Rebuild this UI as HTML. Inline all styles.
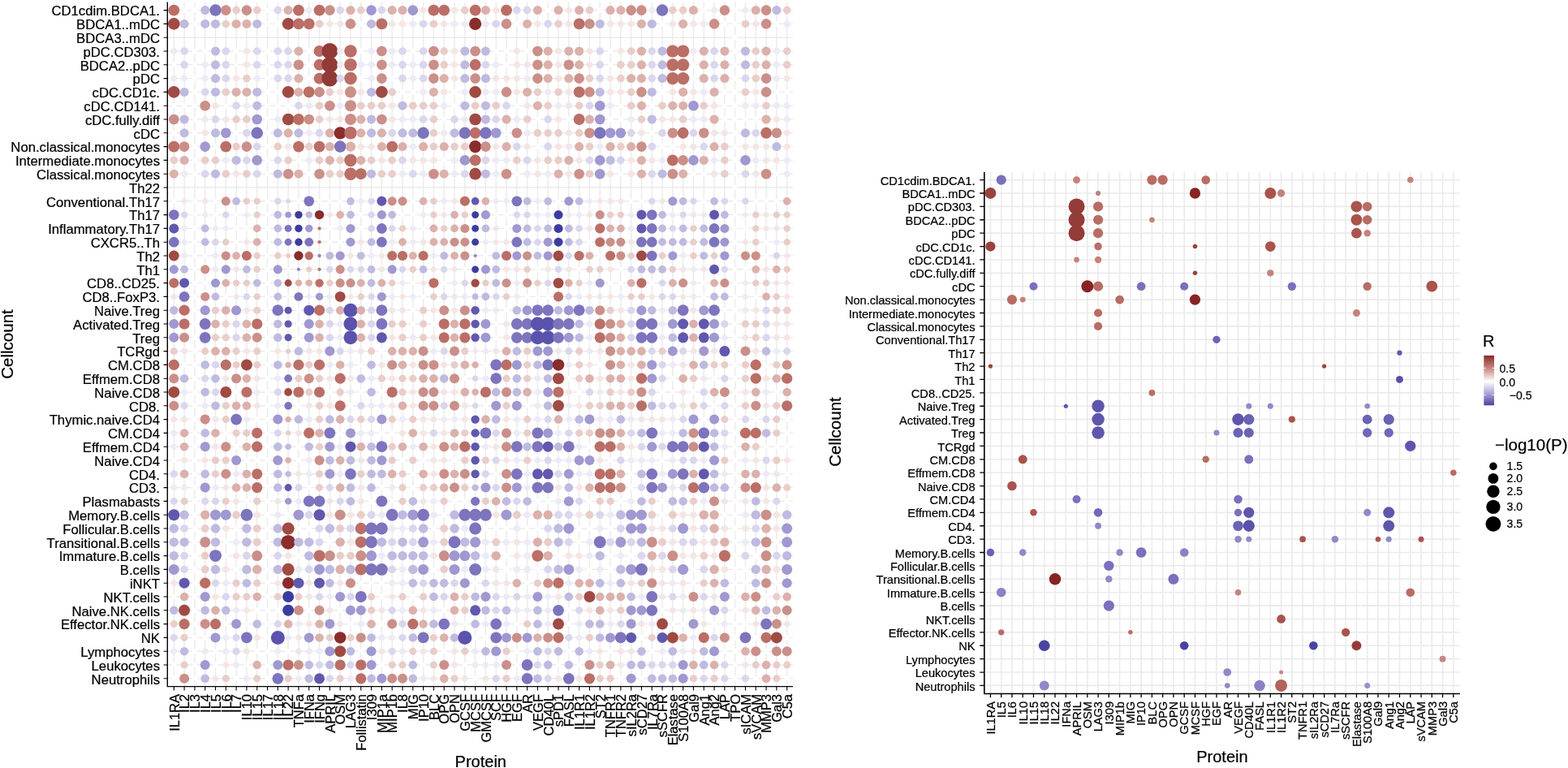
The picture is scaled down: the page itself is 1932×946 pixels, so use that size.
<!DOCTYPE html>
<html><head><meta charset="utf-8"><title>Cellcount vs Protein</title>
<style>html,body{margin:0;padding:0;background:#fff;}body{width:1932px;height:946px;overflow:hidden;}svg{display:block;}text{stroke:#000;stroke-width:0.22px;paint-order:stroke;}</style>
</head><body>
<svg width="1932" height="946" viewBox="0 0 1932 946" font-family="Liberation Sans, Arial, Helvetica, sans-serif">
<path d="M214.3 2.6V845.6M227.1 2.6V845.6M239.91 2.6V845.6M252.71 2.6V845.6M265.51 2.6V845.6M278.31 2.6V845.6M291.12 2.6V845.6M303.92 2.6V845.6M316.72 2.6V845.6M329.53 2.6V845.6M342.33 2.6V845.6M355.13 2.6V845.6M367.94 2.6V845.6M380.74 2.6V845.6M393.54 2.6V845.6M406.35 2.6V845.6M419.15 2.6V845.6M431.95 2.6V845.6M444.75 2.6V845.6M457.56 2.6V845.6M470.36 2.6V845.6M483.16 2.6V845.6M495.97 2.6V845.6M508.77 2.6V845.6M521.57 2.6V845.6M534.38 2.6V845.6M547.18 2.6V845.6M559.98 2.6V845.6M572.78 2.6V845.6M585.59 2.6V845.6M598.39 2.6V845.6M611.19 2.6V845.6M624 2.6V845.6M636.8 2.6V845.6M649.6 2.6V845.6M662.4 2.6V845.6M675.21 2.6V845.6M688.01 2.6V845.6M700.81 2.6V845.6M713.62 2.6V845.6M726.42 2.6V845.6M739.22 2.6V845.6M752.03 2.6V845.6M764.83 2.6V845.6M777.63 2.6V845.6M790.43 2.6V845.6M803.24 2.6V845.6M816.04 2.6V845.6M828.84 2.6V845.6M841.65 2.6V845.6M854.45 2.6V845.6M867.25 2.6V845.6M880.06 2.6V845.6M892.86 2.6V845.6M905.66 2.6V845.6M918.47 2.6V845.6M931.27 2.6V845.6M944.07 2.6V845.6M956.87 2.6V845.6M969.68 2.6V845.6M206.3 12.6H977M206.3 29.4H977M206.3 46.2H977M206.3 63H977M206.3 79.8H977M206.3 96.6H977M206.3 113.4H977M206.3 130.2H977M206.3 147H977M206.3 163.8H977M206.3 180.6H977M206.3 197.4H977M206.3 214.2H977M206.3 231H977M206.3 247.8H977M206.3 264.6H977M206.3 281.4H977M206.3 298.2H977M206.3 315H977M206.3 331.8H977M206.3 348.6H977M206.3 365.4H977M206.3 382.2H977M206.3 399H977M206.3 415.8H977M206.3 432.6H977M206.3 449.4H977M206.3 466.2H977M206.3 483H977M206.3 499.8H977M206.3 516.6H977M206.3 533.4H977M206.3 550.2H977M206.3 567H977M206.3 583.8H977M206.3 600.6H977M206.3 617.4H977M206.3 634.2H977M206.3 651H977M206.3 667.8H977M206.3 684.6H977M206.3 701.4H977M206.3 718.2H977M206.3 735H977M206.3 751.8H977M206.3 768.6H977M206.3 785.4H977M206.3 802.2H977M206.3 819H977M206.3 835.8H977" stroke="#ebebeb" stroke-width="1.4" fill="none"/>
<circle cx="214.3" cy="12.6" r="6.93" fill="#bb6e66"/>
<circle cx="227.1" cy="12.6" r="3.15" fill="#ffffff"/>
<circle cx="239.91" cy="12.6" r="3.15" fill="#ffffff"/>
<circle cx="252.71" cy="12.6" r="5.51" fill="#bfbae0"/>
<circle cx="265.51" cy="12.6" r="7.25" fill="#7d74be"/>
<circle cx="278.31" cy="12.6" r="6.3" fill="#cb8f89"/>
<circle cx="291.12" cy="12.6" r="4.73" fill="#e9cdc9"/>
<circle cx="303.92" cy="12.6" r="6.3" fill="#cb8f89"/>
<circle cx="316.72" cy="12.6" r="4.73" fill="#e9cdc9"/>
<circle cx="329.53" cy="12.6" r="3.15" fill="#ffffff"/>
<circle cx="342.33" cy="12.6" r="4.73" fill="#d9d6ee"/>
<circle cx="355.13" cy="12.6" r="5.51" fill="#dcb0ab"/>
<circle cx="367.94" cy="12.6" r="6.93" fill="#bb6e66"/>
<circle cx="380.74" cy="12.6" r="3.94" fill="#ecebf6"/>
<circle cx="393.54" cy="12.6" r="6.93" fill="#bb6e66"/>
<circle cx="406.35" cy="12.6" r="6.3" fill="#cb8f89"/>
<circle cx="419.15" cy="12.6" r="4.73" fill="#d9d6ee"/>
<circle cx="431.95" cy="12.6" r="5.51" fill="#dcb0ab"/>
<circle cx="444.75" cy="12.6" r="4.73" fill="#e9cdc9"/>
<circle cx="457.56" cy="12.6" r="6.3" fill="#a098d0"/>
<circle cx="470.36" cy="12.6" r="4.73" fill="#d9d6ee"/>
<circle cx="483.16" cy="12.6" r="5.51" fill="#dcb0ab"/>
<circle cx="495.97" cy="12.6" r="5.51" fill="#dcb0ab"/>
<circle cx="508.77" cy="12.6" r="6.3" fill="#a098d0"/>
<circle cx="521.57" cy="12.6" r="3.94" fill="#f4e6e4"/>
<circle cx="534.38" cy="12.6" r="6.93" fill="#bb6e66"/>
<circle cx="547.18" cy="12.6" r="6.93" fill="#bb6e66"/>
<circle cx="559.98" cy="12.6" r="3.94" fill="#f4e6e4"/>
<circle cx="572.78" cy="12.6" r="4.73" fill="#e9cdc9"/>
<circle cx="585.59" cy="12.6" r="6.93" fill="#bb6e66"/>
<circle cx="598.39" cy="12.6" r="5.51" fill="#dcb0ab"/>
<circle cx="611.19" cy="12.6" r="3.94" fill="#f4e6e4"/>
<circle cx="624" cy="12.6" r="6.93" fill="#bb6e66"/>
<circle cx="636.8" cy="12.6" r="4.73" fill="#d9d6ee"/>
<circle cx="649.6" cy="12.6" r="4.73" fill="#d9d6ee"/>
<circle cx="662.4" cy="12.6" r="5.51" fill="#dcb0ab"/>
<circle cx="675.21" cy="12.6" r="3.15" fill="#ffffff"/>
<circle cx="688.01" cy="12.6" r="5.51" fill="#dcb0ab"/>
<circle cx="700.81" cy="12.6" r="3.94" fill="#f4e6e4"/>
<circle cx="713.62" cy="12.6" r="5.51" fill="#dcb0ab"/>
<circle cx="726.42" cy="12.6" r="4.73" fill="#e9cdc9"/>
<circle cx="739.22" cy="12.6" r="3.15" fill="#ffffff"/>
<circle cx="752.03" cy="12.6" r="5.51" fill="#dcb0ab"/>
<circle cx="764.83" cy="12.6" r="5.51" fill="#dcb0ab"/>
<circle cx="777.63" cy="12.6" r="6.3" fill="#cb8f89"/>
<circle cx="790.43" cy="12.6" r="6.3" fill="#cb8f89"/>
<circle cx="803.24" cy="12.6" r="3.94" fill="#ecebf6"/>
<circle cx="816.04" cy="12.6" r="7.25" fill="#7d74be"/>
<circle cx="828.84" cy="12.6" r="4.73" fill="#e9cdc9"/>
<circle cx="841.65" cy="12.6" r="4.73" fill="#e9cdc9"/>
<circle cx="854.45" cy="12.6" r="5.51" fill="#dcb0ab"/>
<circle cx="867.25" cy="12.6" r="3.15" fill="#ffffff"/>
<circle cx="880.06" cy="12.6" r="3.94" fill="#ecebf6"/>
<circle cx="892.86" cy="12.6" r="6.3" fill="#cb8f89"/>
<circle cx="905.66" cy="12.6" r="3.15" fill="#ffffff"/>
<circle cx="918.47" cy="12.6" r="3.94" fill="#ecebf6"/>
<circle cx="931.27" cy="12.6" r="5.51" fill="#dcb0ab"/>
<circle cx="944.07" cy="12.6" r="6.3" fill="#cb8f89"/>
<circle cx="956.87" cy="12.6" r="5.51" fill="#bfbae0"/>
<circle cx="969.68" cy="12.6" r="4.73" fill="#e9cdc9"/>
<circle cx="214.3" cy="29.4" r="7.35" fill="#a04a44"/>
<circle cx="227.1" cy="29.4" r="5.51" fill="#bfbae0"/>
<circle cx="239.91" cy="29.4" r="3.15" fill="#ffffff"/>
<circle cx="252.71" cy="29.4" r="5.51" fill="#bfbae0"/>
<circle cx="265.51" cy="29.4" r="5.51" fill="#bfbae0"/>
<circle cx="278.31" cy="29.4" r="4.73" fill="#e9cdc9"/>
<circle cx="291.12" cy="29.4" r="5.51" fill="#dcb0ab"/>
<circle cx="303.92" cy="29.4" r="5.51" fill="#dcb0ab"/>
<circle cx="316.72" cy="29.4" r="5.51" fill="#bfbae0"/>
<circle cx="329.53" cy="29.4" r="3.15" fill="#ffffff"/>
<circle cx="342.33" cy="29.4" r="3.15" fill="#ffffff"/>
<circle cx="355.13" cy="29.4" r="7.35" fill="#a04a44"/>
<circle cx="367.94" cy="29.4" r="6.93" fill="#bb6e66"/>
<circle cx="380.74" cy="29.4" r="6.93" fill="#bb6e66"/>
<circle cx="393.54" cy="29.4" r="4.73" fill="#e9cdc9"/>
<circle cx="406.35" cy="29.4" r="3.94" fill="#f4e6e4"/>
<circle cx="419.15" cy="29.4" r="3.94" fill="#f4e6e4"/>
<circle cx="431.95" cy="29.4" r="6.3" fill="#cb8f89"/>
<circle cx="444.75" cy="29.4" r="3.15" fill="#ffffff"/>
<circle cx="457.56" cy="29.4" r="5.51" fill="#bfbae0"/>
<circle cx="470.36" cy="29.4" r="6.93" fill="#bb6e66"/>
<circle cx="483.16" cy="29.4" r="3.94" fill="#f4e6e4"/>
<circle cx="495.97" cy="29.4" r="3.94" fill="#f4e6e4"/>
<circle cx="508.77" cy="29.4" r="3.94" fill="#ecebf6"/>
<circle cx="521.57" cy="29.4" r="4.73" fill="#d9d6ee"/>
<circle cx="534.38" cy="29.4" r="4.73" fill="#e9cdc9"/>
<circle cx="547.18" cy="29.4" r="3.94" fill="#f4e6e4"/>
<circle cx="559.98" cy="29.4" r="3.94" fill="#ecebf6"/>
<circle cx="572.78" cy="29.4" r="3.94" fill="#ecebf6"/>
<circle cx="585.59" cy="29.4" r="7.61" fill="#892c2c"/>
<circle cx="598.39" cy="29.4" r="3.94" fill="#ecebf6"/>
<circle cx="611.19" cy="29.4" r="4.73" fill="#d9d6ee"/>
<circle cx="624" cy="29.4" r="6.3" fill="#cb8f89"/>
<circle cx="636.8" cy="29.4" r="3.15" fill="#ffffff"/>
<circle cx="649.6" cy="29.4" r="5.51" fill="#dcb0ab"/>
<circle cx="662.4" cy="29.4" r="3.94" fill="#f4e6e4"/>
<circle cx="675.21" cy="29.4" r="4.73" fill="#d9d6ee"/>
<circle cx="688.01" cy="29.4" r="4.73" fill="#e9cdc9"/>
<circle cx="700.81" cy="29.4" r="3.94" fill="#f4e6e4"/>
<circle cx="713.62" cy="29.4" r="6.93" fill="#bb6e66"/>
<circle cx="726.42" cy="29.4" r="6.3" fill="#cb8f89"/>
<circle cx="739.22" cy="29.4" r="5.51" fill="#bfbae0"/>
<circle cx="752.03" cy="29.4" r="3.94" fill="#f4e6e4"/>
<circle cx="764.83" cy="29.4" r="3.94" fill="#f4e6e4"/>
<circle cx="777.63" cy="29.4" r="3.94" fill="#f4e6e4"/>
<circle cx="790.43" cy="29.4" r="5.51" fill="#dcb0ab"/>
<circle cx="803.24" cy="29.4" r="5.51" fill="#bfbae0"/>
<circle cx="816.04" cy="29.4" r="3.15" fill="#ffffff"/>
<circle cx="828.84" cy="29.4" r="3.94" fill="#f4e6e4"/>
<circle cx="841.65" cy="29.4" r="5.51" fill="#dcb0ab"/>
<circle cx="854.45" cy="29.4" r="3.94" fill="#f4e6e4"/>
<circle cx="867.25" cy="29.4" r="3.94" fill="#ecebf6"/>
<circle cx="880.06" cy="29.4" r="6.3" fill="#cb8f89"/>
<circle cx="892.86" cy="29.4" r="3.15" fill="#ffffff"/>
<circle cx="905.66" cy="29.4" r="3.15" fill="#ffffff"/>
<circle cx="918.47" cy="29.4" r="4.73" fill="#e9cdc9"/>
<circle cx="931.27" cy="29.4" r="3.94" fill="#f4e6e4"/>
<circle cx="944.07" cy="29.4" r="6.3" fill="#cb8f89"/>
<circle cx="956.87" cy="29.4" r="3.15" fill="#ffffff"/>
<circle cx="969.68" cy="29.4" r="3.94" fill="#ecebf6"/>
<circle cx="905.66" cy="46.2" r="3.15" fill="#ffffff"/>
<circle cx="214.3" cy="63" r="3.94" fill="#ecebf6"/>
<circle cx="227.1" cy="63" r="4.73" fill="#d9d6ee"/>
<circle cx="239.91" cy="63" r="3.15" fill="#ffffff"/>
<circle cx="252.71" cy="63" r="3.15" fill="#ffffff"/>
<circle cx="265.51" cy="63" r="5.51" fill="#bfbae0"/>
<circle cx="278.31" cy="63" r="4.73" fill="#d9d6ee"/>
<circle cx="291.12" cy="63" r="3.15" fill="#ffffff"/>
<circle cx="303.92" cy="63" r="3.94" fill="#f4e6e4"/>
<circle cx="316.72" cy="63" r="4.73" fill="#d9d6ee"/>
<circle cx="329.53" cy="63" r="3.15" fill="#ffffff"/>
<circle cx="342.33" cy="63" r="4.73" fill="#d9d6ee"/>
<circle cx="355.13" cy="63" r="4.73" fill="#d9d6ee"/>
<circle cx="367.94" cy="63" r="5.51" fill="#dcb0ab"/>
<circle cx="380.74" cy="63" r="3.15" fill="#ffffff"/>
<circle cx="393.54" cy="63" r="6.93" fill="#bb6e66"/>
<circle cx="406.35" cy="63" r="9.97" fill="#923a36"/>
<circle cx="419.15" cy="63" r="3.94" fill="#ecebf6"/>
<circle cx="431.95" cy="63" r="7.76" fill="#bb6e66"/>
<circle cx="444.75" cy="63" r="3.15" fill="#ffffff"/>
<circle cx="457.56" cy="63" r="3.94" fill="#ecebf6"/>
<circle cx="470.36" cy="63" r="6.3" fill="#cb8f89"/>
<circle cx="483.16" cy="63" r="3.94" fill="#ecebf6"/>
<circle cx="495.97" cy="63" r="4.73" fill="#d9d6ee"/>
<circle cx="508.77" cy="63" r="3.15" fill="#ffffff"/>
<circle cx="521.57" cy="63" r="4.73" fill="#d9d6ee"/>
<circle cx="534.38" cy="63" r="6.3" fill="#cb8f89"/>
<circle cx="547.18" cy="63" r="4.73" fill="#e9cdc9"/>
<circle cx="559.98" cy="63" r="3.94" fill="#f4e6e4"/>
<circle cx="572.78" cy="63" r="5.51" fill="#bfbae0"/>
<circle cx="585.59" cy="63" r="6.3" fill="#cb8f89"/>
<circle cx="598.39" cy="63" r="5.51" fill="#bfbae0"/>
<circle cx="611.19" cy="63" r="3.15" fill="#ffffff"/>
<circle cx="624" cy="63" r="3.15" fill="#ffffff"/>
<circle cx="636.8" cy="63" r="3.94" fill="#f4e6e4"/>
<circle cx="649.6" cy="63" r="3.15" fill="#ffffff"/>
<circle cx="662.4" cy="63" r="6.3" fill="#cb8f89"/>
<circle cx="675.21" cy="63" r="5.51" fill="#dcb0ab"/>
<circle cx="688.01" cy="63" r="3.94" fill="#f4e6e4"/>
<circle cx="700.81" cy="63" r="5.51" fill="#dcb0ab"/>
<circle cx="713.62" cy="63" r="5.51" fill="#dcb0ab"/>
<circle cx="726.42" cy="63" r="3.94" fill="#f4e6e4"/>
<circle cx="739.22" cy="63" r="4.73" fill="#d9d6ee"/>
<circle cx="752.03" cy="63" r="3.15" fill="#ffffff"/>
<circle cx="764.83" cy="63" r="3.94" fill="#f4e6e4"/>
<circle cx="777.63" cy="63" r="4.73" fill="#e9cdc9"/>
<circle cx="790.43" cy="63" r="5.51" fill="#dcb0ab"/>
<circle cx="803.24" cy="63" r="4.73" fill="#d9d6ee"/>
<circle cx="816.04" cy="63" r="5.51" fill="#bfbae0"/>
<circle cx="828.84" cy="63" r="7.62" fill="#bb6e66"/>
<circle cx="841.65" cy="63" r="7.62" fill="#bb6e66"/>
<circle cx="854.45" cy="63" r="3.94" fill="#ecebf6"/>
<circle cx="867.25" cy="63" r="5.51" fill="#dcb0ab"/>
<circle cx="880.06" cy="63" r="4.73" fill="#d9d6ee"/>
<circle cx="892.86" cy="63" r="5.51" fill="#dcb0ab"/>
<circle cx="905.66" cy="63" r="3.15" fill="#ffffff"/>
<circle cx="918.47" cy="63" r="5.51" fill="#bfbae0"/>
<circle cx="931.27" cy="63" r="4.73" fill="#e9cdc9"/>
<circle cx="944.07" cy="63" r="5.51" fill="#dcb0ab"/>
<circle cx="956.87" cy="63" r="3.94" fill="#ecebf6"/>
<circle cx="969.68" cy="63" r="4.73" fill="#e9cdc9"/>
<circle cx="214.3" cy="79.8" r="3.15" fill="#ffffff"/>
<circle cx="227.1" cy="79.8" r="4.73" fill="#d9d6ee"/>
<circle cx="239.91" cy="79.8" r="3.15" fill="#ffffff"/>
<circle cx="252.71" cy="79.8" r="3.94" fill="#ecebf6"/>
<circle cx="265.51" cy="79.8" r="5.51" fill="#bfbae0"/>
<circle cx="278.31" cy="79.8" r="4.73" fill="#d9d6ee"/>
<circle cx="291.12" cy="79.8" r="3.15" fill="#ffffff"/>
<circle cx="303.92" cy="79.8" r="3.94" fill="#f4e6e4"/>
<circle cx="316.72" cy="79.8" r="4.73" fill="#d9d6ee"/>
<circle cx="329.53" cy="79.8" r="3.15" fill="#ffffff"/>
<circle cx="342.33" cy="79.8" r="4.73" fill="#d9d6ee"/>
<circle cx="355.13" cy="79.8" r="4.73" fill="#d9d6ee"/>
<circle cx="367.94" cy="79.8" r="6.3" fill="#cb8f89"/>
<circle cx="380.74" cy="79.8" r="3.15" fill="#ffffff"/>
<circle cx="393.54" cy="79.8" r="6.93" fill="#bb6e66"/>
<circle cx="406.35" cy="79.8" r="9.97" fill="#923a36"/>
<circle cx="419.15" cy="79.8" r="3.94" fill="#ecebf6"/>
<circle cx="431.95" cy="79.8" r="7.76" fill="#bb6e66"/>
<circle cx="444.75" cy="79.8" r="3.94" fill="#ecebf6"/>
<circle cx="457.56" cy="79.8" r="3.94" fill="#ecebf6"/>
<circle cx="470.36" cy="79.8" r="6.3" fill="#cb8f89"/>
<circle cx="483.16" cy="79.8" r="3.94" fill="#ecebf6"/>
<circle cx="495.97" cy="79.8" r="4.73" fill="#d9d6ee"/>
<circle cx="508.77" cy="79.8" r="3.94" fill="#ecebf6"/>
<circle cx="521.57" cy="79.8" r="4.73" fill="#d9d6ee"/>
<circle cx="534.38" cy="79.8" r="6.3" fill="#cb8f89"/>
<circle cx="547.18" cy="79.8" r="4.73" fill="#e9cdc9"/>
<circle cx="559.98" cy="79.8" r="3.94" fill="#f4e6e4"/>
<circle cx="572.78" cy="79.8" r="5.51" fill="#bfbae0"/>
<circle cx="585.59" cy="79.8" r="6.93" fill="#bb6e66"/>
<circle cx="598.39" cy="79.8" r="4.73" fill="#d9d6ee"/>
<circle cx="611.19" cy="79.8" r="3.94" fill="#ecebf6"/>
<circle cx="624" cy="79.8" r="3.15" fill="#ffffff"/>
<circle cx="636.8" cy="79.8" r="3.94" fill="#f4e6e4"/>
<circle cx="649.6" cy="79.8" r="3.94" fill="#f4e6e4"/>
<circle cx="662.4" cy="79.8" r="6.3" fill="#cb8f89"/>
<circle cx="675.21" cy="79.8" r="5.51" fill="#dcb0ab"/>
<circle cx="688.01" cy="79.8" r="3.94" fill="#f4e6e4"/>
<circle cx="700.81" cy="79.8" r="6.3" fill="#cb8f89"/>
<circle cx="713.62" cy="79.8" r="5.51" fill="#dcb0ab"/>
<circle cx="726.42" cy="79.8" r="3.94" fill="#f4e6e4"/>
<circle cx="739.22" cy="79.8" r="4.73" fill="#d9d6ee"/>
<circle cx="752.03" cy="79.8" r="3.15" fill="#ffffff"/>
<circle cx="764.83" cy="79.8" r="4.73" fill="#e9cdc9"/>
<circle cx="777.63" cy="79.8" r="4.73" fill="#e9cdc9"/>
<circle cx="790.43" cy="79.8" r="5.51" fill="#dcb0ab"/>
<circle cx="803.24" cy="79.8" r="4.73" fill="#d9d6ee"/>
<circle cx="816.04" cy="79.8" r="5.51" fill="#bfbae0"/>
<circle cx="828.84" cy="79.8" r="7.62" fill="#bb6e66"/>
<circle cx="841.65" cy="79.8" r="7.62" fill="#bb6e66"/>
<circle cx="854.45" cy="79.8" r="3.15" fill="#ffffff"/>
<circle cx="867.25" cy="79.8" r="5.51" fill="#dcb0ab"/>
<circle cx="880.06" cy="79.8" r="4.73" fill="#d9d6ee"/>
<circle cx="892.86" cy="79.8" r="5.51" fill="#dcb0ab"/>
<circle cx="905.66" cy="79.8" r="3.15" fill="#ffffff"/>
<circle cx="918.47" cy="79.8" r="5.51" fill="#bfbae0"/>
<circle cx="931.27" cy="79.8" r="4.73" fill="#e9cdc9"/>
<circle cx="944.07" cy="79.8" r="5.51" fill="#dcb0ab"/>
<circle cx="956.87" cy="79.8" r="3.94" fill="#ecebf6"/>
<circle cx="969.68" cy="79.8" r="4.73" fill="#e9cdc9"/>
<circle cx="214.3" cy="96.6" r="3.94" fill="#ecebf6"/>
<circle cx="227.1" cy="96.6" r="3.94" fill="#ecebf6"/>
<circle cx="239.91" cy="96.6" r="3.15" fill="#ffffff"/>
<circle cx="252.71" cy="96.6" r="3.94" fill="#ecebf6"/>
<circle cx="265.51" cy="96.6" r="5.51" fill="#bfbae0"/>
<circle cx="278.31" cy="96.6" r="4.73" fill="#d9d6ee"/>
<circle cx="291.12" cy="96.6" r="3.94" fill="#f4e6e4"/>
<circle cx="303.92" cy="96.6" r="4.73" fill="#e9cdc9"/>
<circle cx="316.72" cy="96.6" r="3.94" fill="#ecebf6"/>
<circle cx="329.53" cy="96.6" r="3.15" fill="#ffffff"/>
<circle cx="342.33" cy="96.6" r="4.73" fill="#d9d6ee"/>
<circle cx="355.13" cy="96.6" r="4.73" fill="#d9d6ee"/>
<circle cx="367.94" cy="96.6" r="5.51" fill="#dcb0ab"/>
<circle cx="380.74" cy="96.6" r="3.15" fill="#ffffff"/>
<circle cx="393.54" cy="96.6" r="6.93" fill="#bb6e66"/>
<circle cx="406.35" cy="96.6" r="9.97" fill="#923a36"/>
<circle cx="419.15" cy="96.6" r="4.73" fill="#d9d6ee"/>
<circle cx="431.95" cy="96.6" r="7.76" fill="#bb6e66"/>
<circle cx="444.75" cy="96.6" r="3.15" fill="#ffffff"/>
<circle cx="457.56" cy="96.6" r="3.94" fill="#ecebf6"/>
<circle cx="470.36" cy="96.6" r="6.3" fill="#cb8f89"/>
<circle cx="483.16" cy="96.6" r="3.15" fill="#ffffff"/>
<circle cx="495.97" cy="96.6" r="4.73" fill="#d9d6ee"/>
<circle cx="508.77" cy="96.6" r="3.94" fill="#ecebf6"/>
<circle cx="521.57" cy="96.6" r="4.73" fill="#d9d6ee"/>
<circle cx="534.38" cy="96.6" r="6.3" fill="#cb8f89"/>
<circle cx="547.18" cy="96.6" r="5.51" fill="#dcb0ab"/>
<circle cx="559.98" cy="96.6" r="3.94" fill="#f4e6e4"/>
<circle cx="572.78" cy="96.6" r="5.51" fill="#bfbae0"/>
<circle cx="585.59" cy="96.6" r="6.3" fill="#cb8f89"/>
<circle cx="598.39" cy="96.6" r="5.51" fill="#bfbae0"/>
<circle cx="611.19" cy="96.6" r="3.94" fill="#f4e6e4"/>
<circle cx="624" cy="96.6" r="3.94" fill="#f4e6e4"/>
<circle cx="636.8" cy="96.6" r="3.94" fill="#f4e6e4"/>
<circle cx="649.6" cy="96.6" r="3.94" fill="#ecebf6"/>
<circle cx="662.4" cy="96.6" r="6.3" fill="#cb8f89"/>
<circle cx="675.21" cy="96.6" r="5.51" fill="#dcb0ab"/>
<circle cx="688.01" cy="96.6" r="3.94" fill="#f4e6e4"/>
<circle cx="700.81" cy="96.6" r="5.51" fill="#dcb0ab"/>
<circle cx="713.62" cy="96.6" r="6.3" fill="#cb8f89"/>
<circle cx="726.42" cy="96.6" r="4.73" fill="#e9cdc9"/>
<circle cx="739.22" cy="96.6" r="4.73" fill="#d9d6ee"/>
<circle cx="752.03" cy="96.6" r="3.94" fill="#f4e6e4"/>
<circle cx="764.83" cy="96.6" r="4.73" fill="#e9cdc9"/>
<circle cx="777.63" cy="96.6" r="5.51" fill="#dcb0ab"/>
<circle cx="790.43" cy="96.6" r="5.51" fill="#dcb0ab"/>
<circle cx="803.24" cy="96.6" r="4.73" fill="#d9d6ee"/>
<circle cx="816.04" cy="96.6" r="5.51" fill="#bfbae0"/>
<circle cx="828.84" cy="96.6" r="7.62" fill="#bb6e66"/>
<circle cx="841.65" cy="96.6" r="7.62" fill="#bb6e66"/>
<circle cx="854.45" cy="96.6" r="3.15" fill="#ffffff"/>
<circle cx="867.25" cy="96.6" r="5.51" fill="#dcb0ab"/>
<circle cx="880.06" cy="96.6" r="4.73" fill="#d9d6ee"/>
<circle cx="892.86" cy="96.6" r="5.51" fill="#dcb0ab"/>
<circle cx="905.66" cy="96.6" r="3.15" fill="#ffffff"/>
<circle cx="918.47" cy="96.6" r="4.73" fill="#d9d6ee"/>
<circle cx="931.27" cy="96.6" r="4.73" fill="#e9cdc9"/>
<circle cx="944.07" cy="96.6" r="6.3" fill="#cb8f89"/>
<circle cx="956.87" cy="96.6" r="3.94" fill="#ecebf6"/>
<circle cx="969.68" cy="96.6" r="3.94" fill="#f4e6e4"/>
<circle cx="214.3" cy="113.4" r="7.35" fill="#a04a44"/>
<circle cx="227.1" cy="113.4" r="5.51" fill="#bfbae0"/>
<circle cx="239.91" cy="113.4" r="3.15" fill="#ffffff"/>
<circle cx="252.71" cy="113.4" r="4.73" fill="#d9d6ee"/>
<circle cx="265.51" cy="113.4" r="5.51" fill="#bfbae0"/>
<circle cx="278.31" cy="113.4" r="4.73" fill="#e9cdc9"/>
<circle cx="291.12" cy="113.4" r="5.51" fill="#dcb0ab"/>
<circle cx="303.92" cy="113.4" r="5.51" fill="#dcb0ab"/>
<circle cx="316.72" cy="113.4" r="5.51" fill="#bfbae0"/>
<circle cx="329.53" cy="113.4" r="3.15" fill="#ffffff"/>
<circle cx="342.33" cy="113.4" r="3.15" fill="#ffffff"/>
<circle cx="355.13" cy="113.4" r="7.35" fill="#a04a44"/>
<circle cx="367.94" cy="113.4" r="5.51" fill="#dcb0ab"/>
<circle cx="380.74" cy="113.4" r="6.93" fill="#bb6e66"/>
<circle cx="393.54" cy="113.4" r="6.3" fill="#cb8f89"/>
<circle cx="406.35" cy="113.4" r="4.73" fill="#e9cdc9"/>
<circle cx="419.15" cy="113.4" r="3.94" fill="#f4e6e4"/>
<circle cx="431.95" cy="113.4" r="7.06" fill="#cb8f89"/>
<circle cx="444.75" cy="113.4" r="3.94" fill="#f4e6e4"/>
<circle cx="457.56" cy="113.4" r="5.51" fill="#bfbae0"/>
<circle cx="470.36" cy="113.4" r="7.35" fill="#a04a44"/>
<circle cx="483.16" cy="113.4" r="4.73" fill="#e9cdc9"/>
<circle cx="495.97" cy="113.4" r="3.15" fill="#ffffff"/>
<circle cx="508.77" cy="113.4" r="3.15" fill="#ffffff"/>
<circle cx="521.57" cy="113.4" r="3.94" fill="#ecebf6"/>
<circle cx="534.38" cy="113.4" r="5.51" fill="#dcb0ab"/>
<circle cx="547.18" cy="113.4" r="3.94" fill="#f4e6e4"/>
<circle cx="559.98" cy="113.4" r="3.15" fill="#ffffff"/>
<circle cx="572.78" cy="113.4" r="3.94" fill="#ecebf6"/>
<circle cx="585.59" cy="113.4" r="7.35" fill="#a04a44"/>
<circle cx="598.39" cy="113.4" r="3.94" fill="#ecebf6"/>
<circle cx="611.19" cy="113.4" r="3.94" fill="#ecebf6"/>
<circle cx="624" cy="113.4" r="6.3" fill="#cb8f89"/>
<circle cx="636.8" cy="113.4" r="3.94" fill="#f4e6e4"/>
<circle cx="649.6" cy="113.4" r="5.51" fill="#dcb0ab"/>
<circle cx="662.4" cy="113.4" r="4.73" fill="#e9cdc9"/>
<circle cx="675.21" cy="113.4" r="3.94" fill="#ecebf6"/>
<circle cx="688.01" cy="113.4" r="4.73" fill="#e9cdc9"/>
<circle cx="700.81" cy="113.4" r="3.94" fill="#f4e6e4"/>
<circle cx="713.62" cy="113.4" r="6.93" fill="#bb6e66"/>
<circle cx="726.42" cy="113.4" r="6.3" fill="#cb8f89"/>
<circle cx="739.22" cy="113.4" r="5.51" fill="#bfbae0"/>
<circle cx="752.03" cy="113.4" r="3.94" fill="#f4e6e4"/>
<circle cx="764.83" cy="113.4" r="3.94" fill="#f4e6e4"/>
<circle cx="777.63" cy="113.4" r="4.73" fill="#e9cdc9"/>
<circle cx="790.43" cy="113.4" r="6.3" fill="#cb8f89"/>
<circle cx="803.24" cy="113.4" r="5.51" fill="#bfbae0"/>
<circle cx="816.04" cy="113.4" r="3.15" fill="#ffffff"/>
<circle cx="828.84" cy="113.4" r="3.94" fill="#f4e6e4"/>
<circle cx="841.65" cy="113.4" r="5.51" fill="#dcb0ab"/>
<circle cx="854.45" cy="113.4" r="3.94" fill="#f4e6e4"/>
<circle cx="867.25" cy="113.4" r="3.94" fill="#ecebf6"/>
<circle cx="880.06" cy="113.4" r="5.51" fill="#dcb0ab"/>
<circle cx="892.86" cy="113.4" r="3.15" fill="#ffffff"/>
<circle cx="905.66" cy="113.4" r="3.15" fill="#ffffff"/>
<circle cx="918.47" cy="113.4" r="4.73" fill="#e9cdc9"/>
<circle cx="931.27" cy="113.4" r="3.94" fill="#f4e6e4"/>
<circle cx="944.07" cy="113.4" r="6.3" fill="#cb8f89"/>
<circle cx="956.87" cy="113.4" r="3.15" fill="#ffffff"/>
<circle cx="969.68" cy="113.4" r="3.15" fill="#ffffff"/>
<circle cx="214.3" cy="130.2" r="3.15" fill="#ffffff"/>
<circle cx="227.1" cy="130.2" r="3.15" fill="#ffffff"/>
<circle cx="239.91" cy="130.2" r="3.15" fill="#ffffff"/>
<circle cx="252.71" cy="130.2" r="6.3" fill="#cb8f89"/>
<circle cx="265.51" cy="130.2" r="3.94" fill="#f4e6e4"/>
<circle cx="278.31" cy="130.2" r="3.15" fill="#ffffff"/>
<circle cx="291.12" cy="130.2" r="4.73" fill="#d9d6ee"/>
<circle cx="303.92" cy="130.2" r="3.94" fill="#ecebf6"/>
<circle cx="316.72" cy="130.2" r="5.51" fill="#bfbae0"/>
<circle cx="329.53" cy="130.2" r="3.15" fill="#ffffff"/>
<circle cx="342.33" cy="130.2" r="3.15" fill="#ffffff"/>
<circle cx="355.13" cy="130.2" r="3.15" fill="#ffffff"/>
<circle cx="367.94" cy="130.2" r="4.73" fill="#d9d6ee"/>
<circle cx="380.74" cy="130.2" r="3.94" fill="#ecebf6"/>
<circle cx="393.54" cy="130.2" r="4.73" fill="#e9cdc9"/>
<circle cx="406.35" cy="130.2" r="6.3" fill="#cb8f89"/>
<circle cx="419.15" cy="130.2" r="3.94" fill="#ecebf6"/>
<circle cx="431.95" cy="130.2" r="7.06" fill="#cb8f89"/>
<circle cx="444.75" cy="130.2" r="4.73" fill="#e9cdc9"/>
<circle cx="457.56" cy="130.2" r="4.73" fill="#e9cdc9"/>
<circle cx="470.36" cy="130.2" r="4.73" fill="#e9cdc9"/>
<circle cx="483.16" cy="130.2" r="3.94" fill="#f4e6e4"/>
<circle cx="495.97" cy="130.2" r="5.51" fill="#bfbae0"/>
<circle cx="508.77" cy="130.2" r="4.73" fill="#e9cdc9"/>
<circle cx="521.57" cy="130.2" r="4.73" fill="#e9cdc9"/>
<circle cx="534.38" cy="130.2" r="4.73" fill="#e9cdc9"/>
<circle cx="547.18" cy="130.2" r="3.94" fill="#ecebf6"/>
<circle cx="559.98" cy="130.2" r="3.15" fill="#ffffff"/>
<circle cx="572.78" cy="130.2" r="5.51" fill="#bfbae0"/>
<circle cx="585.59" cy="130.2" r="4.73" fill="#e9cdc9"/>
<circle cx="598.39" cy="130.2" r="5.51" fill="#bfbae0"/>
<circle cx="611.19" cy="130.2" r="4.73" fill="#e9cdc9"/>
<circle cx="624" cy="130.2" r="4.73" fill="#d9d6ee"/>
<circle cx="636.8" cy="130.2" r="3.15" fill="#ffffff"/>
<circle cx="649.6" cy="130.2" r="3.94" fill="#f4e6e4"/>
<circle cx="662.4" cy="130.2" r="5.51" fill="#dcb0ab"/>
<circle cx="675.21" cy="130.2" r="4.73" fill="#e9cdc9"/>
<circle cx="688.01" cy="130.2" r="3.94" fill="#ecebf6"/>
<circle cx="700.81" cy="130.2" r="3.94" fill="#f4e6e4"/>
<circle cx="713.62" cy="130.2" r="4.73" fill="#e9cdc9"/>
<circle cx="726.42" cy="130.2" r="4.73" fill="#d9d6ee"/>
<circle cx="739.22" cy="130.2" r="6.3" fill="#a098d0"/>
<circle cx="752.03" cy="130.2" r="3.94" fill="#ecebf6"/>
<circle cx="764.83" cy="130.2" r="3.15" fill="#ffffff"/>
<circle cx="777.63" cy="130.2" r="4.73" fill="#e9cdc9"/>
<circle cx="790.43" cy="130.2" r="5.51" fill="#dcb0ab"/>
<circle cx="803.24" cy="130.2" r="3.15" fill="#ffffff"/>
<circle cx="816.04" cy="130.2" r="4.73" fill="#e9cdc9"/>
<circle cx="828.84" cy="130.2" r="5.51" fill="#dcb0ab"/>
<circle cx="841.65" cy="130.2" r="5.51" fill="#dcb0ab"/>
<circle cx="854.45" cy="130.2" r="6.3" fill="#a098d0"/>
<circle cx="867.25" cy="130.2" r="4.73" fill="#e9cdc9"/>
<circle cx="880.06" cy="130.2" r="3.94" fill="#f4e6e4"/>
<circle cx="892.86" cy="130.2" r="3.15" fill="#ffffff"/>
<circle cx="905.66" cy="130.2" r="3.15" fill="#ffffff"/>
<circle cx="918.47" cy="130.2" r="3.94" fill="#ecebf6"/>
<circle cx="931.27" cy="130.2" r="3.94" fill="#ecebf6"/>
<circle cx="944.07" cy="130.2" r="4.73" fill="#e9cdc9"/>
<circle cx="956.87" cy="130.2" r="3.94" fill="#ecebf6"/>
<circle cx="969.68" cy="130.2" r="3.94" fill="#ecebf6"/>
<circle cx="214.3" cy="147" r="6.3" fill="#cb8f89"/>
<circle cx="227.1" cy="147" r="5.51" fill="#bfbae0"/>
<circle cx="239.91" cy="147" r="3.15" fill="#ffffff"/>
<circle cx="252.71" cy="147" r="3.94" fill="#ecebf6"/>
<circle cx="265.51" cy="147" r="4.73" fill="#d9d6ee"/>
<circle cx="278.31" cy="147" r="3.94" fill="#f4e6e4"/>
<circle cx="291.12" cy="147" r="4.73" fill="#e9cdc9"/>
<circle cx="303.92" cy="147" r="4.73" fill="#e9cdc9"/>
<circle cx="316.72" cy="147" r="6.3" fill="#a098d0"/>
<circle cx="329.53" cy="147" r="3.15" fill="#ffffff"/>
<circle cx="342.33" cy="147" r="3.94" fill="#ecebf6"/>
<circle cx="355.13" cy="147" r="7.35" fill="#a04a44"/>
<circle cx="367.94" cy="147" r="6.93" fill="#bb6e66"/>
<circle cx="380.74" cy="147" r="6.3" fill="#cb8f89"/>
<circle cx="393.54" cy="147" r="4.73" fill="#e9cdc9"/>
<circle cx="406.35" cy="147" r="3.94" fill="#f4e6e4"/>
<circle cx="419.15" cy="147" r="3.94" fill="#f4e6e4"/>
<circle cx="431.95" cy="147" r="7.06" fill="#cb8f89"/>
<circle cx="444.75" cy="147" r="5.51" fill="#dcb0ab"/>
<circle cx="457.56" cy="147" r="5.51" fill="#bfbae0"/>
<circle cx="470.36" cy="147" r="6.3" fill="#cb8f89"/>
<circle cx="483.16" cy="147" r="3.94" fill="#f4e6e4"/>
<circle cx="495.97" cy="147" r="3.94" fill="#ecebf6"/>
<circle cx="508.77" cy="147" r="3.94" fill="#ecebf6"/>
<circle cx="521.57" cy="147" r="4.73" fill="#d9d6ee"/>
<circle cx="534.38" cy="147" r="4.73" fill="#e9cdc9"/>
<circle cx="547.18" cy="147" r="3.15" fill="#ffffff"/>
<circle cx="559.98" cy="147" r="4.73" fill="#d9d6ee"/>
<circle cx="572.78" cy="147" r="3.94" fill="#ecebf6"/>
<circle cx="585.59" cy="147" r="7.35" fill="#a04a44"/>
<circle cx="598.39" cy="147" r="5.51" fill="#bfbae0"/>
<circle cx="611.19" cy="147" r="4.73" fill="#d9d6ee"/>
<circle cx="624" cy="147" r="5.51" fill="#dcb0ab"/>
<circle cx="636.8" cy="147" r="3.94" fill="#ecebf6"/>
<circle cx="649.6" cy="147" r="4.73" fill="#e9cdc9"/>
<circle cx="662.4" cy="147" r="3.15" fill="#ffffff"/>
<circle cx="675.21" cy="147" r="4.73" fill="#d9d6ee"/>
<circle cx="688.01" cy="147" r="3.94" fill="#f4e6e4"/>
<circle cx="700.81" cy="147" r="3.15" fill="#ffffff"/>
<circle cx="713.62" cy="147" r="6.93" fill="#bb6e66"/>
<circle cx="726.42" cy="147" r="5.51" fill="#dcb0ab"/>
<circle cx="739.22" cy="147" r="6.3" fill="#a098d0"/>
<circle cx="752.03" cy="147" r="3.15" fill="#ffffff"/>
<circle cx="764.83" cy="147" r="3.15" fill="#ffffff"/>
<circle cx="777.63" cy="147" r="3.94" fill="#ecebf6"/>
<circle cx="790.43" cy="147" r="4.73" fill="#e9cdc9"/>
<circle cx="803.24" cy="147" r="5.51" fill="#bfbae0"/>
<circle cx="816.04" cy="147" r="3.94" fill="#f4e6e4"/>
<circle cx="828.84" cy="147" r="3.94" fill="#f4e6e4"/>
<circle cx="841.65" cy="147" r="4.73" fill="#e9cdc9"/>
<circle cx="854.45" cy="147" r="3.94" fill="#ecebf6"/>
<circle cx="867.25" cy="147" r="3.94" fill="#ecebf6"/>
<circle cx="880.06" cy="147" r="5.51" fill="#dcb0ab"/>
<circle cx="892.86" cy="147" r="3.15" fill="#ffffff"/>
<circle cx="905.66" cy="147" r="3.15" fill="#ffffff"/>
<circle cx="918.47" cy="147" r="3.15" fill="#ffffff"/>
<circle cx="931.27" cy="147" r="3.15" fill="#ffffff"/>
<circle cx="944.07" cy="147" r="5.51" fill="#dcb0ab"/>
<circle cx="956.87" cy="147" r="3.94" fill="#f4e6e4"/>
<circle cx="969.68" cy="147" r="3.94" fill="#ecebf6"/>
<circle cx="214.3" cy="163.8" r="3.15" fill="#ffffff"/>
<circle cx="227.1" cy="163.8" r="5.51" fill="#bfbae0"/>
<circle cx="239.91" cy="163.8" r="3.15" fill="#ffffff"/>
<circle cx="252.71" cy="163.8" r="3.94" fill="#f4e6e4"/>
<circle cx="265.51" cy="163.8" r="5.51" fill="#bfbae0"/>
<circle cx="278.31" cy="163.8" r="6.3" fill="#a098d0"/>
<circle cx="291.12" cy="163.8" r="3.15" fill="#ffffff"/>
<circle cx="303.92" cy="163.8" r="4.73" fill="#d9d6ee"/>
<circle cx="316.72" cy="163.8" r="7.25" fill="#7d74be"/>
<circle cx="329.53" cy="163.8" r="3.15" fill="#ffffff"/>
<circle cx="342.33" cy="163.8" r="5.51" fill="#bfbae0"/>
<circle cx="355.13" cy="163.8" r="5.51" fill="#dcb0ab"/>
<circle cx="367.94" cy="163.8" r="5.51" fill="#bfbae0"/>
<circle cx="380.74" cy="163.8" r="3.94" fill="#ecebf6"/>
<circle cx="393.54" cy="163.8" r="4.73" fill="#d9d6ee"/>
<circle cx="406.35" cy="163.8" r="5.51" fill="#dcb0ab"/>
<circle cx="419.15" cy="163.8" r="7.61" fill="#892c2c"/>
<circle cx="431.95" cy="163.8" r="7.76" fill="#bb6e66"/>
<circle cx="444.75" cy="163.8" r="5.51" fill="#dcb0ab"/>
<circle cx="457.56" cy="163.8" r="5.51" fill="#bfbae0"/>
<circle cx="470.36" cy="163.8" r="5.51" fill="#dcb0ab"/>
<circle cx="483.16" cy="163.8" r="4.73" fill="#d9d6ee"/>
<circle cx="495.97" cy="163.8" r="5.51" fill="#bfbae0"/>
<circle cx="508.77" cy="163.8" r="5.51" fill="#bfbae0"/>
<circle cx="521.57" cy="163.8" r="7.25" fill="#7d74be"/>
<circle cx="534.38" cy="163.8" r="4.73" fill="#e9cdc9"/>
<circle cx="547.18" cy="163.8" r="3.94" fill="#ecebf6"/>
<circle cx="559.98" cy="163.8" r="5.51" fill="#bfbae0"/>
<circle cx="572.78" cy="163.8" r="7.25" fill="#7d74be"/>
<circle cx="585.59" cy="163.8" r="6.93" fill="#bb6e66"/>
<circle cx="598.39" cy="163.8" r="7.25" fill="#7d74be"/>
<circle cx="611.19" cy="163.8" r="6.3" fill="#a098d0"/>
<circle cx="624" cy="163.8" r="3.15" fill="#ffffff"/>
<circle cx="636.8" cy="163.8" r="6.3" fill="#cb8f89"/>
<circle cx="649.6" cy="163.8" r="3.94" fill="#ecebf6"/>
<circle cx="662.4" cy="163.8" r="4.73" fill="#e9cdc9"/>
<circle cx="675.21" cy="163.8" r="4.73" fill="#e9cdc9"/>
<circle cx="688.01" cy="163.8" r="4.73" fill="#e9cdc9"/>
<circle cx="700.81" cy="163.8" r="3.94" fill="#f4e6e4"/>
<circle cx="713.62" cy="163.8" r="4.73" fill="#e9cdc9"/>
<circle cx="726.42" cy="163.8" r="6.3" fill="#cb8f89"/>
<circle cx="739.22" cy="163.8" r="7.25" fill="#7d74be"/>
<circle cx="752.03" cy="163.8" r="6.3" fill="#a098d0"/>
<circle cx="764.83" cy="163.8" r="6.3" fill="#a098d0"/>
<circle cx="777.63" cy="163.8" r="4.73" fill="#d9d6ee"/>
<circle cx="790.43" cy="163.8" r="3.94" fill="#f4e6e4"/>
<circle cx="803.24" cy="163.8" r="3.15" fill="#ffffff"/>
<circle cx="816.04" cy="163.8" r="4.73" fill="#d9d6ee"/>
<circle cx="828.84" cy="163.8" r="6.3" fill="#cb8f89"/>
<circle cx="841.65" cy="163.8" r="6.93" fill="#bb6e66"/>
<circle cx="854.45" cy="163.8" r="4.73" fill="#d9d6ee"/>
<circle cx="867.25" cy="163.8" r="6.3" fill="#cb8f89"/>
<circle cx="880.06" cy="163.8" r="3.94" fill="#f4e6e4"/>
<circle cx="892.86" cy="163.8" r="3.94" fill="#f4e6e4"/>
<circle cx="905.66" cy="163.8" r="3.15" fill="#ffffff"/>
<circle cx="918.47" cy="163.8" r="5.51" fill="#bfbae0"/>
<circle cx="931.27" cy="163.8" r="4.73" fill="#d9d6ee"/>
<circle cx="944.07" cy="163.8" r="6.93" fill="#bb6e66"/>
<circle cx="956.87" cy="163.8" r="6.3" fill="#cb8f89"/>
<circle cx="969.68" cy="163.8" r="3.94" fill="#f4e6e4"/>
<circle cx="214.3" cy="180.6" r="6.93" fill="#bb6e66"/>
<circle cx="227.1" cy="180.6" r="6.3" fill="#cb8f89"/>
<circle cx="239.91" cy="180.6" r="3.15" fill="#ffffff"/>
<circle cx="252.71" cy="180.6" r="6.3" fill="#a098d0"/>
<circle cx="265.51" cy="180.6" r="3.15" fill="#ffffff"/>
<circle cx="278.31" cy="180.6" r="6.93" fill="#bb6e66"/>
<circle cx="291.12" cy="180.6" r="4.73" fill="#e9cdc9"/>
<circle cx="303.92" cy="180.6" r="6.3" fill="#cb8f89"/>
<circle cx="316.72" cy="180.6" r="4.73" fill="#d9d6ee"/>
<circle cx="329.53" cy="180.6" r="3.15" fill="#ffffff"/>
<circle cx="342.33" cy="180.6" r="4.73" fill="#e9cdc9"/>
<circle cx="355.13" cy="180.6" r="3.94" fill="#f4e6e4"/>
<circle cx="367.94" cy="180.6" r="6.93" fill="#bb6e66"/>
<circle cx="380.74" cy="180.6" r="4.73" fill="#e9cdc9"/>
<circle cx="393.54" cy="180.6" r="6.93" fill="#bb6e66"/>
<circle cx="406.35" cy="180.6" r="5.51" fill="#dcb0ab"/>
<circle cx="419.15" cy="180.6" r="7.25" fill="#7d74be"/>
<circle cx="431.95" cy="180.6" r="6.17" fill="#dcb0ab"/>
<circle cx="444.75" cy="180.6" r="3.94" fill="#f4e6e4"/>
<circle cx="457.56" cy="180.6" r="3.94" fill="#f4e6e4"/>
<circle cx="470.36" cy="180.6" r="5.51" fill="#dcb0ab"/>
<circle cx="483.16" cy="180.6" r="6.93" fill="#bb6e66"/>
<circle cx="495.97" cy="180.6" r="5.51" fill="#dcb0ab"/>
<circle cx="508.77" cy="180.6" r="3.94" fill="#ecebf6"/>
<circle cx="521.57" cy="180.6" r="5.51" fill="#dcb0ab"/>
<circle cx="534.38" cy="180.6" r="4.73" fill="#e9cdc9"/>
<circle cx="547.18" cy="180.6" r="5.51" fill="#dcb0ab"/>
<circle cx="559.98" cy="180.6" r="4.73" fill="#e9cdc9"/>
<circle cx="572.78" cy="180.6" r="4.73" fill="#e9cdc9"/>
<circle cx="585.59" cy="180.6" r="7.61" fill="#892c2c"/>
<circle cx="598.39" cy="180.6" r="6.3" fill="#cb8f89"/>
<circle cx="611.19" cy="180.6" r="3.94" fill="#f4e6e4"/>
<circle cx="624" cy="180.6" r="5.51" fill="#dcb0ab"/>
<circle cx="636.8" cy="180.6" r="4.73" fill="#d9d6ee"/>
<circle cx="649.6" cy="180.6" r="3.94" fill="#f4e6e4"/>
<circle cx="662.4" cy="180.6" r="3.15" fill="#ffffff"/>
<circle cx="675.21" cy="180.6" r="4.73" fill="#d9d6ee"/>
<circle cx="688.01" cy="180.6" r="3.94" fill="#f4e6e4"/>
<circle cx="700.81" cy="180.6" r="3.94" fill="#f4e6e4"/>
<circle cx="713.62" cy="180.6" r="5.51" fill="#dcb0ab"/>
<circle cx="726.42" cy="180.6" r="4.73" fill="#e9cdc9"/>
<circle cx="739.22" cy="180.6" r="3.94" fill="#ecebf6"/>
<circle cx="752.03" cy="180.6" r="5.51" fill="#dcb0ab"/>
<circle cx="764.83" cy="180.6" r="4.73" fill="#e9cdc9"/>
<circle cx="777.63" cy="180.6" r="5.51" fill="#dcb0ab"/>
<circle cx="790.43" cy="180.6" r="6.3" fill="#cb8f89"/>
<circle cx="803.24" cy="180.6" r="4.73" fill="#d9d6ee"/>
<circle cx="816.04" cy="180.6" r="3.15" fill="#ffffff"/>
<circle cx="828.84" cy="180.6" r="3.15" fill="#ffffff"/>
<circle cx="841.65" cy="180.6" r="3.94" fill="#f4e6e4"/>
<circle cx="854.45" cy="180.6" r="3.94" fill="#f4e6e4"/>
<circle cx="867.25" cy="180.6" r="4.73" fill="#d9d6ee"/>
<circle cx="880.06" cy="180.6" r="5.51" fill="#dcb0ab"/>
<circle cx="892.86" cy="180.6" r="4.73" fill="#e9cdc9"/>
<circle cx="905.66" cy="180.6" r="3.15" fill="#ffffff"/>
<circle cx="918.47" cy="180.6" r="3.94" fill="#f4e6e4"/>
<circle cx="931.27" cy="180.6" r="3.94" fill="#f4e6e4"/>
<circle cx="944.07" cy="180.6" r="3.94" fill="#f4e6e4"/>
<circle cx="956.87" cy="180.6" r="5.51" fill="#bfbae0"/>
<circle cx="969.68" cy="180.6" r="3.94" fill="#f4e6e4"/>
<circle cx="214.3" cy="197.4" r="4.73" fill="#e9cdc9"/>
<circle cx="227.1" cy="197.4" r="5.51" fill="#dcb0ab"/>
<circle cx="239.91" cy="197.4" r="3.15" fill="#ffffff"/>
<circle cx="252.71" cy="197.4" r="4.73" fill="#e9cdc9"/>
<circle cx="265.51" cy="197.4" r="4.73" fill="#e9cdc9"/>
<circle cx="278.31" cy="197.4" r="3.94" fill="#ecebf6"/>
<circle cx="291.12" cy="197.4" r="5.51" fill="#bfbae0"/>
<circle cx="303.92" cy="197.4" r="4.73" fill="#d9d6ee"/>
<circle cx="316.72" cy="197.4" r="6.3" fill="#a098d0"/>
<circle cx="329.53" cy="197.4" r="3.15" fill="#ffffff"/>
<circle cx="342.33" cy="197.4" r="4.73" fill="#d9d6ee"/>
<circle cx="355.13" cy="197.4" r="4.73" fill="#e9cdc9"/>
<circle cx="367.94" cy="197.4" r="3.15" fill="#ffffff"/>
<circle cx="380.74" cy="197.4" r="3.94" fill="#ecebf6"/>
<circle cx="393.54" cy="197.4" r="4.73" fill="#e9cdc9"/>
<circle cx="406.35" cy="197.4" r="5.51" fill="#dcb0ab"/>
<circle cx="419.15" cy="197.4" r="4.73" fill="#e9cdc9"/>
<circle cx="431.95" cy="197.4" r="7.76" fill="#bb6e66"/>
<circle cx="444.75" cy="197.4" r="5.51" fill="#dcb0ab"/>
<circle cx="457.56" cy="197.4" r="4.73" fill="#e9cdc9"/>
<circle cx="470.36" cy="197.4" r="3.94" fill="#f4e6e4"/>
<circle cx="483.16" cy="197.4" r="4.73" fill="#e9cdc9"/>
<circle cx="495.97" cy="197.4" r="4.73" fill="#d9d6ee"/>
<circle cx="508.77" cy="197.4" r="3.94" fill="#f4e6e4"/>
<circle cx="521.57" cy="197.4" r="3.94" fill="#f4e6e4"/>
<circle cx="534.38" cy="197.4" r="3.94" fill="#f4e6e4"/>
<circle cx="547.18" cy="197.4" r="3.15" fill="#ffffff"/>
<circle cx="559.98" cy="197.4" r="3.94" fill="#ecebf6"/>
<circle cx="572.78" cy="197.4" r="6.3" fill="#a098d0"/>
<circle cx="585.59" cy="197.4" r="6.93" fill="#bb6e66"/>
<circle cx="598.39" cy="197.4" r="4.73" fill="#d9d6ee"/>
<circle cx="611.19" cy="197.4" r="3.94" fill="#ecebf6"/>
<circle cx="624" cy="197.4" r="3.94" fill="#ecebf6"/>
<circle cx="636.8" cy="197.4" r="4.73" fill="#e9cdc9"/>
<circle cx="649.6" cy="197.4" r="4.73" fill="#d9d6ee"/>
<circle cx="662.4" cy="197.4" r="3.94" fill="#f4e6e4"/>
<circle cx="675.21" cy="197.4" r="4.73" fill="#e9cdc9"/>
<circle cx="688.01" cy="197.4" r="4.73" fill="#e9cdc9"/>
<circle cx="700.81" cy="197.4" r="5.51" fill="#dcb0ab"/>
<circle cx="713.62" cy="197.4" r="3.94" fill="#f4e6e4"/>
<circle cx="726.42" cy="197.4" r="4.73" fill="#d9d6ee"/>
<circle cx="739.22" cy="197.4" r="6.3" fill="#a098d0"/>
<circle cx="752.03" cy="197.4" r="5.51" fill="#bfbae0"/>
<circle cx="764.83" cy="197.4" r="4.73" fill="#d9d6ee"/>
<circle cx="777.63" cy="197.4" r="3.94" fill="#f4e6e4"/>
<circle cx="790.43" cy="197.4" r="5.51" fill="#dcb0ab"/>
<circle cx="803.24" cy="197.4" r="3.94" fill="#f4e6e4"/>
<circle cx="816.04" cy="197.4" r="3.94" fill="#ecebf6"/>
<circle cx="828.84" cy="197.4" r="6.93" fill="#bb6e66"/>
<circle cx="841.65" cy="197.4" r="6.3" fill="#cb8f89"/>
<circle cx="854.45" cy="197.4" r="6.3" fill="#a098d0"/>
<circle cx="867.25" cy="197.4" r="5.51" fill="#dcb0ab"/>
<circle cx="880.06" cy="197.4" r="3.94" fill="#ecebf6"/>
<circle cx="892.86" cy="197.4" r="4.73" fill="#e9cdc9"/>
<circle cx="905.66" cy="197.4" r="3.15" fill="#ffffff"/>
<circle cx="918.47" cy="197.4" r="6.3" fill="#a098d0"/>
<circle cx="931.27" cy="197.4" r="3.94" fill="#ecebf6"/>
<circle cx="944.07" cy="197.4" r="3.94" fill="#f4e6e4"/>
<circle cx="956.87" cy="197.4" r="3.94" fill="#f4e6e4"/>
<circle cx="969.68" cy="197.4" r="3.94" fill="#ecebf6"/>
<circle cx="214.3" cy="214.2" r="5.51" fill="#dcb0ab"/>
<circle cx="227.1" cy="214.2" r="3.94" fill="#ecebf6"/>
<circle cx="239.91" cy="214.2" r="3.15" fill="#ffffff"/>
<circle cx="252.71" cy="214.2" r="4.73" fill="#d9d6ee"/>
<circle cx="265.51" cy="214.2" r="5.51" fill="#bfbae0"/>
<circle cx="278.31" cy="214.2" r="4.73" fill="#e9cdc9"/>
<circle cx="291.12" cy="214.2" r="3.94" fill="#f4e6e4"/>
<circle cx="303.92" cy="214.2" r="4.73" fill="#e9cdc9"/>
<circle cx="316.72" cy="214.2" r="4.73" fill="#d9d6ee"/>
<circle cx="329.53" cy="214.2" r="3.15" fill="#ffffff"/>
<circle cx="342.33" cy="214.2" r="5.51" fill="#bfbae0"/>
<circle cx="355.13" cy="214.2" r="6.3" fill="#cb8f89"/>
<circle cx="367.94" cy="214.2" r="5.51" fill="#dcb0ab"/>
<circle cx="380.74" cy="214.2" r="3.15" fill="#ffffff"/>
<circle cx="393.54" cy="214.2" r="6.3" fill="#cb8f89"/>
<circle cx="406.35" cy="214.2" r="4.73" fill="#e9cdc9"/>
<circle cx="419.15" cy="214.2" r="4.73" fill="#e9cdc9"/>
<circle cx="431.95" cy="214.2" r="7.76" fill="#bb6e66"/>
<circle cx="444.75" cy="214.2" r="6.93" fill="#bb6e66"/>
<circle cx="457.56" cy="214.2" r="5.51" fill="#bfbae0"/>
<circle cx="470.36" cy="214.2" r="4.73" fill="#e9cdc9"/>
<circle cx="483.16" cy="214.2" r="4.73" fill="#e9cdc9"/>
<circle cx="495.97" cy="214.2" r="3.94" fill="#ecebf6"/>
<circle cx="508.77" cy="214.2" r="4.73" fill="#d9d6ee"/>
<circle cx="521.57" cy="214.2" r="3.94" fill="#ecebf6"/>
<circle cx="534.38" cy="214.2" r="6.3" fill="#cb8f89"/>
<circle cx="547.18" cy="214.2" r="5.51" fill="#dcb0ab"/>
<circle cx="559.98" cy="214.2" r="3.94" fill="#ecebf6"/>
<circle cx="572.78" cy="214.2" r="4.73" fill="#d9d6ee"/>
<circle cx="585.59" cy="214.2" r="7.35" fill="#a04a44"/>
<circle cx="598.39" cy="214.2" r="5.51" fill="#bfbae0"/>
<circle cx="611.19" cy="214.2" r="3.94" fill="#ecebf6"/>
<circle cx="624" cy="214.2" r="6.3" fill="#cb8f89"/>
<circle cx="636.8" cy="214.2" r="3.15" fill="#ffffff"/>
<circle cx="649.6" cy="214.2" r="3.94" fill="#ecebf6"/>
<circle cx="662.4" cy="214.2" r="3.94" fill="#f4e6e4"/>
<circle cx="675.21" cy="214.2" r="3.94" fill="#ecebf6"/>
<circle cx="688.01" cy="214.2" r="5.51" fill="#dcb0ab"/>
<circle cx="700.81" cy="214.2" r="3.94" fill="#f4e6e4"/>
<circle cx="713.62" cy="214.2" r="6.3" fill="#cb8f89"/>
<circle cx="726.42" cy="214.2" r="4.73" fill="#e9cdc9"/>
<circle cx="739.22" cy="214.2" r="6.3" fill="#a098d0"/>
<circle cx="752.03" cy="214.2" r="3.94" fill="#f4e6e4"/>
<circle cx="764.83" cy="214.2" r="3.15" fill="#ffffff"/>
<circle cx="777.63" cy="214.2" r="3.94" fill="#f4e6e4"/>
<circle cx="790.43" cy="214.2" r="5.51" fill="#dcb0ab"/>
<circle cx="803.24" cy="214.2" r="4.73" fill="#d9d6ee"/>
<circle cx="816.04" cy="214.2" r="5.51" fill="#bfbae0"/>
<circle cx="828.84" cy="214.2" r="6.3" fill="#cb8f89"/>
<circle cx="841.65" cy="214.2" r="5.51" fill="#dcb0ab"/>
<circle cx="854.45" cy="214.2" r="3.15" fill="#ffffff"/>
<circle cx="867.25" cy="214.2" r="3.15" fill="#ffffff"/>
<circle cx="880.06" cy="214.2" r="3.94" fill="#f4e6e4"/>
<circle cx="892.86" cy="214.2" r="4.73" fill="#e9cdc9"/>
<circle cx="905.66" cy="214.2" r="3.15" fill="#ffffff"/>
<circle cx="918.47" cy="214.2" r="4.73" fill="#d9d6ee"/>
<circle cx="931.27" cy="214.2" r="3.94" fill="#f4e6e4"/>
<circle cx="944.07" cy="214.2" r="6.3" fill="#cb8f89"/>
<circle cx="956.87" cy="214.2" r="3.15" fill="#ffffff"/>
<circle cx="969.68" cy="214.2" r="3.94" fill="#ecebf6"/>
<circle cx="905.66" cy="231" r="3" fill="#ffffff"/>
<circle cx="214.3" cy="247.8" r="2.76" fill="#ffffff"/>
<circle cx="227.1" cy="247.8" r="3.45" fill="#f4e6e4"/>
<circle cx="239.91" cy="247.8" r="2.76" fill="#ffffff"/>
<circle cx="252.71" cy="247.8" r="3.45" fill="#f4e6e4"/>
<circle cx="265.51" cy="247.8" r="2.76" fill="#ffffff"/>
<circle cx="278.31" cy="247.8" r="5.52" fill="#cb8f89"/>
<circle cx="291.12" cy="247.8" r="4.83" fill="#bfbae0"/>
<circle cx="303.92" cy="247.8" r="4.14" fill="#e9cdc9"/>
<circle cx="316.72" cy="247.8" r="4.14" fill="#e9cdc9"/>
<circle cx="329.53" cy="247.8" r="2.76" fill="#ffffff"/>
<circle cx="342.33" cy="247.8" r="4.14" fill="#d9d6ee"/>
<circle cx="355.13" cy="247.8" r="2.9" fill="#d9d6ee"/>
<circle cx="367.94" cy="247.8" r="2.76" fill="#ffffff"/>
<circle cx="380.74" cy="247.8" r="6.35" fill="#7d74be"/>
<circle cx="393.54" cy="247.8" r="2.76" fill="#ffffff"/>
<circle cx="406.35" cy="247.8" r="2.76" fill="#ffffff"/>
<circle cx="419.15" cy="247.8" r="2.76" fill="#ffffff"/>
<circle cx="431.95" cy="247.8" r="4.83" fill="#bfbae0"/>
<circle cx="444.75" cy="247.8" r="3.45" fill="#ecebf6"/>
<circle cx="457.56" cy="247.8" r="4.14" fill="#d9d6ee"/>
<circle cx="470.36" cy="247.8" r="5.98" fill="#6058ae"/>
<circle cx="483.16" cy="247.8" r="5.52" fill="#cb8f89"/>
<circle cx="495.97" cy="247.8" r="5.52" fill="#cb8f89"/>
<circle cx="508.77" cy="247.8" r="2.76" fill="#ffffff"/>
<circle cx="521.57" cy="247.8" r="4.83" fill="#dcb0ab"/>
<circle cx="534.38" cy="247.8" r="4.14" fill="#e9cdc9"/>
<circle cx="547.18" cy="247.8" r="3.45" fill="#ecebf6"/>
<circle cx="559.98" cy="247.8" r="3.45" fill="#f4e6e4"/>
<circle cx="572.78" cy="247.8" r="6.07" fill="#bb6e66"/>
<circle cx="585.59" cy="247.8" r="4.78" fill="#6058ae"/>
<circle cx="598.39" cy="247.8" r="4.83" fill="#dcb0ab"/>
<circle cx="611.19" cy="247.8" r="3.45" fill="#ecebf6"/>
<circle cx="624" cy="247.8" r="3.45" fill="#ecebf6"/>
<circle cx="636.8" cy="247.8" r="6.35" fill="#7d74be"/>
<circle cx="649.6" cy="247.8" r="4.83" fill="#bfbae0"/>
<circle cx="662.4" cy="247.8" r="3.45" fill="#ecebf6"/>
<circle cx="675.21" cy="247.8" r="4.83" fill="#bfbae0"/>
<circle cx="688.01" cy="247.8" r="2.76" fill="#ffffff"/>
<circle cx="700.81" cy="247.8" r="5.52" fill="#a098d0"/>
<circle cx="713.62" cy="247.8" r="4.83" fill="#bfbae0"/>
<circle cx="726.42" cy="247.8" r="3.45" fill="#ecebf6"/>
<circle cx="739.22" cy="247.8" r="3.45" fill="#f4e6e4"/>
<circle cx="752.03" cy="247.8" r="3.45" fill="#f4e6e4"/>
<circle cx="764.83" cy="247.8" r="3.45" fill="#f4e6e4"/>
<circle cx="777.63" cy="247.8" r="2.76" fill="#ffffff"/>
<circle cx="790.43" cy="247.8" r="2.76" fill="#ffffff"/>
<circle cx="803.24" cy="247.8" r="4.14" fill="#d9d6ee"/>
<circle cx="816.04" cy="247.8" r="3.45" fill="#f4e6e4"/>
<circle cx="828.84" cy="247.8" r="5.52" fill="#a098d0"/>
<circle cx="841.65" cy="247.8" r="4.83" fill="#bfbae0"/>
<circle cx="854.45" cy="247.8" r="4.14" fill="#d9d6ee"/>
<circle cx="867.25" cy="247.8" r="2.76" fill="#ffffff"/>
<circle cx="880.06" cy="247.8" r="4.83" fill="#bfbae0"/>
<circle cx="892.86" cy="247.8" r="4.14" fill="#d9d6ee"/>
<circle cx="905.66" cy="247.8" r="2.76" fill="#ffffff"/>
<circle cx="918.47" cy="247.8" r="4.14" fill="#d9d6ee"/>
<circle cx="931.27" cy="247.8" r="2.76" fill="#ffffff"/>
<circle cx="944.07" cy="247.8" r="2.76" fill="#ffffff"/>
<circle cx="956.87" cy="247.8" r="2.76" fill="#ffffff"/>
<circle cx="969.68" cy="247.8" r="4.83" fill="#dcb0ab"/>
<circle cx="214.3" cy="264.6" r="6.35" fill="#7d74be"/>
<circle cx="227.1" cy="264.6" r="4.14" fill="#d9d6ee"/>
<circle cx="239.91" cy="264.6" r="2.76" fill="#ffffff"/>
<circle cx="252.71" cy="264.6" r="3.45" fill="#ecebf6"/>
<circle cx="265.51" cy="264.6" r="2.76" fill="#ffffff"/>
<circle cx="278.31" cy="264.6" r="4.14" fill="#d9d6ee"/>
<circle cx="291.12" cy="264.6" r="2.76" fill="#ffffff"/>
<circle cx="303.92" cy="264.6" r="3.45" fill="#ecebf6"/>
<circle cx="316.72" cy="264.6" r="4.14" fill="#e9cdc9"/>
<circle cx="329.53" cy="264.6" r="2.76" fill="#ffffff"/>
<circle cx="342.33" cy="264.6" r="4.83" fill="#bfbae0"/>
<circle cx="355.13" cy="264.6" r="3.86" fill="#a098d0"/>
<circle cx="367.94" cy="264.6" r="4.69" fill="#3c3ca0"/>
<circle cx="380.74" cy="264.6" r="4.11" fill="#bfbae0"/>
<circle cx="393.54" cy="264.6" r="5.67" fill="#892c2c"/>
<circle cx="406.35" cy="264.6" r="3.45" fill="#f4e6e4"/>
<circle cx="419.15" cy="264.6" r="4.83" fill="#dcb0ab"/>
<circle cx="431.95" cy="264.6" r="4.83" fill="#bfbae0"/>
<circle cx="444.75" cy="264.6" r="2.76" fill="#ffffff"/>
<circle cx="457.56" cy="264.6" r="4.14" fill="#d9d6ee"/>
<circle cx="470.36" cy="264.6" r="5.52" fill="#a098d0"/>
<circle cx="483.16" cy="264.6" r="4.83" fill="#bfbae0"/>
<circle cx="495.97" cy="264.6" r="2.76" fill="#ffffff"/>
<circle cx="508.77" cy="264.6" r="2.76" fill="#ffffff"/>
<circle cx="521.57" cy="264.6" r="3.45" fill="#ecebf6"/>
<circle cx="534.38" cy="264.6" r="4.14" fill="#e9cdc9"/>
<circle cx="547.18" cy="264.6" r="3.45" fill="#f4e6e4"/>
<circle cx="559.98" cy="264.6" r="4.83" fill="#dcb0ab"/>
<circle cx="572.78" cy="264.6" r="4.14" fill="#e9cdc9"/>
<circle cx="585.59" cy="264.6" r="4.42" fill="#3c3ca0"/>
<circle cx="598.39" cy="264.6" r="5.52" fill="#a098d0"/>
<circle cx="611.19" cy="264.6" r="2.76" fill="#ffffff"/>
<circle cx="624" cy="264.6" r="2.76" fill="#ffffff"/>
<circle cx="636.8" cy="264.6" r="4.14" fill="#d9d6ee"/>
<circle cx="649.6" cy="264.6" r="4.14" fill="#d9d6ee"/>
<circle cx="662.4" cy="264.6" r="3.45" fill="#ecebf6"/>
<circle cx="675.21" cy="264.6" r="3.45" fill="#ecebf6"/>
<circle cx="688.01" cy="264.6" r="5.52" fill="#3c3ca0"/>
<circle cx="700.81" cy="264.6" r="3.45" fill="#ecebf6"/>
<circle cx="713.62" cy="264.6" r="3.45" fill="#ecebf6"/>
<circle cx="726.42" cy="264.6" r="3.45" fill="#f4e6e4"/>
<circle cx="739.22" cy="264.6" r="5.52" fill="#cb8f89"/>
<circle cx="752.03" cy="264.6" r="4.14" fill="#e9cdc9"/>
<circle cx="764.83" cy="264.6" r="4.14" fill="#e9cdc9"/>
<circle cx="777.63" cy="264.6" r="3.45" fill="#ecebf6"/>
<circle cx="790.43" cy="264.6" r="5.98" fill="#6058ae"/>
<circle cx="803.24" cy="264.6" r="6.35" fill="#7d74be"/>
<circle cx="816.04" cy="264.6" r="4.83" fill="#bfbae0"/>
<circle cx="828.84" cy="264.6" r="3.45" fill="#ecebf6"/>
<circle cx="841.65" cy="264.6" r="4.14" fill="#d9d6ee"/>
<circle cx="854.45" cy="264.6" r="3.45" fill="#f4e6e4"/>
<circle cx="867.25" cy="264.6" r="3.45" fill="#ecebf6"/>
<circle cx="880.06" cy="264.6" r="5.98" fill="#6058ae"/>
<circle cx="892.86" cy="264.6" r="4.83" fill="#bfbae0"/>
<circle cx="905.66" cy="264.6" r="2.76" fill="#ffffff"/>
<circle cx="918.47" cy="264.6" r="3.45" fill="#ecebf6"/>
<circle cx="931.27" cy="264.6" r="4.14" fill="#e9cdc9"/>
<circle cx="944.07" cy="264.6" r="3.45" fill="#f4e6e4"/>
<circle cx="956.87" cy="264.6" r="4.14" fill="#e9cdc9"/>
<circle cx="969.68" cy="264.6" r="4.14" fill="#e9cdc9"/>
<circle cx="214.3" cy="281.4" r="5.98" fill="#6058ae"/>
<circle cx="227.1" cy="281.4" r="3.45" fill="#ecebf6"/>
<circle cx="239.91" cy="281.4" r="2.76" fill="#ffffff"/>
<circle cx="252.71" cy="281.4" r="4.83" fill="#bfbae0"/>
<circle cx="265.51" cy="281.4" r="3.45" fill="#ecebf6"/>
<circle cx="278.31" cy="281.4" r="3.45" fill="#ecebf6"/>
<circle cx="291.12" cy="281.4" r="2.76" fill="#ffffff"/>
<circle cx="303.92" cy="281.4" r="2.76" fill="#ffffff"/>
<circle cx="316.72" cy="281.4" r="4.83" fill="#dcb0ab"/>
<circle cx="329.53" cy="281.4" r="2.76" fill="#ffffff"/>
<circle cx="342.33" cy="281.4" r="4.83" fill="#bfbae0"/>
<circle cx="355.13" cy="281.4" r="4.44" fill="#7d74be"/>
<circle cx="367.94" cy="281.4" r="4.69" fill="#3c3ca0"/>
<circle cx="380.74" cy="281.4" r="4.69" fill="#a098d0"/>
<circle cx="393.54" cy="281.4" r="2.15" fill="#c0706a"/>
<circle cx="406.35" cy="281.4" r="2.76" fill="#ffffff"/>
<circle cx="419.15" cy="281.4" r="3.45" fill="#ecebf6"/>
<circle cx="431.95" cy="281.4" r="5.52" fill="#a098d0"/>
<circle cx="444.75" cy="281.4" r="2.76" fill="#ffffff"/>
<circle cx="457.56" cy="281.4" r="4.14" fill="#d9d6ee"/>
<circle cx="470.36" cy="281.4" r="6.35" fill="#7d74be"/>
<circle cx="483.16" cy="281.4" r="4.14" fill="#d9d6ee"/>
<circle cx="495.97" cy="281.4" r="4.14" fill="#e9cdc9"/>
<circle cx="508.77" cy="281.4" r="3.45" fill="#ecebf6"/>
<circle cx="521.57" cy="281.4" r="2.76" fill="#ffffff"/>
<circle cx="534.38" cy="281.4" r="4.83" fill="#dcb0ab"/>
<circle cx="547.18" cy="281.4" r="4.14" fill="#e9cdc9"/>
<circle cx="559.98" cy="281.4" r="4.83" fill="#dcb0ab"/>
<circle cx="572.78" cy="281.4" r="5.52" fill="#cb8f89"/>
<circle cx="585.59" cy="281.4" r="4.42" fill="#3c3ca0"/>
<circle cx="598.39" cy="281.4" r="4.83" fill="#bfbae0"/>
<circle cx="611.19" cy="281.4" r="3.45" fill="#f4e6e4"/>
<circle cx="624" cy="281.4" r="2.76" fill="#ffffff"/>
<circle cx="636.8" cy="281.4" r="5.52" fill="#a098d0"/>
<circle cx="649.6" cy="281.4" r="4.83" fill="#bfbae0"/>
<circle cx="662.4" cy="281.4" r="4.14" fill="#d9d6ee"/>
<circle cx="675.21" cy="281.4" r="4.83" fill="#bfbae0"/>
<circle cx="688.01" cy="281.4" r="5.52" fill="#3c3ca0"/>
<circle cx="700.81" cy="281.4" r="4.83" fill="#bfbae0"/>
<circle cx="713.62" cy="281.4" r="4.14" fill="#d9d6ee"/>
<circle cx="726.42" cy="281.4" r="3.45" fill="#f4e6e4"/>
<circle cx="739.22" cy="281.4" r="6.07" fill="#bb6e66"/>
<circle cx="752.03" cy="281.4" r="4.83" fill="#dcb0ab"/>
<circle cx="764.83" cy="281.4" r="4.83" fill="#dcb0ab"/>
<circle cx="777.63" cy="281.4" r="3.45" fill="#ecebf6"/>
<circle cx="790.43" cy="281.4" r="5.98" fill="#6058ae"/>
<circle cx="803.24" cy="281.4" r="6.35" fill="#7d74be"/>
<circle cx="816.04" cy="281.4" r="4.83" fill="#bfbae0"/>
<circle cx="828.84" cy="281.4" r="4.14" fill="#d9d6ee"/>
<circle cx="841.65" cy="281.4" r="4.83" fill="#bfbae0"/>
<circle cx="854.45" cy="281.4" r="4.14" fill="#e9cdc9"/>
<circle cx="867.25" cy="281.4" r="4.83" fill="#bfbae0"/>
<circle cx="880.06" cy="281.4" r="6.35" fill="#7d74be"/>
<circle cx="892.86" cy="281.4" r="5.52" fill="#a098d0"/>
<circle cx="905.66" cy="281.4" r="2.76" fill="#ffffff"/>
<circle cx="918.47" cy="281.4" r="2.76" fill="#ffffff"/>
<circle cx="931.27" cy="281.4" r="4.14" fill="#e9cdc9"/>
<circle cx="944.07" cy="281.4" r="3.45" fill="#f4e6e4"/>
<circle cx="956.87" cy="281.4" r="3.45" fill="#f4e6e4"/>
<circle cx="969.68" cy="281.4" r="4.14" fill="#e9cdc9"/>
<circle cx="214.3" cy="298.2" r="6.35" fill="#7d74be"/>
<circle cx="227.1" cy="298.2" r="3.45" fill="#ecebf6"/>
<circle cx="239.91" cy="298.2" r="2.76" fill="#ffffff"/>
<circle cx="252.71" cy="298.2" r="4.83" fill="#bfbae0"/>
<circle cx="265.51" cy="298.2" r="4.14" fill="#d9d6ee"/>
<circle cx="278.31" cy="298.2" r="4.14" fill="#e9cdc9"/>
<circle cx="291.12" cy="298.2" r="2.76" fill="#ffffff"/>
<circle cx="303.92" cy="298.2" r="3.45" fill="#f4e6e4"/>
<circle cx="316.72" cy="298.2" r="4.83" fill="#dcb0ab"/>
<circle cx="329.53" cy="298.2" r="2.76" fill="#ffffff"/>
<circle cx="342.33" cy="298.2" r="4.83" fill="#bfbae0"/>
<circle cx="355.13" cy="298.2" r="4.44" fill="#7d74be"/>
<circle cx="367.94" cy="298.2" r="4.69" fill="#3c3ca0"/>
<circle cx="380.74" cy="298.2" r="5.4" fill="#7d74be"/>
<circle cx="393.54" cy="298.2" r="2.15" fill="#c0706a"/>
<circle cx="406.35" cy="298.2" r="2.76" fill="#ffffff"/>
<circle cx="419.15" cy="298.2" r="2.76" fill="#ffffff"/>
<circle cx="431.95" cy="298.2" r="5.52" fill="#a098d0"/>
<circle cx="444.75" cy="298.2" r="3.45" fill="#f4e6e4"/>
<circle cx="457.56" cy="298.2" r="4.83" fill="#bfbae0"/>
<circle cx="470.36" cy="298.2" r="6.35" fill="#7d74be"/>
<circle cx="483.16" cy="298.2" r="3.45" fill="#ecebf6"/>
<circle cx="495.97" cy="298.2" r="4.83" fill="#dcb0ab"/>
<circle cx="508.77" cy="298.2" r="3.45" fill="#ecebf6"/>
<circle cx="521.57" cy="298.2" r="3.45" fill="#f4e6e4"/>
<circle cx="534.38" cy="298.2" r="4.83" fill="#dcb0ab"/>
<circle cx="547.18" cy="298.2" r="4.83" fill="#dcb0ab"/>
<circle cx="559.98" cy="298.2" r="5.52" fill="#cb8f89"/>
<circle cx="572.78" cy="298.2" r="5.52" fill="#cb8f89"/>
<circle cx="585.59" cy="298.2" r="4.42" fill="#3c3ca0"/>
<circle cx="598.39" cy="298.2" r="3.45" fill="#ecebf6"/>
<circle cx="611.19" cy="298.2" r="3.45" fill="#f4e6e4"/>
<circle cx="624" cy="298.2" r="3.45" fill="#f4e6e4"/>
<circle cx="636.8" cy="298.2" r="6.35" fill="#7d74be"/>
<circle cx="649.6" cy="298.2" r="4.83" fill="#bfbae0"/>
<circle cx="662.4" cy="298.2" r="4.14" fill="#d9d6ee"/>
<circle cx="675.21" cy="298.2" r="5.52" fill="#a098d0"/>
<circle cx="688.01" cy="298.2" r="5.52" fill="#3c3ca0"/>
<circle cx="700.81" cy="298.2" r="4.83" fill="#bfbae0"/>
<circle cx="713.62" cy="298.2" r="4.14" fill="#d9d6ee"/>
<circle cx="726.42" cy="298.2" r="2.76" fill="#ffffff"/>
<circle cx="739.22" cy="298.2" r="6.07" fill="#bb6e66"/>
<circle cx="752.03" cy="298.2" r="5.52" fill="#cb8f89"/>
<circle cx="764.83" cy="298.2" r="5.52" fill="#cb8f89"/>
<circle cx="777.63" cy="298.2" r="3.45" fill="#f4e6e4"/>
<circle cx="790.43" cy="298.2" r="6.35" fill="#7d74be"/>
<circle cx="803.24" cy="298.2" r="6.35" fill="#7d74be"/>
<circle cx="816.04" cy="298.2" r="4.83" fill="#bfbae0"/>
<circle cx="828.84" cy="298.2" r="4.83" fill="#bfbae0"/>
<circle cx="841.65" cy="298.2" r="4.83" fill="#bfbae0"/>
<circle cx="854.45" cy="298.2" r="4.14" fill="#e9cdc9"/>
<circle cx="867.25" cy="298.2" r="4.83" fill="#bfbae0"/>
<circle cx="880.06" cy="298.2" r="6.35" fill="#7d74be"/>
<circle cx="892.86" cy="298.2" r="5.52" fill="#a098d0"/>
<circle cx="905.66" cy="298.2" r="2.76" fill="#ffffff"/>
<circle cx="918.47" cy="298.2" r="3.45" fill="#f4e6e4"/>
<circle cx="931.27" cy="298.2" r="4.14" fill="#e9cdc9"/>
<circle cx="944.07" cy="298.2" r="2.76" fill="#ffffff"/>
<circle cx="956.87" cy="298.2" r="3.45" fill="#ecebf6"/>
<circle cx="969.68" cy="298.2" r="4.14" fill="#e9cdc9"/>
<circle cx="214.3" cy="315" r="6.44" fill="#a04a44"/>
<circle cx="227.1" cy="315" r="3.45" fill="#ecebf6"/>
<circle cx="239.91" cy="315" r="2.76" fill="#ffffff"/>
<circle cx="252.71" cy="315" r="2.76" fill="#ffffff"/>
<circle cx="265.51" cy="315" r="3.45" fill="#ecebf6"/>
<circle cx="278.31" cy="315" r="5.52" fill="#cb8f89"/>
<circle cx="291.12" cy="315" r="4.83" fill="#dcb0ab"/>
<circle cx="303.92" cy="315" r="6.07" fill="#bb6e66"/>
<circle cx="316.72" cy="315" r="4.14" fill="#e9cdc9"/>
<circle cx="329.53" cy="315" r="2.76" fill="#ffffff"/>
<circle cx="342.33" cy="315" r="4.14" fill="#e9cdc9"/>
<circle cx="355.13" cy="315" r="2.9" fill="#e9cdc9"/>
<circle cx="367.94" cy="315" r="5.67" fill="#892c2c"/>
<circle cx="380.74" cy="315" r="5.16" fill="#bb6e66"/>
<circle cx="393.54" cy="315" r="2.15" fill="#8f86c6"/>
<circle cx="406.35" cy="315" r="4.83" fill="#bfbae0"/>
<circle cx="419.15" cy="315" r="5.52" fill="#a098d0"/>
<circle cx="431.95" cy="315" r="3.45" fill="#f4e6e4"/>
<circle cx="444.75" cy="315" r="4.83" fill="#bfbae0"/>
<circle cx="457.56" cy="315" r="3.45" fill="#ecebf6"/>
<circle cx="470.36" cy="315" r="3.45" fill="#f4e6e4"/>
<circle cx="483.16" cy="315" r="6.07" fill="#bb6e66"/>
<circle cx="495.97" cy="315" r="6.07" fill="#bb6e66"/>
<circle cx="508.77" cy="315" r="4.83" fill="#dcb0ab"/>
<circle cx="521.57" cy="315" r="6.07" fill="#bb6e66"/>
<circle cx="534.38" cy="315" r="3.45" fill="#ecebf6"/>
<circle cx="547.18" cy="315" r="4.83" fill="#bfbae0"/>
<circle cx="559.98" cy="315" r="4.83" fill="#dcb0ab"/>
<circle cx="572.78" cy="315" r="5.52" fill="#cb8f89"/>
<circle cx="585.59" cy="315" r="2.02" fill="#8f86c6"/>
<circle cx="598.39" cy="315" r="2.76" fill="#ffffff"/>
<circle cx="611.19" cy="315" r="4.83" fill="#bfbae0"/>
<circle cx="624" cy="315" r="6.07" fill="#bb6e66"/>
<circle cx="636.8" cy="315" r="5.52" fill="#a098d0"/>
<circle cx="649.6" cy="315" r="5.52" fill="#cb8f89"/>
<circle cx="662.4" cy="315" r="4.83" fill="#bfbae0"/>
<circle cx="675.21" cy="315" r="5.52" fill="#a098d0"/>
<circle cx="688.01" cy="315" r="6.44" fill="#a04a44"/>
<circle cx="700.81" cy="315" r="4.14" fill="#d9d6ee"/>
<circle cx="713.62" cy="315" r="6.07" fill="#bb6e66"/>
<circle cx="726.42" cy="315" r="4.83" fill="#dcb0ab"/>
<circle cx="739.22" cy="315" r="2.76" fill="#ffffff"/>
<circle cx="752.03" cy="315" r="6.07" fill="#bb6e66"/>
<circle cx="764.83" cy="315" r="5.52" fill="#cb8f89"/>
<circle cx="777.63" cy="315" r="4.14" fill="#e9cdc9"/>
<circle cx="790.43" cy="315" r="6.44" fill="#a04a44"/>
<circle cx="803.24" cy="315" r="6.35" fill="#7d74be"/>
<circle cx="816.04" cy="315" r="4.14" fill="#e9cdc9"/>
<circle cx="828.84" cy="315" r="5.52" fill="#a098d0"/>
<circle cx="841.65" cy="315" r="3.45" fill="#ecebf6"/>
<circle cx="854.45" cy="315" r="4.14" fill="#e9cdc9"/>
<circle cx="867.25" cy="315" r="4.83" fill="#bfbae0"/>
<circle cx="880.06" cy="315" r="4.14" fill="#e9cdc9"/>
<circle cx="892.86" cy="315" r="5.52" fill="#a098d0"/>
<circle cx="905.66" cy="315" r="2.76" fill="#ffffff"/>
<circle cx="918.47" cy="315" r="5.52" fill="#cb8f89"/>
<circle cx="931.27" cy="315" r="5.52" fill="#cb8f89"/>
<circle cx="944.07" cy="315" r="2.76" fill="#ffffff"/>
<circle cx="956.87" cy="315" r="4.14" fill="#d9d6ee"/>
<circle cx="969.68" cy="315" r="3.45" fill="#f4e6e4"/>
<circle cx="214.3" cy="331.8" r="5.52" fill="#a098d0"/>
<circle cx="227.1" cy="331.8" r="4.83" fill="#bfbae0"/>
<circle cx="239.91" cy="331.8" r="2.76" fill="#ffffff"/>
<circle cx="252.71" cy="331.8" r="5.52" fill="#cb8f89"/>
<circle cx="265.51" cy="331.8" r="3.45" fill="#ecebf6"/>
<circle cx="278.31" cy="331.8" r="5.52" fill="#a098d0"/>
<circle cx="291.12" cy="331.8" r="3.45" fill="#f4e6e4"/>
<circle cx="303.92" cy="331.8" r="4.83" fill="#bfbae0"/>
<circle cx="316.72" cy="331.8" r="4.14" fill="#e9cdc9"/>
<circle cx="329.53" cy="331.8" r="2.76" fill="#ffffff"/>
<circle cx="342.33" cy="331.8" r="5.52" fill="#a098d0"/>
<circle cx="355.13" cy="331.8" r="1.93" fill="#ffffff"/>
<circle cx="367.94" cy="331.8" r="2.15" fill="#8f86c6"/>
<circle cx="380.74" cy="331.8" r="3.52" fill="#e9cdc9"/>
<circle cx="393.54" cy="331.8" r="2.15" fill="#c0706a"/>
<circle cx="406.35" cy="331.8" r="4.14" fill="#d9d6ee"/>
<circle cx="419.15" cy="331.8" r="5.52" fill="#cb8f89"/>
<circle cx="431.95" cy="331.8" r="4.14" fill="#d9d6ee"/>
<circle cx="444.75" cy="331.8" r="4.14" fill="#d9d6ee"/>
<circle cx="457.56" cy="331.8" r="4.83" fill="#bfbae0"/>
<circle cx="470.36" cy="331.8" r="3.45" fill="#f4e6e4"/>
<circle cx="483.16" cy="331.8" r="5.52" fill="#a098d0"/>
<circle cx="495.97" cy="331.8" r="4.14" fill="#d9d6ee"/>
<circle cx="508.77" cy="331.8" r="4.14" fill="#e9cdc9"/>
<circle cx="521.57" cy="331.8" r="4.83" fill="#bfbae0"/>
<circle cx="534.38" cy="331.8" r="3.45" fill="#f4e6e4"/>
<circle cx="547.18" cy="331.8" r="4.14" fill="#d9d6ee"/>
<circle cx="559.98" cy="331.8" r="3.45" fill="#f4e6e4"/>
<circle cx="572.78" cy="331.8" r="2.76" fill="#ffffff"/>
<circle cx="585.59" cy="331.8" r="4.42" fill="#3c3ca0"/>
<circle cx="598.39" cy="331.8" r="5.52" fill="#a098d0"/>
<circle cx="611.19" cy="331.8" r="4.83" fill="#bfbae0"/>
<circle cx="624" cy="331.8" r="3.45" fill="#f4e6e4"/>
<circle cx="636.8" cy="331.8" r="3.45" fill="#f4e6e4"/>
<circle cx="649.6" cy="331.8" r="4.14" fill="#e9cdc9"/>
<circle cx="662.4" cy="331.8" r="2.76" fill="#ffffff"/>
<circle cx="675.21" cy="331.8" r="3.45" fill="#f4e6e4"/>
<circle cx="688.01" cy="331.8" r="4.14" fill="#d9d6ee"/>
<circle cx="700.81" cy="331.8" r="3.45" fill="#f4e6e4"/>
<circle cx="713.62" cy="331.8" r="2.76" fill="#ffffff"/>
<circle cx="726.42" cy="331.8" r="4.14" fill="#e9cdc9"/>
<circle cx="739.22" cy="331.8" r="4.14" fill="#e9cdc9"/>
<circle cx="752.03" cy="331.8" r="3.45" fill="#f4e6e4"/>
<circle cx="764.83" cy="331.8" r="2.76" fill="#ffffff"/>
<circle cx="777.63" cy="331.8" r="4.14" fill="#d9d6ee"/>
<circle cx="790.43" cy="331.8" r="4.83" fill="#bfbae0"/>
<circle cx="803.24" cy="331.8" r="4.83" fill="#bfbae0"/>
<circle cx="816.04" cy="331.8" r="4.83" fill="#bfbae0"/>
<circle cx="828.84" cy="331.8" r="4.14" fill="#e9cdc9"/>
<circle cx="841.65" cy="331.8" r="3.45" fill="#f4e6e4"/>
<circle cx="854.45" cy="331.8" r="3.45" fill="#ecebf6"/>
<circle cx="867.25" cy="331.8" r="3.45" fill="#f4e6e4"/>
<circle cx="880.06" cy="331.8" r="5.98" fill="#6058ae"/>
<circle cx="892.86" cy="331.8" r="4.14" fill="#d9d6ee"/>
<circle cx="905.66" cy="331.8" r="2.76" fill="#ffffff"/>
<circle cx="918.47" cy="331.8" r="2.76" fill="#ffffff"/>
<circle cx="931.27" cy="331.8" r="4.83" fill="#dcb0ab"/>
<circle cx="944.07" cy="331.8" r="3.45" fill="#f4e6e4"/>
<circle cx="956.87" cy="331.8" r="4.83" fill="#dcb0ab"/>
<circle cx="969.68" cy="331.8" r="4.14" fill="#e9cdc9"/>
<circle cx="214.3" cy="348.6" r="6.07" fill="#bb6e66"/>
<circle cx="227.1" cy="348.6" r="5.98" fill="#6058ae"/>
<circle cx="239.91" cy="348.6" r="2.76" fill="#ffffff"/>
<circle cx="252.71" cy="348.6" r="2.76" fill="#ffffff"/>
<circle cx="265.51" cy="348.6" r="5.52" fill="#a098d0"/>
<circle cx="278.31" cy="348.6" r="4.83" fill="#dcb0ab"/>
<circle cx="291.12" cy="348.6" r="4.14" fill="#e9cdc9"/>
<circle cx="303.92" cy="348.6" r="4.14" fill="#e9cdc9"/>
<circle cx="316.72" cy="348.6" r="4.83" fill="#bfbae0"/>
<circle cx="329.53" cy="348.6" r="2.76" fill="#ffffff"/>
<circle cx="342.33" cy="348.6" r="4.83" fill="#bfbae0"/>
<circle cx="355.13" cy="348.6" r="4.51" fill="#a04a44"/>
<circle cx="367.94" cy="348.6" r="4.11" fill="#dcb0ab"/>
<circle cx="380.74" cy="348.6" r="4.11" fill="#dcb0ab"/>
<circle cx="393.54" cy="348.6" r="5.16" fill="#bb6e66"/>
<circle cx="406.35" cy="348.6" r="4.14" fill="#e9cdc9"/>
<circle cx="419.15" cy="348.6" r="5.52" fill="#cb8f89"/>
<circle cx="431.95" cy="348.6" r="5.52" fill="#cb8f89"/>
<circle cx="444.75" cy="348.6" r="4.83" fill="#dcb0ab"/>
<circle cx="457.56" cy="348.6" r="4.83" fill="#bfbae0"/>
<circle cx="470.36" cy="348.6" r="4.83" fill="#dcb0ab"/>
<circle cx="483.16" cy="348.6" r="4.14" fill="#e9cdc9"/>
<circle cx="495.97" cy="348.6" r="3.45" fill="#ecebf6"/>
<circle cx="508.77" cy="348.6" r="2.76" fill="#ffffff"/>
<circle cx="521.57" cy="348.6" r="3.45" fill="#f4e6e4"/>
<circle cx="534.38" cy="348.6" r="6.07" fill="#bb6e66"/>
<circle cx="547.18" cy="348.6" r="2.76" fill="#ffffff"/>
<circle cx="559.98" cy="348.6" r="3.45" fill="#ecebf6"/>
<circle cx="572.78" cy="348.6" r="4.14" fill="#d9d6ee"/>
<circle cx="585.59" cy="348.6" r="5.15" fill="#a04a44"/>
<circle cx="598.39" cy="348.6" r="4.14" fill="#e9cdc9"/>
<circle cx="611.19" cy="348.6" r="4.83" fill="#bfbae0"/>
<circle cx="624" cy="348.6" r="5.52" fill="#cb8f89"/>
<circle cx="636.8" cy="348.6" r="3.45" fill="#ecebf6"/>
<circle cx="649.6" cy="348.6" r="5.52" fill="#cb8f89"/>
<circle cx="662.4" cy="348.6" r="4.14" fill="#e9cdc9"/>
<circle cx="675.21" cy="348.6" r="4.14" fill="#d9d6ee"/>
<circle cx="688.01" cy="348.6" r="6.44" fill="#a04a44"/>
<circle cx="700.81" cy="348.6" r="4.83" fill="#dcb0ab"/>
<circle cx="713.62" cy="348.6" r="4.14" fill="#e9cdc9"/>
<circle cx="726.42" cy="348.6" r="3.45" fill="#ecebf6"/>
<circle cx="739.22" cy="348.6" r="5.52" fill="#a098d0"/>
<circle cx="752.03" cy="348.6" r="2.76" fill="#ffffff"/>
<circle cx="764.83" cy="348.6" r="2.76" fill="#ffffff"/>
<circle cx="777.63" cy="348.6" r="4.83" fill="#dcb0ab"/>
<circle cx="790.43" cy="348.6" r="6.07" fill="#bb6e66"/>
<circle cx="803.24" cy="348.6" r="2.76" fill="#ffffff"/>
<circle cx="816.04" cy="348.6" r="4.14" fill="#d9d6ee"/>
<circle cx="828.84" cy="348.6" r="4.83" fill="#dcb0ab"/>
<circle cx="841.65" cy="348.6" r="5.52" fill="#cb8f89"/>
<circle cx="854.45" cy="348.6" r="3.45" fill="#ecebf6"/>
<circle cx="867.25" cy="348.6" r="2.76" fill="#ffffff"/>
<circle cx="880.06" cy="348.6" r="4.83" fill="#dcb0ab"/>
<circle cx="892.86" cy="348.6" r="5.52" fill="#cb8f89"/>
<circle cx="905.66" cy="348.6" r="2.76" fill="#ffffff"/>
<circle cx="918.47" cy="348.6" r="3.45" fill="#ecebf6"/>
<circle cx="931.27" cy="348.6" r="4.14" fill="#e9cdc9"/>
<circle cx="944.07" cy="348.6" r="4.14" fill="#e9cdc9"/>
<circle cx="956.87" cy="348.6" r="3.45" fill="#f4e6e4"/>
<circle cx="969.68" cy="348.6" r="3.45" fill="#f4e6e4"/>
<circle cx="214.3" cy="365.4" r="3.45" fill="#f4e6e4"/>
<circle cx="227.1" cy="365.4" r="6.35" fill="#7d74be"/>
<circle cx="239.91" cy="365.4" r="2.76" fill="#ffffff"/>
<circle cx="252.71" cy="365.4" r="5.52" fill="#cb8f89"/>
<circle cx="265.51" cy="365.4" r="4.83" fill="#bfbae0"/>
<circle cx="278.31" cy="365.4" r="2.76" fill="#ffffff"/>
<circle cx="291.12" cy="365.4" r="3.45" fill="#f4e6e4"/>
<circle cx="303.92" cy="365.4" r="4.14" fill="#d9d6ee"/>
<circle cx="316.72" cy="365.4" r="4.14" fill="#e9cdc9"/>
<circle cx="329.53" cy="365.4" r="2.76" fill="#ffffff"/>
<circle cx="342.33" cy="365.4" r="4.83" fill="#bfbae0"/>
<circle cx="355.13" cy="365.4" r="1.93" fill="#ffffff"/>
<circle cx="367.94" cy="365.4" r="5.4" fill="#7d74be"/>
<circle cx="380.74" cy="365.4" r="2.93" fill="#ecebf6"/>
<circle cx="393.54" cy="365.4" r="4.69" fill="#a098d0"/>
<circle cx="406.35" cy="365.4" r="3.45" fill="#ecebf6"/>
<circle cx="419.15" cy="365.4" r="6.44" fill="#a04a44"/>
<circle cx="431.95" cy="365.4" r="3.45" fill="#f4e6e4"/>
<circle cx="444.75" cy="365.4" r="4.14" fill="#e9cdc9"/>
<circle cx="457.56" cy="365.4" r="4.14" fill="#d9d6ee"/>
<circle cx="470.36" cy="365.4" r="5.52" fill="#a098d0"/>
<circle cx="483.16" cy="365.4" r="3.45" fill="#ecebf6"/>
<circle cx="495.97" cy="365.4" r="3.45" fill="#f4e6e4"/>
<circle cx="508.77" cy="365.4" r="3.45" fill="#ecebf6"/>
<circle cx="521.57" cy="365.4" r="2.76" fill="#ffffff"/>
<circle cx="534.38" cy="365.4" r="4.14" fill="#e9cdc9"/>
<circle cx="547.18" cy="365.4" r="4.14" fill="#d9d6ee"/>
<circle cx="559.98" cy="365.4" r="3.45" fill="#f4e6e4"/>
<circle cx="572.78" cy="365.4" r="3.45" fill="#ecebf6"/>
<circle cx="585.59" cy="365.4" r="3.86" fill="#bfbae0"/>
<circle cx="598.39" cy="365.4" r="4.83" fill="#bfbae0"/>
<circle cx="611.19" cy="365.4" r="4.14" fill="#d9d6ee"/>
<circle cx="624" cy="365.4" r="4.14" fill="#e9cdc9"/>
<circle cx="636.8" cy="365.4" r="3.45" fill="#ecebf6"/>
<circle cx="649.6" cy="365.4" r="2.76" fill="#ffffff"/>
<circle cx="662.4" cy="365.4" r="2.76" fill="#ffffff"/>
<circle cx="675.21" cy="365.4" r="2.76" fill="#ffffff"/>
<circle cx="688.01" cy="365.4" r="6.07" fill="#bb6e66"/>
<circle cx="700.81" cy="365.4" r="4.14" fill="#d9d6ee"/>
<circle cx="713.62" cy="365.4" r="3.45" fill="#ecebf6"/>
<circle cx="726.42" cy="365.4" r="3.45" fill="#f4e6e4"/>
<circle cx="739.22" cy="365.4" r="3.45" fill="#f4e6e4"/>
<circle cx="752.03" cy="365.4" r="3.45" fill="#f4e6e4"/>
<circle cx="764.83" cy="365.4" r="3.45" fill="#ecebf6"/>
<circle cx="777.63" cy="365.4" r="4.14" fill="#e9cdc9"/>
<circle cx="790.43" cy="365.4" r="4.14" fill="#e9cdc9"/>
<circle cx="803.24" cy="365.4" r="3.45" fill="#f4e6e4"/>
<circle cx="816.04" cy="365.4" r="4.14" fill="#d9d6ee"/>
<circle cx="828.84" cy="365.4" r="4.14" fill="#d9d6ee"/>
<circle cx="841.65" cy="365.4" r="3.45" fill="#f4e6e4"/>
<circle cx="854.45" cy="365.4" r="3.45" fill="#ecebf6"/>
<circle cx="867.25" cy="365.4" r="2.76" fill="#ffffff"/>
<circle cx="880.06" cy="365.4" r="4.83" fill="#bfbae0"/>
<circle cx="892.86" cy="365.4" r="4.83" fill="#bfbae0"/>
<circle cx="905.66" cy="365.4" r="2.76" fill="#ffffff"/>
<circle cx="918.47" cy="365.4" r="3.45" fill="#ecebf6"/>
<circle cx="931.27" cy="365.4" r="2.76" fill="#ffffff"/>
<circle cx="944.07" cy="365.4" r="4.83" fill="#dcb0ab"/>
<circle cx="956.87" cy="365.4" r="4.14" fill="#e9cdc9"/>
<circle cx="969.68" cy="365.4" r="3.45" fill="#f4e6e4"/>
<circle cx="214.3" cy="382.2" r="5.25" fill="#bfbae0"/>
<circle cx="227.1" cy="382.2" r="6.6" fill="#bb6e66"/>
<circle cx="239.91" cy="382.2" r="3" fill="#ffffff"/>
<circle cx="252.71" cy="382.2" r="6" fill="#a098d0"/>
<circle cx="265.51" cy="382.2" r="4.5" fill="#e9cdc9"/>
<circle cx="278.31" cy="382.2" r="5.25" fill="#dcb0ab"/>
<circle cx="291.12" cy="382.2" r="6" fill="#a098d0"/>
<circle cx="303.92" cy="382.2" r="3.75" fill="#f4e6e4"/>
<circle cx="316.72" cy="382.2" r="4.5" fill="#e9cdc9"/>
<circle cx="329.53" cy="382.2" r="3" fill="#ffffff"/>
<circle cx="342.33" cy="382.2" r="6.9" fill="#7d74be"/>
<circle cx="355.13" cy="382.2" r="4.55" fill="#6058ae"/>
<circle cx="367.94" cy="382.2" r="3" fill="#ffffff"/>
<circle cx="380.74" cy="382.2" r="6.5" fill="#6058ae"/>
<circle cx="393.54" cy="382.2" r="6.6" fill="#bb6e66"/>
<circle cx="406.35" cy="382.2" r="4.5" fill="#d9d6ee"/>
<circle cx="419.15" cy="382.2" r="5.25" fill="#dcb0ab"/>
<circle cx="431.95" cy="382.2" r="8.5" fill="#5a52ac"/>
<circle cx="444.75" cy="382.2" r="5.25" fill="#dcb0ab"/>
<circle cx="457.56" cy="382.2" r="4.5" fill="#d9d6ee"/>
<circle cx="470.36" cy="382.2" r="6.9" fill="#7d74be"/>
<circle cx="483.16" cy="382.2" r="3.75" fill="#f4e6e4"/>
<circle cx="495.97" cy="382.2" r="3.75" fill="#f4e6e4"/>
<circle cx="508.77" cy="382.2" r="3" fill="#ffffff"/>
<circle cx="521.57" cy="382.2" r="4.5" fill="#e9cdc9"/>
<circle cx="534.38" cy="382.2" r="3.75" fill="#f4e6e4"/>
<circle cx="547.18" cy="382.2" r="6" fill="#cb8f89"/>
<circle cx="559.98" cy="382.2" r="3.75" fill="#f4e6e4"/>
<circle cx="572.78" cy="382.2" r="6" fill="#cb8f89"/>
<circle cx="585.59" cy="382.2" r="5.2" fill="#6058ae"/>
<circle cx="598.39" cy="382.2" r="3.75" fill="#ecebf6"/>
<circle cx="611.19" cy="382.2" r="3.75" fill="#ecebf6"/>
<circle cx="624" cy="382.2" r="3" fill="#ffffff"/>
<circle cx="636.8" cy="382.2" r="5.25" fill="#bfbae0"/>
<circle cx="649.6" cy="382.2" r="6" fill="#a098d0"/>
<circle cx="662.4" cy="382.2" r="6.9" fill="#7d74be"/>
<circle cx="675.21" cy="382.2" r="6.9" fill="#7d74be"/>
<circle cx="688.01" cy="382.2" r="5.25" fill="#bfbae0"/>
<circle cx="700.81" cy="382.2" r="6" fill="#a098d0"/>
<circle cx="713.62" cy="382.2" r="6.9" fill="#7d74be"/>
<circle cx="726.42" cy="382.2" r="5.25" fill="#bfbae0"/>
<circle cx="739.22" cy="382.2" r="6" fill="#cb8f89"/>
<circle cx="752.03" cy="382.2" r="4.5" fill="#e9cdc9"/>
<circle cx="764.83" cy="382.2" r="3.75" fill="#f4e6e4"/>
<circle cx="777.63" cy="382.2" r="4.5" fill="#d9d6ee"/>
<circle cx="790.43" cy="382.2" r="6" fill="#a098d0"/>
<circle cx="803.24" cy="382.2" r="5.25" fill="#bfbae0"/>
<circle cx="816.04" cy="382.2" r="3.75" fill="#ecebf6"/>
<circle cx="828.84" cy="382.2" r="5.25" fill="#bfbae0"/>
<circle cx="841.65" cy="382.2" r="6.9" fill="#7d74be"/>
<circle cx="854.45" cy="382.2" r="3.75" fill="#f4e6e4"/>
<circle cx="867.25" cy="382.2" r="6" fill="#a098d0"/>
<circle cx="880.06" cy="382.2" r="6.9" fill="#7d74be"/>
<circle cx="892.86" cy="382.2" r="3" fill="#ffffff"/>
<circle cx="905.66" cy="382.2" r="3" fill="#ffffff"/>
<circle cx="918.47" cy="382.2" r="3.75" fill="#ecebf6"/>
<circle cx="931.27" cy="382.2" r="3.75" fill="#f4e6e4"/>
<circle cx="944.07" cy="382.2" r="4.5" fill="#d9d6ee"/>
<circle cx="956.87" cy="382.2" r="4.5" fill="#e9cdc9"/>
<circle cx="969.68" cy="382.2" r="4.5" fill="#e9cdc9"/>
<circle cx="214.3" cy="399" r="6" fill="#a098d0"/>
<circle cx="227.1" cy="399" r="6.6" fill="#bb6e66"/>
<circle cx="239.91" cy="399" r="3" fill="#ffffff"/>
<circle cx="252.71" cy="399" r="6.9" fill="#7d74be"/>
<circle cx="265.51" cy="399" r="5.25" fill="#dcb0ab"/>
<circle cx="278.31" cy="399" r="4.5" fill="#e9cdc9"/>
<circle cx="291.12" cy="399" r="4.5" fill="#d9d6ee"/>
<circle cx="303.92" cy="399" r="5.25" fill="#dcb0ab"/>
<circle cx="316.72" cy="399" r="6.6" fill="#bb6e66"/>
<circle cx="329.53" cy="399" r="3" fill="#ffffff"/>
<circle cx="342.33" cy="399" r="5.25" fill="#bfbae0"/>
<circle cx="355.13" cy="399" r="4.55" fill="#6058ae"/>
<circle cx="367.94" cy="399" r="3" fill="#ffffff"/>
<circle cx="380.74" cy="399" r="6" fill="#a098d0"/>
<circle cx="393.54" cy="399" r="5.25" fill="#dcb0ab"/>
<circle cx="406.35" cy="399" r="4.5" fill="#d9d6ee"/>
<circle cx="419.15" cy="399" r="3.75" fill="#ecebf6"/>
<circle cx="431.95" cy="399" r="8.5" fill="#5a52ac"/>
<circle cx="444.75" cy="399" r="5.25" fill="#dcb0ab"/>
<circle cx="457.56" cy="399" r="4.5" fill="#d9d6ee"/>
<circle cx="470.36" cy="399" r="6.9" fill="#7d74be"/>
<circle cx="483.16" cy="399" r="4.5" fill="#e9cdc9"/>
<circle cx="495.97" cy="399" r="4.5" fill="#e9cdc9"/>
<circle cx="508.77" cy="399" r="3" fill="#ffffff"/>
<circle cx="521.57" cy="399" r="4.5" fill="#e9cdc9"/>
<circle cx="534.38" cy="399" r="3" fill="#ffffff"/>
<circle cx="547.18" cy="399" r="6.6" fill="#bb6e66"/>
<circle cx="559.98" cy="399" r="5.25" fill="#dcb0ab"/>
<circle cx="572.78" cy="399" r="6.6" fill="#bb6e66"/>
<circle cx="585.59" cy="399" r="5.2" fill="#6058ae"/>
<circle cx="598.39" cy="399" r="6" fill="#a098d0"/>
<circle cx="611.19" cy="399" r="3" fill="#ffffff"/>
<circle cx="624" cy="399" r="3.75" fill="#f4e6e4"/>
<circle cx="636.8" cy="399" r="6.9" fill="#7d74be"/>
<circle cx="649.6" cy="399" r="6.9" fill="#7d74be"/>
<circle cx="662.4" cy="399" r="8.5" fill="#5a52ac"/>
<circle cx="675.21" cy="399" r="8.5" fill="#5a52ac"/>
<circle cx="688.01" cy="399" r="6.9" fill="#7d74be"/>
<circle cx="700.81" cy="399" r="6.9" fill="#7d74be"/>
<circle cx="713.62" cy="399" r="5.25" fill="#bfbae0"/>
<circle cx="726.42" cy="399" r="3.75" fill="#ecebf6"/>
<circle cx="739.22" cy="399" r="6.6" fill="#bb6e66"/>
<circle cx="752.03" cy="399" r="6" fill="#cb8f89"/>
<circle cx="764.83" cy="399" r="5.25" fill="#dcb0ab"/>
<circle cx="777.63" cy="399" r="4.5" fill="#d9d6ee"/>
<circle cx="790.43" cy="399" r="6.9" fill="#7d74be"/>
<circle cx="803.24" cy="399" r="6.9" fill="#7d74be"/>
<circle cx="816.04" cy="399" r="3.75" fill="#ecebf6"/>
<circle cx="828.84" cy="399" r="6" fill="#a098d0"/>
<circle cx="841.65" cy="399" r="6.5" fill="#6058ae"/>
<circle cx="854.45" cy="399" r="5.25" fill="#dcb0ab"/>
<circle cx="867.25" cy="399" r="6.5" fill="#6058ae"/>
<circle cx="880.06" cy="399" r="6" fill="#a098d0"/>
<circle cx="892.86" cy="399" r="4.5" fill="#d9d6ee"/>
<circle cx="905.66" cy="399" r="3" fill="#ffffff"/>
<circle cx="918.47" cy="399" r="4.5" fill="#e9cdc9"/>
<circle cx="931.27" cy="399" r="4.5" fill="#e9cdc9"/>
<circle cx="944.07" cy="399" r="4.5" fill="#d9d6ee"/>
<circle cx="956.87" cy="399" r="3.75" fill="#f4e6e4"/>
<circle cx="969.68" cy="399" r="3.75" fill="#f4e6e4"/>
<circle cx="214.3" cy="415.8" r="6" fill="#a098d0"/>
<circle cx="227.1" cy="415.8" r="6" fill="#cb8f89"/>
<circle cx="239.91" cy="415.8" r="3" fill="#ffffff"/>
<circle cx="252.71" cy="415.8" r="6.9" fill="#7d74be"/>
<circle cx="265.51" cy="415.8" r="4.5" fill="#e9cdc9"/>
<circle cx="278.31" cy="415.8" r="4.5" fill="#e9cdc9"/>
<circle cx="291.12" cy="415.8" r="4.5" fill="#d9d6ee"/>
<circle cx="303.92" cy="415.8" r="5.25" fill="#dcb0ab"/>
<circle cx="316.72" cy="415.8" r="6" fill="#cb8f89"/>
<circle cx="329.53" cy="415.8" r="3" fill="#ffffff"/>
<circle cx="342.33" cy="415.8" r="5.25" fill="#bfbae0"/>
<circle cx="355.13" cy="415.8" r="4.55" fill="#6058ae"/>
<circle cx="367.94" cy="415.8" r="3" fill="#ffffff"/>
<circle cx="380.74" cy="415.8" r="6" fill="#a098d0"/>
<circle cx="393.54" cy="415.8" r="5.25" fill="#dcb0ab"/>
<circle cx="406.35" cy="415.8" r="4.5" fill="#d9d6ee"/>
<circle cx="419.15" cy="415.8" r="3.75" fill="#ecebf6"/>
<circle cx="431.95" cy="415.8" r="8.5" fill="#5a52ac"/>
<circle cx="444.75" cy="415.8" r="5.25" fill="#dcb0ab"/>
<circle cx="457.56" cy="415.8" r="4.5" fill="#d9d6ee"/>
<circle cx="470.36" cy="415.8" r="6.5" fill="#6058ae"/>
<circle cx="483.16" cy="415.8" r="3.75" fill="#f4e6e4"/>
<circle cx="495.97" cy="415.8" r="4.5" fill="#e9cdc9"/>
<circle cx="508.77" cy="415.8" r="3.75" fill="#ecebf6"/>
<circle cx="521.57" cy="415.8" r="4.5" fill="#e9cdc9"/>
<circle cx="534.38" cy="415.8" r="3.75" fill="#f4e6e4"/>
<circle cx="547.18" cy="415.8" r="6.6" fill="#bb6e66"/>
<circle cx="559.98" cy="415.8" r="5.25" fill="#dcb0ab"/>
<circle cx="572.78" cy="415.8" r="6.6" fill="#bb6e66"/>
<circle cx="585.59" cy="415.8" r="5.2" fill="#6058ae"/>
<circle cx="598.39" cy="415.8" r="6" fill="#a098d0"/>
<circle cx="611.19" cy="415.8" r="3" fill="#ffffff"/>
<circle cx="624" cy="415.8" r="3.75" fill="#f4e6e4"/>
<circle cx="636.8" cy="415.8" r="6.9" fill="#7d74be"/>
<circle cx="649.6" cy="415.8" r="6.9" fill="#7d74be"/>
<circle cx="662.4" cy="415.8" r="8.5" fill="#5a52ac"/>
<circle cx="675.21" cy="415.8" r="8.5" fill="#5a52ac"/>
<circle cx="688.01" cy="415.8" r="6.9" fill="#7d74be"/>
<circle cx="700.81" cy="415.8" r="6" fill="#a098d0"/>
<circle cx="713.62" cy="415.8" r="5.25" fill="#bfbae0"/>
<circle cx="726.42" cy="415.8" r="3.75" fill="#ecebf6"/>
<circle cx="739.22" cy="415.8" r="6.6" fill="#bb6e66"/>
<circle cx="752.03" cy="415.8" r="6" fill="#cb8f89"/>
<circle cx="764.83" cy="415.8" r="5.25" fill="#dcb0ab"/>
<circle cx="777.63" cy="415.8" r="4.5" fill="#d9d6ee"/>
<circle cx="790.43" cy="415.8" r="6.9" fill="#7d74be"/>
<circle cx="803.24" cy="415.8" r="6.9" fill="#7d74be"/>
<circle cx="816.04" cy="415.8" r="3.75" fill="#ecebf6"/>
<circle cx="828.84" cy="415.8" r="5.25" fill="#bfbae0"/>
<circle cx="841.65" cy="415.8" r="6.5" fill="#6058ae"/>
<circle cx="854.45" cy="415.8" r="5.25" fill="#dcb0ab"/>
<circle cx="867.25" cy="415.8" r="6.5" fill="#6058ae"/>
<circle cx="880.06" cy="415.8" r="6" fill="#a098d0"/>
<circle cx="892.86" cy="415.8" r="3.75" fill="#ecebf6"/>
<circle cx="905.66" cy="415.8" r="3" fill="#ffffff"/>
<circle cx="918.47" cy="415.8" r="3.75" fill="#f4e6e4"/>
<circle cx="931.27" cy="415.8" r="4.5" fill="#e9cdc9"/>
<circle cx="944.07" cy="415.8" r="4.5" fill="#d9d6ee"/>
<circle cx="956.87" cy="415.8" r="3.75" fill="#f4e6e4"/>
<circle cx="969.68" cy="415.8" r="3.75" fill="#f4e6e4"/>
<circle cx="214.3" cy="432.6" r="4.5" fill="#e9cdc9"/>
<circle cx="227.1" cy="432.6" r="3.75" fill="#f4e6e4"/>
<circle cx="239.91" cy="432.6" r="3" fill="#ffffff"/>
<circle cx="252.71" cy="432.6" r="4.5" fill="#e9cdc9"/>
<circle cx="265.51" cy="432.6" r="5.25" fill="#dcb0ab"/>
<circle cx="278.31" cy="432.6" r="5.25" fill="#dcb0ab"/>
<circle cx="291.12" cy="432.6" r="4.5" fill="#e9cdc9"/>
<circle cx="303.92" cy="432.6" r="3.75" fill="#f4e6e4"/>
<circle cx="316.72" cy="432.6" r="4.5" fill="#e9cdc9"/>
<circle cx="329.53" cy="432.6" r="3" fill="#ffffff"/>
<circle cx="342.33" cy="432.6" r="3.75" fill="#f4e6e4"/>
<circle cx="355.13" cy="432.6" r="3.15" fill="#e9cdc9"/>
<circle cx="367.94" cy="432.6" r="5.25" fill="#bfbae0"/>
<circle cx="380.74" cy="432.6" r="3.75" fill="#f4e6e4"/>
<circle cx="393.54" cy="432.6" r="3.75" fill="#f4e6e4"/>
<circle cx="406.35" cy="432.6" r="6" fill="#a098d0"/>
<circle cx="419.15" cy="432.6" r="4.5" fill="#d9d6ee"/>
<circle cx="431.95" cy="432.6" r="3.75" fill="#ecebf6"/>
<circle cx="444.75" cy="432.6" r="3.75" fill="#f4e6e4"/>
<circle cx="457.56" cy="432.6" r="4.5" fill="#e9cdc9"/>
<circle cx="470.36" cy="432.6" r="3" fill="#ffffff"/>
<circle cx="483.16" cy="432.6" r="5.25" fill="#dcb0ab"/>
<circle cx="495.97" cy="432.6" r="5.25" fill="#dcb0ab"/>
<circle cx="508.77" cy="432.6" r="5.25" fill="#dcb0ab"/>
<circle cx="521.57" cy="432.6" r="6" fill="#cb8f89"/>
<circle cx="534.38" cy="432.6" r="3.75" fill="#ecebf6"/>
<circle cx="547.18" cy="432.6" r="4.5" fill="#d9d6ee"/>
<circle cx="559.98" cy="432.6" r="6" fill="#cb8f89"/>
<circle cx="572.78" cy="432.6" r="4.5" fill="#e9cdc9"/>
<circle cx="585.59" cy="432.6" r="3" fill="#f4e6e4"/>
<circle cx="598.39" cy="432.6" r="3.75" fill="#ecebf6"/>
<circle cx="611.19" cy="432.6" r="3.75" fill="#f4e6e4"/>
<circle cx="624" cy="432.6" r="5.25" fill="#dcb0ab"/>
<circle cx="636.8" cy="432.6" r="5.25" fill="#bfbae0"/>
<circle cx="649.6" cy="432.6" r="4.5" fill="#e9cdc9"/>
<circle cx="662.4" cy="432.6" r="6" fill="#a098d0"/>
<circle cx="675.21" cy="432.6" r="6" fill="#a098d0"/>
<circle cx="688.01" cy="432.6" r="3.75" fill="#f4e6e4"/>
<circle cx="700.81" cy="432.6" r="4.5" fill="#d9d6ee"/>
<circle cx="713.62" cy="432.6" r="4.5" fill="#e9cdc9"/>
<circle cx="726.42" cy="432.6" r="3.75" fill="#ecebf6"/>
<circle cx="739.22" cy="432.6" r="3.75" fill="#f4e6e4"/>
<circle cx="752.03" cy="432.6" r="6" fill="#cb8f89"/>
<circle cx="764.83" cy="432.6" r="5.25" fill="#dcb0ab"/>
<circle cx="777.63" cy="432.6" r="5.25" fill="#dcb0ab"/>
<circle cx="790.43" cy="432.6" r="5.25" fill="#dcb0ab"/>
<circle cx="803.24" cy="432.6" r="4.5" fill="#d9d6ee"/>
<circle cx="816.04" cy="432.6" r="4.5" fill="#e9cdc9"/>
<circle cx="828.84" cy="432.6" r="6" fill="#a098d0"/>
<circle cx="841.65" cy="432.6" r="4.5" fill="#d9d6ee"/>
<circle cx="854.45" cy="432.6" r="3.75" fill="#f4e6e4"/>
<circle cx="867.25" cy="432.6" r="6" fill="#a098d0"/>
<circle cx="880.06" cy="432.6" r="3.75" fill="#f4e6e4"/>
<circle cx="892.86" cy="432.6" r="6.5" fill="#6058ae"/>
<circle cx="905.66" cy="432.6" r="3" fill="#ffffff"/>
<circle cx="918.47" cy="432.6" r="6" fill="#cb8f89"/>
<circle cx="931.27" cy="432.6" r="3.75" fill="#f4e6e4"/>
<circle cx="944.07" cy="432.6" r="5.25" fill="#bfbae0"/>
<circle cx="956.87" cy="432.6" r="3.75" fill="#ecebf6"/>
<circle cx="969.68" cy="432.6" r="4.5" fill="#d9d6ee"/>
<circle cx="214.3" cy="449.4" r="6.6" fill="#bb6e66"/>
<circle cx="227.1" cy="449.4" r="3" fill="#ffffff"/>
<circle cx="239.91" cy="449.4" r="3" fill="#ffffff"/>
<circle cx="252.71" cy="449.4" r="5.25" fill="#bfbae0"/>
<circle cx="265.51" cy="449.4" r="4.5" fill="#d9d6ee"/>
<circle cx="278.31" cy="449.4" r="6.6" fill="#bb6e66"/>
<circle cx="291.12" cy="449.4" r="4.5" fill="#e9cdc9"/>
<circle cx="303.92" cy="449.4" r="7" fill="#a04a44"/>
<circle cx="316.72" cy="449.4" r="4.5" fill="#e9cdc9"/>
<circle cx="329.53" cy="449.4" r="3" fill="#ffffff"/>
<circle cx="342.33" cy="449.4" r="5.25" fill="#bfbae0"/>
<circle cx="355.13" cy="449.4" r="3.67" fill="#dcb0ab"/>
<circle cx="367.94" cy="449.4" r="6.6" fill="#bb6e66"/>
<circle cx="380.74" cy="449.4" r="4.5" fill="#e9cdc9"/>
<circle cx="393.54" cy="449.4" r="6.6" fill="#bb6e66"/>
<circle cx="406.35" cy="449.4" r="3.75" fill="#ecebf6"/>
<circle cx="419.15" cy="449.4" r="5.25" fill="#dcb0ab"/>
<circle cx="431.95" cy="449.4" r="3.75" fill="#ecebf6"/>
<circle cx="444.75" cy="449.4" r="3" fill="#ffffff"/>
<circle cx="457.56" cy="449.4" r="5.25" fill="#bfbae0"/>
<circle cx="470.36" cy="449.4" r="3.75" fill="#f4e6e4"/>
<circle cx="483.16" cy="449.4" r="6" fill="#cb8f89"/>
<circle cx="495.97" cy="449.4" r="5.25" fill="#dcb0ab"/>
<circle cx="508.77" cy="449.4" r="3.75" fill="#f4e6e4"/>
<circle cx="521.57" cy="449.4" r="6" fill="#cb8f89"/>
<circle cx="534.38" cy="449.4" r="6" fill="#cb8f89"/>
<circle cx="547.18" cy="449.4" r="3.75" fill="#f4e6e4"/>
<circle cx="559.98" cy="449.4" r="4.5" fill="#e9cdc9"/>
<circle cx="572.78" cy="449.4" r="5.25" fill="#dcb0ab"/>
<circle cx="585.59" cy="449.4" r="4.2" fill="#dcb0ab"/>
<circle cx="598.39" cy="449.4" r="3" fill="#ffffff"/>
<circle cx="611.19" cy="449.4" r="6.9" fill="#7d74be"/>
<circle cx="624" cy="449.4" r="6.6" fill="#bb6e66"/>
<circle cx="636.8" cy="449.4" r="6" fill="#a098d0"/>
<circle cx="649.6" cy="449.4" r="4.5" fill="#e9cdc9"/>
<circle cx="662.4" cy="449.4" r="5.25" fill="#bfbae0"/>
<circle cx="675.21" cy="449.4" r="6.9" fill="#7d74be"/>
<circle cx="688.01" cy="449.4" r="7.25" fill="#892c2c"/>
<circle cx="700.81" cy="449.4" r="3.75" fill="#ecebf6"/>
<circle cx="713.62" cy="449.4" r="4.5" fill="#e9cdc9"/>
<circle cx="726.42" cy="449.4" r="3.75" fill="#f4e6e4"/>
<circle cx="739.22" cy="449.4" r="3" fill="#ffffff"/>
<circle cx="752.03" cy="449.4" r="6" fill="#cb8f89"/>
<circle cx="764.83" cy="449.4" r="5.25" fill="#dcb0ab"/>
<circle cx="777.63" cy="449.4" r="3.75" fill="#f4e6e4"/>
<circle cx="790.43" cy="449.4" r="5.25" fill="#dcb0ab"/>
<circle cx="803.24" cy="449.4" r="6" fill="#a098d0"/>
<circle cx="816.04" cy="449.4" r="4.5" fill="#d9d6ee"/>
<circle cx="828.84" cy="449.4" r="3.75" fill="#ecebf6"/>
<circle cx="841.65" cy="449.4" r="3.75" fill="#f4e6e4"/>
<circle cx="854.45" cy="449.4" r="5.25" fill="#dcb0ab"/>
<circle cx="867.25" cy="449.4" r="5.25" fill="#bfbae0"/>
<circle cx="880.06" cy="449.4" r="4.5" fill="#e9cdc9"/>
<circle cx="892.86" cy="449.4" r="4.5" fill="#e9cdc9"/>
<circle cx="905.66" cy="449.4" r="3" fill="#ffffff"/>
<circle cx="918.47" cy="449.4" r="4.5" fill="#e9cdc9"/>
<circle cx="931.27" cy="449.4" r="6.6" fill="#bb6e66"/>
<circle cx="944.07" cy="449.4" r="3" fill="#ffffff"/>
<circle cx="956.87" cy="449.4" r="4.5" fill="#e9cdc9"/>
<circle cx="969.68" cy="449.4" r="6" fill="#cb8f89"/>
<circle cx="214.3" cy="466.2" r="6" fill="#cb8f89"/>
<circle cx="227.1" cy="466.2" r="5.25" fill="#bfbae0"/>
<circle cx="239.91" cy="466.2" r="3" fill="#ffffff"/>
<circle cx="252.71" cy="466.2" r="4.5" fill="#d9d6ee"/>
<circle cx="265.51" cy="466.2" r="5.25" fill="#bfbae0"/>
<circle cx="278.31" cy="466.2" r="3.75" fill="#f4e6e4"/>
<circle cx="291.12" cy="466.2" r="6" fill="#cb8f89"/>
<circle cx="303.92" cy="466.2" r="5.25" fill="#dcb0ab"/>
<circle cx="316.72" cy="466.2" r="3.75" fill="#f4e6e4"/>
<circle cx="329.53" cy="466.2" r="3" fill="#ffffff"/>
<circle cx="342.33" cy="466.2" r="3.75" fill="#ecebf6"/>
<circle cx="355.13" cy="466.2" r="4.83" fill="#7d74be"/>
<circle cx="367.94" cy="466.2" r="4.5" fill="#e9cdc9"/>
<circle cx="380.74" cy="466.2" r="6" fill="#cb8f89"/>
<circle cx="393.54" cy="466.2" r="4.5" fill="#e9cdc9"/>
<circle cx="406.35" cy="466.2" r="3.75" fill="#f4e6e4"/>
<circle cx="419.15" cy="466.2" r="6.6" fill="#bb6e66"/>
<circle cx="431.95" cy="466.2" r="3.75" fill="#f4e6e4"/>
<circle cx="444.75" cy="466.2" r="5.25" fill="#bfbae0"/>
<circle cx="457.56" cy="466.2" r="3.75" fill="#ecebf6"/>
<circle cx="470.36" cy="466.2" r="4.5" fill="#e9cdc9"/>
<circle cx="483.16" cy="466.2" r="3.75" fill="#f4e6e4"/>
<circle cx="495.97" cy="466.2" r="4.5" fill="#e9cdc9"/>
<circle cx="508.77" cy="466.2" r="4.5" fill="#e9cdc9"/>
<circle cx="521.57" cy="466.2" r="5.25" fill="#dcb0ab"/>
<circle cx="534.38" cy="466.2" r="5.25" fill="#dcb0ab"/>
<circle cx="547.18" cy="466.2" r="5.25" fill="#bfbae0"/>
<circle cx="559.98" cy="466.2" r="6" fill="#cb8f89"/>
<circle cx="572.78" cy="466.2" r="3" fill="#ffffff"/>
<circle cx="585.59" cy="466.2" r="3.6" fill="#d9d6ee"/>
<circle cx="598.39" cy="466.2" r="3.75" fill="#ecebf6"/>
<circle cx="611.19" cy="466.2" r="6.9" fill="#7d74be"/>
<circle cx="624" cy="466.2" r="4.5" fill="#e9cdc9"/>
<circle cx="636.8" cy="466.2" r="5.25" fill="#bfbae0"/>
<circle cx="649.6" cy="466.2" r="4.5" fill="#e9cdc9"/>
<circle cx="662.4" cy="466.2" r="3.75" fill="#ecebf6"/>
<circle cx="675.21" cy="466.2" r="5.25" fill="#bfbae0"/>
<circle cx="688.01" cy="466.2" r="7" fill="#a04a44"/>
<circle cx="700.81" cy="466.2" r="3" fill="#ffffff"/>
<circle cx="713.62" cy="466.2" r="4.5" fill="#e9cdc9"/>
<circle cx="726.42" cy="466.2" r="5.25" fill="#dcb0ab"/>
<circle cx="739.22" cy="466.2" r="3.75" fill="#f4e6e4"/>
<circle cx="752.03" cy="466.2" r="5.25" fill="#dcb0ab"/>
<circle cx="764.83" cy="466.2" r="5.25" fill="#dcb0ab"/>
<circle cx="777.63" cy="466.2" r="3.75" fill="#f4e6e4"/>
<circle cx="790.43" cy="466.2" r="6.6" fill="#bb6e66"/>
<circle cx="803.24" cy="466.2" r="6" fill="#a098d0"/>
<circle cx="816.04" cy="466.2" r="4.5" fill="#d9d6ee"/>
<circle cx="828.84" cy="466.2" r="3" fill="#ffffff"/>
<circle cx="841.65" cy="466.2" r="5.25" fill="#dcb0ab"/>
<circle cx="854.45" cy="466.2" r="4.5" fill="#e9cdc9"/>
<circle cx="867.25" cy="466.2" r="3.75" fill="#ecebf6"/>
<circle cx="880.06" cy="466.2" r="3" fill="#ffffff"/>
<circle cx="892.86" cy="466.2" r="4.5" fill="#d9d6ee"/>
<circle cx="905.66" cy="466.2" r="3" fill="#ffffff"/>
<circle cx="918.47" cy="466.2" r="4.5" fill="#e9cdc9"/>
<circle cx="931.27" cy="466.2" r="6.6" fill="#bb6e66"/>
<circle cx="944.07" cy="466.2" r="3.75" fill="#f4e6e4"/>
<circle cx="956.87" cy="466.2" r="5.25" fill="#dcb0ab"/>
<circle cx="969.68" cy="466.2" r="6.6" fill="#bb6e66"/>
<circle cx="214.3" cy="483" r="7" fill="#a04a44"/>
<circle cx="227.1" cy="483" r="3.75" fill="#ecebf6"/>
<circle cx="239.91" cy="483" r="3" fill="#ffffff"/>
<circle cx="252.71" cy="483" r="5.25" fill="#bfbae0"/>
<circle cx="265.51" cy="483" r="4.5" fill="#d9d6ee"/>
<circle cx="278.31" cy="483" r="7" fill="#a04a44"/>
<circle cx="291.12" cy="483" r="3" fill="#ffffff"/>
<circle cx="303.92" cy="483" r="6.6" fill="#bb6e66"/>
<circle cx="316.72" cy="483" r="3.75" fill="#ecebf6"/>
<circle cx="329.53" cy="483" r="3" fill="#ffffff"/>
<circle cx="342.33" cy="483" r="4.5" fill="#d9d6ee"/>
<circle cx="355.13" cy="483" r="4.9" fill="#a04a44"/>
<circle cx="367.94" cy="483" r="6.6" fill="#bb6e66"/>
<circle cx="380.74" cy="483" r="4.5" fill="#e9cdc9"/>
<circle cx="393.54" cy="483" r="6.6" fill="#bb6e66"/>
<circle cx="406.35" cy="483" r="3" fill="#ffffff"/>
<circle cx="419.15" cy="483" r="4.5" fill="#e9cdc9"/>
<circle cx="431.95" cy="483" r="3.75" fill="#ecebf6"/>
<circle cx="444.75" cy="483" r="3" fill="#ffffff"/>
<circle cx="457.56" cy="483" r="5.25" fill="#bfbae0"/>
<circle cx="470.36" cy="483" r="3" fill="#ffffff"/>
<circle cx="483.16" cy="483" r="6.6" fill="#bb6e66"/>
<circle cx="495.97" cy="483" r="4.5" fill="#e9cdc9"/>
<circle cx="508.77" cy="483" r="3.75" fill="#f4e6e4"/>
<circle cx="521.57" cy="483" r="6" fill="#cb8f89"/>
<circle cx="534.38" cy="483" r="6" fill="#cb8f89"/>
<circle cx="547.18" cy="483" r="3.75" fill="#f4e6e4"/>
<circle cx="559.98" cy="483" r="3.75" fill="#f4e6e4"/>
<circle cx="572.78" cy="483" r="5.25" fill="#dcb0ab"/>
<circle cx="585.59" cy="483" r="4.2" fill="#dcb0ab"/>
<circle cx="598.39" cy="483" r="6.6" fill="#bb6e66"/>
<circle cx="611.19" cy="483" r="5.25" fill="#bfbae0"/>
<circle cx="624" cy="483" r="6" fill="#cb8f89"/>
<circle cx="636.8" cy="483" r="5.25" fill="#bfbae0"/>
<circle cx="649.6" cy="483" r="5.25" fill="#dcb0ab"/>
<circle cx="662.4" cy="483" r="3.75" fill="#ecebf6"/>
<circle cx="675.21" cy="483" r="6" fill="#a098d0"/>
<circle cx="688.01" cy="483" r="6.6" fill="#bb6e66"/>
<circle cx="700.81" cy="483" r="3.75" fill="#f4e6e4"/>
<circle cx="713.62" cy="483" r="3" fill="#ffffff"/>
<circle cx="726.42" cy="483" r="4.5" fill="#d9d6ee"/>
<circle cx="739.22" cy="483" r="3.75" fill="#ecebf6"/>
<circle cx="752.03" cy="483" r="4.5" fill="#e9cdc9"/>
<circle cx="764.83" cy="483" r="3.75" fill="#f4e6e4"/>
<circle cx="777.63" cy="483" r="4.5" fill="#e9cdc9"/>
<circle cx="790.43" cy="483" r="6" fill="#cb8f89"/>
<circle cx="803.24" cy="483" r="4.5" fill="#d9d6ee"/>
<circle cx="816.04" cy="483" r="3" fill="#ffffff"/>
<circle cx="828.84" cy="483" r="3" fill="#ffffff"/>
<circle cx="841.65" cy="483" r="3.75" fill="#f4e6e4"/>
<circle cx="854.45" cy="483" r="3" fill="#ffffff"/>
<circle cx="867.25" cy="483" r="4.5" fill="#d9d6ee"/>
<circle cx="880.06" cy="483" r="5.25" fill="#dcb0ab"/>
<circle cx="892.86" cy="483" r="6" fill="#cb8f89"/>
<circle cx="905.66" cy="483" r="3" fill="#ffffff"/>
<circle cx="918.47" cy="483" r="3.75" fill="#f4e6e4"/>
<circle cx="931.27" cy="483" r="5.25" fill="#dcb0ab"/>
<circle cx="944.07" cy="483" r="3.75" fill="#ecebf6"/>
<circle cx="956.87" cy="483" r="3" fill="#ffffff"/>
<circle cx="969.68" cy="483" r="5.25" fill="#dcb0ab"/>
<circle cx="214.3" cy="499.8" r="6" fill="#cb8f89"/>
<circle cx="227.1" cy="499.8" r="4.5" fill="#d9d6ee"/>
<circle cx="239.91" cy="499.8" r="3" fill="#ffffff"/>
<circle cx="252.71" cy="499.8" r="3.75" fill="#ecebf6"/>
<circle cx="265.51" cy="499.8" r="5.25" fill="#bfbae0"/>
<circle cx="278.31" cy="499.8" r="4.5" fill="#e9cdc9"/>
<circle cx="291.12" cy="499.8" r="5.25" fill="#dcb0ab"/>
<circle cx="303.92" cy="499.8" r="5.25" fill="#dcb0ab"/>
<circle cx="316.72" cy="499.8" r="3.75" fill="#f4e6e4"/>
<circle cx="329.53" cy="499.8" r="3" fill="#ffffff"/>
<circle cx="342.33" cy="499.8" r="3.75" fill="#ecebf6"/>
<circle cx="355.13" cy="499.8" r="4.83" fill="#7d74be"/>
<circle cx="367.94" cy="499.8" r="3" fill="#ffffff"/>
<circle cx="380.74" cy="499.8" r="3.75" fill="#f4e6e4"/>
<circle cx="393.54" cy="499.8" r="4.5" fill="#e9cdc9"/>
<circle cx="406.35" cy="499.8" r="3.75" fill="#f4e6e4"/>
<circle cx="419.15" cy="499.8" r="6.6" fill="#bb6e66"/>
<circle cx="431.95" cy="499.8" r="3" fill="#ffffff"/>
<circle cx="444.75" cy="499.8" r="4.5" fill="#d9d6ee"/>
<circle cx="457.56" cy="499.8" r="3.75" fill="#ecebf6"/>
<circle cx="470.36" cy="499.8" r="3.75" fill="#ecebf6"/>
<circle cx="483.16" cy="499.8" r="3.75" fill="#f4e6e4"/>
<circle cx="495.97" cy="499.8" r="5.25" fill="#dcb0ab"/>
<circle cx="508.77" cy="499.8" r="3.75" fill="#f4e6e4"/>
<circle cx="521.57" cy="499.8" r="6" fill="#cb8f89"/>
<circle cx="534.38" cy="499.8" r="6" fill="#cb8f89"/>
<circle cx="547.18" cy="499.8" r="4.5" fill="#d9d6ee"/>
<circle cx="559.98" cy="499.8" r="6" fill="#cb8f89"/>
<circle cx="572.78" cy="499.8" r="3.75" fill="#f4e6e4"/>
<circle cx="585.59" cy="499.8" r="3.6" fill="#d9d6ee"/>
<circle cx="598.39" cy="499.8" r="3" fill="#ffffff"/>
<circle cx="611.19" cy="499.8" r="6" fill="#a098d0"/>
<circle cx="624" cy="499.8" r="4.5" fill="#e9cdc9"/>
<circle cx="636.8" cy="499.8" r="6" fill="#a098d0"/>
<circle cx="649.6" cy="499.8" r="3" fill="#ffffff"/>
<circle cx="662.4" cy="499.8" r="3.75" fill="#ecebf6"/>
<circle cx="675.21" cy="499.8" r="5.25" fill="#bfbae0"/>
<circle cx="688.01" cy="499.8" r="7" fill="#a04a44"/>
<circle cx="700.81" cy="499.8" r="3.75" fill="#ecebf6"/>
<circle cx="713.62" cy="499.8" r="3.75" fill="#f4e6e4"/>
<circle cx="726.42" cy="499.8" r="4.5" fill="#e9cdc9"/>
<circle cx="739.22" cy="499.8" r="4.5" fill="#e9cdc9"/>
<circle cx="752.03" cy="499.8" r="5.25" fill="#dcb0ab"/>
<circle cx="764.83" cy="499.8" r="5.25" fill="#dcb0ab"/>
<circle cx="777.63" cy="499.8" r="4.5" fill="#e9cdc9"/>
<circle cx="790.43" cy="499.8" r="6.6" fill="#bb6e66"/>
<circle cx="803.24" cy="499.8" r="5.25" fill="#bfbae0"/>
<circle cx="816.04" cy="499.8" r="4.5" fill="#d9d6ee"/>
<circle cx="828.84" cy="499.8" r="4.5" fill="#d9d6ee"/>
<circle cx="841.65" cy="499.8" r="3.75" fill="#f4e6e4"/>
<circle cx="854.45" cy="499.8" r="4.5" fill="#e9cdc9"/>
<circle cx="867.25" cy="499.8" r="4.5" fill="#d9d6ee"/>
<circle cx="880.06" cy="499.8" r="3" fill="#ffffff"/>
<circle cx="892.86" cy="499.8" r="4.5" fill="#d9d6ee"/>
<circle cx="905.66" cy="499.8" r="3" fill="#ffffff"/>
<circle cx="918.47" cy="499.8" r="4.5" fill="#e9cdc9"/>
<circle cx="931.27" cy="499.8" r="6" fill="#cb8f89"/>
<circle cx="944.07" cy="499.8" r="3.75" fill="#f4e6e4"/>
<circle cx="956.87" cy="499.8" r="4.5" fill="#e9cdc9"/>
<circle cx="969.68" cy="499.8" r="6.6" fill="#bb6e66"/>
<circle cx="214.3" cy="516.6" r="3.75" fill="#f4e6e4"/>
<circle cx="227.1" cy="516.6" r="3.75" fill="#f4e6e4"/>
<circle cx="239.91" cy="516.6" r="3" fill="#ffffff"/>
<circle cx="252.71" cy="516.6" r="6" fill="#cb8f89"/>
<circle cx="265.51" cy="516.6" r="3.75" fill="#f4e6e4"/>
<circle cx="278.31" cy="516.6" r="4.5" fill="#e9cdc9"/>
<circle cx="291.12" cy="516.6" r="6.9" fill="#7d74be"/>
<circle cx="303.92" cy="516.6" r="3.75" fill="#ecebf6"/>
<circle cx="316.72" cy="516.6" r="3" fill="#ffffff"/>
<circle cx="329.53" cy="516.6" r="3" fill="#ffffff"/>
<circle cx="342.33" cy="516.6" r="6" fill="#a098d0"/>
<circle cx="355.13" cy="516.6" r="3.67" fill="#dcb0ab"/>
<circle cx="367.94" cy="516.6" r="5.25" fill="#bfbae0"/>
<circle cx="380.74" cy="516.6" r="3.75" fill="#ecebf6"/>
<circle cx="393.54" cy="516.6" r="4.5" fill="#e9cdc9"/>
<circle cx="406.35" cy="516.6" r="5.25" fill="#bfbae0"/>
<circle cx="419.15" cy="516.6" r="5.25" fill="#dcb0ab"/>
<circle cx="431.95" cy="516.6" r="4.5" fill="#d9d6ee"/>
<circle cx="444.75" cy="516.6" r="4.5" fill="#e9cdc9"/>
<circle cx="457.56" cy="516.6" r="4.5" fill="#d9d6ee"/>
<circle cx="470.36" cy="516.6" r="6" fill="#a098d0"/>
<circle cx="483.16" cy="516.6" r="4.5" fill="#e9cdc9"/>
<circle cx="495.97" cy="516.6" r="3.75" fill="#ecebf6"/>
<circle cx="508.77" cy="516.6" r="4.5" fill="#e9cdc9"/>
<circle cx="521.57" cy="516.6" r="3.75" fill="#f4e6e4"/>
<circle cx="534.38" cy="516.6" r="3.75" fill="#f4e6e4"/>
<circle cx="547.18" cy="516.6" r="3.75" fill="#ecebf6"/>
<circle cx="559.98" cy="516.6" r="3.75" fill="#ecebf6"/>
<circle cx="572.78" cy="516.6" r="3.75" fill="#f4e6e4"/>
<circle cx="585.59" cy="516.6" r="5.2" fill="#6058ae"/>
<circle cx="598.39" cy="516.6" r="5.25" fill="#dcb0ab"/>
<circle cx="611.19" cy="516.6" r="5.25" fill="#bfbae0"/>
<circle cx="624" cy="516.6" r="3.75" fill="#f4e6e4"/>
<circle cx="636.8" cy="516.6" r="3.75" fill="#ecebf6"/>
<circle cx="649.6" cy="516.6" r="4.5" fill="#e9cdc9"/>
<circle cx="662.4" cy="516.6" r="3.75" fill="#ecebf6"/>
<circle cx="675.21" cy="516.6" r="4.5" fill="#d9d6ee"/>
<circle cx="688.01" cy="516.6" r="5.25" fill="#dcb0ab"/>
<circle cx="700.81" cy="516.6" r="3.75" fill="#ecebf6"/>
<circle cx="713.62" cy="516.6" r="5.25" fill="#bfbae0"/>
<circle cx="726.42" cy="516.6" r="6" fill="#a098d0"/>
<circle cx="739.22" cy="516.6" r="3.75" fill="#ecebf6"/>
<circle cx="752.03" cy="516.6" r="3.75" fill="#ecebf6"/>
<circle cx="764.83" cy="516.6" r="5.25" fill="#bfbae0"/>
<circle cx="777.63" cy="516.6" r="3.75" fill="#ecebf6"/>
<circle cx="790.43" cy="516.6" r="3.75" fill="#f4e6e4"/>
<circle cx="803.24" cy="516.6" r="3.75" fill="#f4e6e4"/>
<circle cx="816.04" cy="516.6" r="3.75" fill="#f4e6e4"/>
<circle cx="828.84" cy="516.6" r="3.75" fill="#ecebf6"/>
<circle cx="841.65" cy="516.6" r="4.5" fill="#d9d6ee"/>
<circle cx="854.45" cy="516.6" r="6" fill="#a098d0"/>
<circle cx="867.25" cy="516.6" r="3" fill="#ffffff"/>
<circle cx="880.06" cy="516.6" r="6" fill="#a098d0"/>
<circle cx="892.86" cy="516.6" r="4.5" fill="#e9cdc9"/>
<circle cx="905.66" cy="516.6" r="3" fill="#ffffff"/>
<circle cx="918.47" cy="516.6" r="4.5" fill="#d9d6ee"/>
<circle cx="931.27" cy="516.6" r="3" fill="#ffffff"/>
<circle cx="944.07" cy="516.6" r="4.5" fill="#d9d6ee"/>
<circle cx="956.87" cy="516.6" r="4.5" fill="#e9cdc9"/>
<circle cx="969.68" cy="516.6" r="3" fill="#ffffff"/>
<circle cx="214.3" cy="533.4" r="3.75" fill="#ecebf6"/>
<circle cx="227.1" cy="533.4" r="5.25" fill="#dcb0ab"/>
<circle cx="239.91" cy="533.4" r="3" fill="#ffffff"/>
<circle cx="252.71" cy="533.4" r="5.25" fill="#bfbae0"/>
<circle cx="265.51" cy="533.4" r="5.25" fill="#dcb0ab"/>
<circle cx="278.31" cy="533.4" r="3" fill="#ffffff"/>
<circle cx="291.12" cy="533.4" r="4.5" fill="#e9cdc9"/>
<circle cx="303.92" cy="533.4" r="4.5" fill="#e9cdc9"/>
<circle cx="316.72" cy="533.4" r="6.6" fill="#bb6e66"/>
<circle cx="329.53" cy="533.4" r="3" fill="#ffffff"/>
<circle cx="342.33" cy="533.4" r="4.5" fill="#d9d6ee"/>
<circle cx="355.13" cy="533.4" r="3.15" fill="#e9cdc9"/>
<circle cx="367.94" cy="533.4" r="3.75" fill="#f4e6e4"/>
<circle cx="380.74" cy="533.4" r="6.6" fill="#bb6e66"/>
<circle cx="393.54" cy="533.4" r="5.25" fill="#dcb0ab"/>
<circle cx="406.35" cy="533.4" r="6.9" fill="#7d74be"/>
<circle cx="419.15" cy="533.4" r="3" fill="#ffffff"/>
<circle cx="431.95" cy="533.4" r="6" fill="#a098d0"/>
<circle cx="444.75" cy="533.4" r="3.75" fill="#ecebf6"/>
<circle cx="457.56" cy="533.4" r="3.75" fill="#ecebf6"/>
<circle cx="470.36" cy="533.4" r="3" fill="#ffffff"/>
<circle cx="483.16" cy="533.4" r="3" fill="#ffffff"/>
<circle cx="495.97" cy="533.4" r="3.75" fill="#f4e6e4"/>
<circle cx="508.77" cy="533.4" r="5.25" fill="#dcb0ab"/>
<circle cx="521.57" cy="533.4" r="3.75" fill="#f4e6e4"/>
<circle cx="534.38" cy="533.4" r="4.5" fill="#d9d6ee"/>
<circle cx="547.18" cy="533.4" r="3.75" fill="#f4e6e4"/>
<circle cx="559.98" cy="533.4" r="5.25" fill="#dcb0ab"/>
<circle cx="572.78" cy="533.4" r="4.5" fill="#e9cdc9"/>
<circle cx="585.59" cy="533.4" r="5.2" fill="#6058ae"/>
<circle cx="598.39" cy="533.4" r="6.9" fill="#7d74be"/>
<circle cx="611.19" cy="533.4" r="4.5" fill="#d9d6ee"/>
<circle cx="624" cy="533.4" r="6" fill="#cb8f89"/>
<circle cx="636.8" cy="533.4" r="3.75" fill="#ecebf6"/>
<circle cx="649.6" cy="533.4" r="4.5" fill="#e9cdc9"/>
<circle cx="662.4" cy="533.4" r="6.9" fill="#7d74be"/>
<circle cx="675.21" cy="533.4" r="6" fill="#a098d0"/>
<circle cx="688.01" cy="533.4" r="3.75" fill="#ecebf6"/>
<circle cx="700.81" cy="533.4" r="4.5" fill="#d9d6ee"/>
<circle cx="713.62" cy="533.4" r="4.5" fill="#e9cdc9"/>
<circle cx="726.42" cy="533.4" r="4.5" fill="#e9cdc9"/>
<circle cx="739.22" cy="533.4" r="6" fill="#cb8f89"/>
<circle cx="752.03" cy="533.4" r="6" fill="#cb8f89"/>
<circle cx="764.83" cy="533.4" r="5.25" fill="#dcb0ab"/>
<circle cx="777.63" cy="533.4" r="4.5" fill="#d9d6ee"/>
<circle cx="790.43" cy="533.4" r="5.25" fill="#bfbae0"/>
<circle cx="803.24" cy="533.4" r="6.9" fill="#7d74be"/>
<circle cx="816.04" cy="533.4" r="3.75" fill="#ecebf6"/>
<circle cx="828.84" cy="533.4" r="3.75" fill="#ecebf6"/>
<circle cx="841.65" cy="533.4" r="5.25" fill="#bfbae0"/>
<circle cx="854.45" cy="533.4" r="6" fill="#cb8f89"/>
<circle cx="867.25" cy="533.4" r="6.9" fill="#7d74be"/>
<circle cx="880.06" cy="533.4" r="5.25" fill="#bfbae0"/>
<circle cx="892.86" cy="533.4" r="4.5" fill="#d9d6ee"/>
<circle cx="905.66" cy="533.4" r="3" fill="#ffffff"/>
<circle cx="918.47" cy="533.4" r="6.6" fill="#bb6e66"/>
<circle cx="931.27" cy="533.4" r="6.6" fill="#bb6e66"/>
<circle cx="944.07" cy="533.4" r="5.25" fill="#bfbae0"/>
<circle cx="956.87" cy="533.4" r="4.5" fill="#e9cdc9"/>
<circle cx="969.68" cy="533.4" r="3" fill="#ffffff"/>
<circle cx="214.3" cy="550.2" r="3.75" fill="#ecebf6"/>
<circle cx="227.1" cy="550.2" r="5.25" fill="#dcb0ab"/>
<circle cx="239.91" cy="550.2" r="3" fill="#ffffff"/>
<circle cx="252.71" cy="550.2" r="6" fill="#a098d0"/>
<circle cx="265.51" cy="550.2" r="3.75" fill="#f4e6e4"/>
<circle cx="278.31" cy="550.2" r="6" fill="#cb8f89"/>
<circle cx="291.12" cy="550.2" r="3" fill="#ffffff"/>
<circle cx="303.92" cy="550.2" r="5.25" fill="#dcb0ab"/>
<circle cx="316.72" cy="550.2" r="6.6" fill="#bb6e66"/>
<circle cx="329.53" cy="550.2" r="3" fill="#ffffff"/>
<circle cx="342.33" cy="550.2" r="5.25" fill="#bfbae0"/>
<circle cx="355.13" cy="550.2" r="3.67" fill="#bfbae0"/>
<circle cx="367.94" cy="550.2" r="3" fill="#ffffff"/>
<circle cx="380.74" cy="550.2" r="5.25" fill="#bfbae0"/>
<circle cx="393.54" cy="550.2" r="4.5" fill="#e9cdc9"/>
<circle cx="406.35" cy="550.2" r="6" fill="#a098d0"/>
<circle cx="419.15" cy="550.2" r="3.75" fill="#ecebf6"/>
<circle cx="431.95" cy="550.2" r="6.5" fill="#6058ae"/>
<circle cx="444.75" cy="550.2" r="5.25" fill="#dcb0ab"/>
<circle cx="457.56" cy="550.2" r="5.25" fill="#bfbae0"/>
<circle cx="470.36" cy="550.2" r="6.9" fill="#7d74be"/>
<circle cx="483.16" cy="550.2" r="4.5" fill="#e9cdc9"/>
<circle cx="495.97" cy="550.2" r="5.25" fill="#dcb0ab"/>
<circle cx="508.77" cy="550.2" r="3.75" fill="#ecebf6"/>
<circle cx="521.57" cy="550.2" r="5.25" fill="#dcb0ab"/>
<circle cx="534.38" cy="550.2" r="3.75" fill="#f4e6e4"/>
<circle cx="547.18" cy="550.2" r="6" fill="#cb8f89"/>
<circle cx="559.98" cy="550.2" r="5.25" fill="#dcb0ab"/>
<circle cx="572.78" cy="550.2" r="6.6" fill="#bb6e66"/>
<circle cx="585.59" cy="550.2" r="5.2" fill="#6058ae"/>
<circle cx="598.39" cy="550.2" r="3.75" fill="#ecebf6"/>
<circle cx="611.19" cy="550.2" r="3.75" fill="#f4e6e4"/>
<circle cx="624" cy="550.2" r="6" fill="#cb8f89"/>
<circle cx="636.8" cy="550.2" r="6.9" fill="#7d74be"/>
<circle cx="649.6" cy="550.2" r="5.25" fill="#bfbae0"/>
<circle cx="662.4" cy="550.2" r="6.9" fill="#7d74be"/>
<circle cx="675.21" cy="550.2" r="6.5" fill="#6058ae"/>
<circle cx="688.01" cy="550.2" r="5.25" fill="#bfbae0"/>
<circle cx="700.81" cy="550.2" r="6.9" fill="#7d74be"/>
<circle cx="713.62" cy="550.2" r="3.75" fill="#ecebf6"/>
<circle cx="726.42" cy="550.2" r="3" fill="#ffffff"/>
<circle cx="739.22" cy="550.2" r="6.6" fill="#bb6e66"/>
<circle cx="752.03" cy="550.2" r="6.6" fill="#bb6e66"/>
<circle cx="764.83" cy="550.2" r="5.25" fill="#dcb0ab"/>
<circle cx="777.63" cy="550.2" r="3.75" fill="#f4e6e4"/>
<circle cx="790.43" cy="550.2" r="4.5" fill="#d9d6ee"/>
<circle cx="803.24" cy="550.2" r="6" fill="#a098d0"/>
<circle cx="816.04" cy="550.2" r="4.5" fill="#d9d6ee"/>
<circle cx="828.84" cy="550.2" r="6.9" fill="#7d74be"/>
<circle cx="841.65" cy="550.2" r="6.9" fill="#7d74be"/>
<circle cx="854.45" cy="550.2" r="6" fill="#cb8f89"/>
<circle cx="867.25" cy="550.2" r="6.5" fill="#6058ae"/>
<circle cx="880.06" cy="550.2" r="5.25" fill="#bfbae0"/>
<circle cx="892.86" cy="550.2" r="3.75" fill="#ecebf6"/>
<circle cx="905.66" cy="550.2" r="3" fill="#ffffff"/>
<circle cx="918.47" cy="550.2" r="5.25" fill="#dcb0ab"/>
<circle cx="931.27" cy="550.2" r="4.5" fill="#e9cdc9"/>
<circle cx="944.07" cy="550.2" r="3" fill="#ffffff"/>
<circle cx="956.87" cy="550.2" r="3" fill="#ffffff"/>
<circle cx="969.68" cy="550.2" r="3" fill="#ffffff"/>
<circle cx="214.3" cy="567" r="3" fill="#ffffff"/>
<circle cx="227.1" cy="567" r="3.75" fill="#f4e6e4"/>
<circle cx="239.91" cy="567" r="3" fill="#ffffff"/>
<circle cx="252.71" cy="567" r="3.75" fill="#f4e6e4"/>
<circle cx="265.51" cy="567" r="4.5" fill="#e9cdc9"/>
<circle cx="278.31" cy="567" r="4.5" fill="#e9cdc9"/>
<circle cx="291.12" cy="567" r="6" fill="#a098d0"/>
<circle cx="303.92" cy="567" r="3" fill="#ffffff"/>
<circle cx="316.72" cy="567" r="3" fill="#ffffff"/>
<circle cx="329.53" cy="567" r="3" fill="#ffffff"/>
<circle cx="342.33" cy="567" r="6" fill="#a098d0"/>
<circle cx="355.13" cy="567" r="3.67" fill="#dcb0ab"/>
<circle cx="367.94" cy="567" r="3" fill="#ffffff"/>
<circle cx="380.74" cy="567" r="3.75" fill="#ecebf6"/>
<circle cx="393.54" cy="567" r="6" fill="#cb8f89"/>
<circle cx="406.35" cy="567" r="5.25" fill="#bfbae0"/>
<circle cx="419.15" cy="567" r="5.25" fill="#dcb0ab"/>
<circle cx="431.95" cy="567" r="5.25" fill="#bfbae0"/>
<circle cx="444.75" cy="567" r="3.75" fill="#f4e6e4"/>
<circle cx="457.56" cy="567" r="5.25" fill="#bfbae0"/>
<circle cx="470.36" cy="567" r="6" fill="#a098d0"/>
<circle cx="483.16" cy="567" r="4.5" fill="#e9cdc9"/>
<circle cx="495.97" cy="567" r="3" fill="#ffffff"/>
<circle cx="508.77" cy="567" r="4.5" fill="#e9cdc9"/>
<circle cx="521.57" cy="567" r="3" fill="#ffffff"/>
<circle cx="534.38" cy="567" r="3.75" fill="#f4e6e4"/>
<circle cx="547.18" cy="567" r="3.75" fill="#f4e6e4"/>
<circle cx="559.98" cy="567" r="3" fill="#ffffff"/>
<circle cx="572.78" cy="567" r="4.5" fill="#e9cdc9"/>
<circle cx="585.59" cy="567" r="5.2" fill="#6058ae"/>
<circle cx="598.39" cy="567" r="4.5" fill="#e9cdc9"/>
<circle cx="611.19" cy="567" r="4.5" fill="#d9d6ee"/>
<circle cx="624" cy="567" r="3.75" fill="#f4e6e4"/>
<circle cx="636.8" cy="567" r="3.75" fill="#ecebf6"/>
<circle cx="649.6" cy="567" r="4.5" fill="#e9cdc9"/>
<circle cx="662.4" cy="567" r="3.75" fill="#ecebf6"/>
<circle cx="675.21" cy="567" r="4.5" fill="#d9d6ee"/>
<circle cx="688.01" cy="567" r="3.75" fill="#ecebf6"/>
<circle cx="700.81" cy="567" r="3.75" fill="#ecebf6"/>
<circle cx="713.62" cy="567" r="6" fill="#a098d0"/>
<circle cx="726.42" cy="567" r="6" fill="#a098d0"/>
<circle cx="739.22" cy="567" r="3.75" fill="#f4e6e4"/>
<circle cx="752.03" cy="567" r="3" fill="#ffffff"/>
<circle cx="764.83" cy="567" r="4.5" fill="#d9d6ee"/>
<circle cx="777.63" cy="567" r="3.75" fill="#ecebf6"/>
<circle cx="790.43" cy="567" r="3.75" fill="#ecebf6"/>
<circle cx="803.24" cy="567" r="3.75" fill="#ecebf6"/>
<circle cx="816.04" cy="567" r="3" fill="#ffffff"/>
<circle cx="828.84" cy="567" r="3.75" fill="#ecebf6"/>
<circle cx="841.65" cy="567" r="4.5" fill="#d9d6ee"/>
<circle cx="854.45" cy="567" r="4.5" fill="#d9d6ee"/>
<circle cx="867.25" cy="567" r="3.75" fill="#ecebf6"/>
<circle cx="880.06" cy="567" r="6" fill="#a098d0"/>
<circle cx="892.86" cy="567" r="4.5" fill="#e9cdc9"/>
<circle cx="905.66" cy="567" r="3" fill="#ffffff"/>
<circle cx="918.47" cy="567" r="3.75" fill="#ecebf6"/>
<circle cx="931.27" cy="567" r="3.75" fill="#f4e6e4"/>
<circle cx="944.07" cy="567" r="4.5" fill="#d9d6ee"/>
<circle cx="956.87" cy="567" r="4.5" fill="#e9cdc9"/>
<circle cx="969.68" cy="567" r="3.75" fill="#f4e6e4"/>
<circle cx="214.3" cy="583.8" r="4.5" fill="#d9d6ee"/>
<circle cx="227.1" cy="583.8" r="5.25" fill="#dcb0ab"/>
<circle cx="239.91" cy="583.8" r="3" fill="#ffffff"/>
<circle cx="252.71" cy="583.8" r="5.25" fill="#bfbae0"/>
<circle cx="265.51" cy="583.8" r="4.5" fill="#e9cdc9"/>
<circle cx="278.31" cy="583.8" r="6" fill="#cb8f89"/>
<circle cx="291.12" cy="583.8" r="3.75" fill="#ecebf6"/>
<circle cx="303.92" cy="583.8" r="5.25" fill="#dcb0ab"/>
<circle cx="316.72" cy="583.8" r="6.6" fill="#bb6e66"/>
<circle cx="329.53" cy="583.8" r="3" fill="#ffffff"/>
<circle cx="342.33" cy="583.8" r="5.25" fill="#bfbae0"/>
<circle cx="355.13" cy="583.8" r="3.67" fill="#bfbae0"/>
<circle cx="367.94" cy="583.8" r="3.75" fill="#f4e6e4"/>
<circle cx="380.74" cy="583.8" r="3.75" fill="#ecebf6"/>
<circle cx="393.54" cy="583.8" r="4.5" fill="#e9cdc9"/>
<circle cx="406.35" cy="583.8" r="6" fill="#a098d0"/>
<circle cx="419.15" cy="583.8" r="3.75" fill="#ecebf6"/>
<circle cx="431.95" cy="583.8" r="6.9" fill="#7d74be"/>
<circle cx="444.75" cy="583.8" r="4.5" fill="#e9cdc9"/>
<circle cx="457.56" cy="583.8" r="5.25" fill="#bfbae0"/>
<circle cx="470.36" cy="583.8" r="5.25" fill="#bfbae0"/>
<circle cx="483.16" cy="583.8" r="5.25" fill="#dcb0ab"/>
<circle cx="495.97" cy="583.8" r="4.5" fill="#e9cdc9"/>
<circle cx="508.77" cy="583.8" r="3" fill="#ffffff"/>
<circle cx="521.57" cy="583.8" r="5.25" fill="#dcb0ab"/>
<circle cx="534.38" cy="583.8" r="3.75" fill="#f4e6e4"/>
<circle cx="547.18" cy="583.8" r="6" fill="#cb8f89"/>
<circle cx="559.98" cy="583.8" r="5.25" fill="#dcb0ab"/>
<circle cx="572.78" cy="583.8" r="6" fill="#cb8f89"/>
<circle cx="585.59" cy="583.8" r="5.2" fill="#6058ae"/>
<circle cx="598.39" cy="583.8" r="4.5" fill="#d9d6ee"/>
<circle cx="611.19" cy="583.8" r="3" fill="#ffffff"/>
<circle cx="624" cy="583.8" r="6" fill="#cb8f89"/>
<circle cx="636.8" cy="583.8" r="6.9" fill="#7d74be"/>
<circle cx="649.6" cy="583.8" r="3.75" fill="#ecebf6"/>
<circle cx="662.4" cy="583.8" r="6.5" fill="#6058ae"/>
<circle cx="675.21" cy="583.8" r="6.5" fill="#6058ae"/>
<circle cx="688.01" cy="583.8" r="4.5" fill="#d9d6ee"/>
<circle cx="700.81" cy="583.8" r="6" fill="#a098d0"/>
<circle cx="713.62" cy="583.8" r="3.75" fill="#ecebf6"/>
<circle cx="726.42" cy="583.8" r="3.75" fill="#ecebf6"/>
<circle cx="739.22" cy="583.8" r="6.6" fill="#bb6e66"/>
<circle cx="752.03" cy="583.8" r="6.6" fill="#bb6e66"/>
<circle cx="764.83" cy="583.8" r="5.25" fill="#dcb0ab"/>
<circle cx="777.63" cy="583.8" r="3" fill="#ffffff"/>
<circle cx="790.43" cy="583.8" r="5.25" fill="#bfbae0"/>
<circle cx="803.24" cy="583.8" r="6.9" fill="#7d74be"/>
<circle cx="816.04" cy="583.8" r="3.75" fill="#ecebf6"/>
<circle cx="828.84" cy="583.8" r="6" fill="#a098d0"/>
<circle cx="841.65" cy="583.8" r="6.9" fill="#7d74be"/>
<circle cx="854.45" cy="583.8" r="5.25" fill="#dcb0ab"/>
<circle cx="867.25" cy="583.8" r="6.5" fill="#6058ae"/>
<circle cx="880.06" cy="583.8" r="5.25" fill="#bfbae0"/>
<circle cx="892.86" cy="583.8" r="3.75" fill="#ecebf6"/>
<circle cx="905.66" cy="583.8" r="3" fill="#ffffff"/>
<circle cx="918.47" cy="583.8" r="5.25" fill="#dcb0ab"/>
<circle cx="931.27" cy="583.8" r="5.25" fill="#dcb0ab"/>
<circle cx="944.07" cy="583.8" r="3.75" fill="#ecebf6"/>
<circle cx="956.87" cy="583.8" r="3.75" fill="#f4e6e4"/>
<circle cx="969.68" cy="583.8" r="3" fill="#ffffff"/>
<circle cx="214.3" cy="600.6" r="3.75" fill="#ecebf6"/>
<circle cx="227.1" cy="600.6" r="3.75" fill="#ecebf6"/>
<circle cx="239.91" cy="600.6" r="3" fill="#ffffff"/>
<circle cx="252.71" cy="600.6" r="6" fill="#a098d0"/>
<circle cx="265.51" cy="600.6" r="3.75" fill="#ecebf6"/>
<circle cx="278.31" cy="600.6" r="3.75" fill="#f4e6e4"/>
<circle cx="291.12" cy="600.6" r="5.25" fill="#dcb0ab"/>
<circle cx="303.92" cy="600.6" r="5.25" fill="#dcb0ab"/>
<circle cx="316.72" cy="600.6" r="6.6" fill="#bb6e66"/>
<circle cx="329.53" cy="600.6" r="3" fill="#ffffff"/>
<circle cx="342.33" cy="600.6" r="5.25" fill="#bfbae0"/>
<circle cx="355.13" cy="600.6" r="4.55" fill="#6058ae"/>
<circle cx="367.94" cy="600.6" r="4.5" fill="#d9d6ee"/>
<circle cx="380.74" cy="600.6" r="3" fill="#ffffff"/>
<circle cx="393.54" cy="600.6" r="4.5" fill="#e9cdc9"/>
<circle cx="406.35" cy="600.6" r="4.5" fill="#d9d6ee"/>
<circle cx="419.15" cy="600.6" r="5.25" fill="#dcb0ab"/>
<circle cx="431.95" cy="600.6" r="5.25" fill="#bfbae0"/>
<circle cx="444.75" cy="600.6" r="3.75" fill="#f4e6e4"/>
<circle cx="457.56" cy="600.6" r="5.25" fill="#bfbae0"/>
<circle cx="470.36" cy="600.6" r="3" fill="#ffffff"/>
<circle cx="483.16" cy="600.6" r="3.75" fill="#ecebf6"/>
<circle cx="495.97" cy="600.6" r="4.5" fill="#e9cdc9"/>
<circle cx="508.77" cy="600.6" r="3" fill="#ffffff"/>
<circle cx="521.57" cy="600.6" r="4.5" fill="#e9cdc9"/>
<circle cx="534.38" cy="600.6" r="4.5" fill="#e9cdc9"/>
<circle cx="547.18" cy="600.6" r="5.25" fill="#dcb0ab"/>
<circle cx="559.98" cy="600.6" r="6" fill="#cb8f89"/>
<circle cx="572.78" cy="600.6" r="4.5" fill="#e9cdc9"/>
<circle cx="585.59" cy="600.6" r="4.2" fill="#bfbae0"/>
<circle cx="598.39" cy="600.6" r="6" fill="#a098d0"/>
<circle cx="611.19" cy="600.6" r="4.5" fill="#d9d6ee"/>
<circle cx="624" cy="600.6" r="6" fill="#cb8f89"/>
<circle cx="636.8" cy="600.6" r="6" fill="#a098d0"/>
<circle cx="649.6" cy="600.6" r="3.75" fill="#ecebf6"/>
<circle cx="662.4" cy="600.6" r="6.9" fill="#7d74be"/>
<circle cx="675.21" cy="600.6" r="6.9" fill="#7d74be"/>
<circle cx="688.01" cy="600.6" r="3.75" fill="#f4e6e4"/>
<circle cx="700.81" cy="600.6" r="5.25" fill="#bfbae0"/>
<circle cx="713.62" cy="600.6" r="3.75" fill="#f4e6e4"/>
<circle cx="726.42" cy="600.6" r="5.25" fill="#dcb0ab"/>
<circle cx="739.22" cy="600.6" r="6.6" fill="#bb6e66"/>
<circle cx="752.03" cy="600.6" r="6.6" fill="#bb6e66"/>
<circle cx="764.83" cy="600.6" r="6" fill="#cb8f89"/>
<circle cx="777.63" cy="600.6" r="3" fill="#ffffff"/>
<circle cx="790.43" cy="600.6" r="4.5" fill="#d9d6ee"/>
<circle cx="803.24" cy="600.6" r="6.9" fill="#7d74be"/>
<circle cx="816.04" cy="600.6" r="6" fill="#a098d0"/>
<circle cx="828.84" cy="600.6" r="3.75" fill="#ecebf6"/>
<circle cx="841.65" cy="600.6" r="4.5" fill="#d9d6ee"/>
<circle cx="854.45" cy="600.6" r="6.6" fill="#bb6e66"/>
<circle cx="867.25" cy="600.6" r="6.9" fill="#7d74be"/>
<circle cx="880.06" cy="600.6" r="5.25" fill="#bfbae0"/>
<circle cx="892.86" cy="600.6" r="5.25" fill="#bfbae0"/>
<circle cx="905.66" cy="600.6" r="3" fill="#ffffff"/>
<circle cx="918.47" cy="600.6" r="6" fill="#cb8f89"/>
<circle cx="931.27" cy="600.6" r="6.6" fill="#bb6e66"/>
<circle cx="944.07" cy="600.6" r="3.75" fill="#f4e6e4"/>
<circle cx="956.87" cy="600.6" r="5.25" fill="#dcb0ab"/>
<circle cx="969.68" cy="600.6" r="4.5" fill="#e9cdc9"/>
<circle cx="214.3" cy="617.4" r="4.5" fill="#d9d6ee"/>
<circle cx="227.1" cy="617.4" r="4.5" fill="#e9cdc9"/>
<circle cx="239.91" cy="617.4" r="3" fill="#ffffff"/>
<circle cx="252.71" cy="617.4" r="4.5" fill="#d9d6ee"/>
<circle cx="265.51" cy="617.4" r="4.5" fill="#d9d6ee"/>
<circle cx="278.31" cy="617.4" r="4.5" fill="#e9cdc9"/>
<circle cx="291.12" cy="617.4" r="3.75" fill="#f4e6e4"/>
<circle cx="303.92" cy="617.4" r="3" fill="#ffffff"/>
<circle cx="316.72" cy="617.4" r="4.5" fill="#e9cdc9"/>
<circle cx="329.53" cy="617.4" r="3" fill="#ffffff"/>
<circle cx="342.33" cy="617.4" r="3.75" fill="#f4e6e4"/>
<circle cx="355.13" cy="617.4" r="4.2" fill="#a098d0"/>
<circle cx="367.94" cy="617.4" r="3.75" fill="#ecebf6"/>
<circle cx="380.74" cy="617.4" r="6.9" fill="#7d74be"/>
<circle cx="393.54" cy="617.4" r="6.9" fill="#7d74be"/>
<circle cx="406.35" cy="617.4" r="3.75" fill="#f4e6e4"/>
<circle cx="419.15" cy="617.4" r="4.5" fill="#d9d6ee"/>
<circle cx="431.95" cy="617.4" r="5.25" fill="#bfbae0"/>
<circle cx="444.75" cy="617.4" r="3.75" fill="#f4e6e4"/>
<circle cx="457.56" cy="617.4" r="3" fill="#ffffff"/>
<circle cx="470.36" cy="617.4" r="6.9" fill="#7d74be"/>
<circle cx="483.16" cy="617.4" r="3" fill="#ffffff"/>
<circle cx="495.97" cy="617.4" r="4.5" fill="#e9cdc9"/>
<circle cx="508.77" cy="617.4" r="5.25" fill="#bfbae0"/>
<circle cx="521.57" cy="617.4" r="3.75" fill="#f4e6e4"/>
<circle cx="534.38" cy="617.4" r="3.75" fill="#ecebf6"/>
<circle cx="547.18" cy="617.4" r="4.5" fill="#e9cdc9"/>
<circle cx="559.98" cy="617.4" r="3" fill="#ffffff"/>
<circle cx="572.78" cy="617.4" r="3" fill="#ffffff"/>
<circle cx="585.59" cy="617.4" r="5.52" fill="#7d74be"/>
<circle cx="598.39" cy="617.4" r="4.5" fill="#e9cdc9"/>
<circle cx="611.19" cy="617.4" r="5.25" fill="#dcb0ab"/>
<circle cx="624" cy="617.4" r="5.25" fill="#bfbae0"/>
<circle cx="636.8" cy="617.4" r="4.5" fill="#d9d6ee"/>
<circle cx="649.6" cy="617.4" r="5.25" fill="#bfbae0"/>
<circle cx="662.4" cy="617.4" r="3" fill="#ffffff"/>
<circle cx="675.21" cy="617.4" r="3" fill="#ffffff"/>
<circle cx="688.01" cy="617.4" r="3.75" fill="#ecebf6"/>
<circle cx="700.81" cy="617.4" r="6" fill="#a098d0"/>
<circle cx="713.62" cy="617.4" r="4.5" fill="#d9d6ee"/>
<circle cx="726.42" cy="617.4" r="3" fill="#ffffff"/>
<circle cx="739.22" cy="617.4" r="4.5" fill="#e9cdc9"/>
<circle cx="752.03" cy="617.4" r="4.5" fill="#e9cdc9"/>
<circle cx="764.83" cy="617.4" r="3" fill="#ffffff"/>
<circle cx="777.63" cy="617.4" r="3.75" fill="#ecebf6"/>
<circle cx="790.43" cy="617.4" r="5.25" fill="#bfbae0"/>
<circle cx="803.24" cy="617.4" r="4.5" fill="#e9cdc9"/>
<circle cx="816.04" cy="617.4" r="3" fill="#ffffff"/>
<circle cx="828.84" cy="617.4" r="5.25" fill="#bfbae0"/>
<circle cx="841.65" cy="617.4" r="5.25" fill="#bfbae0"/>
<circle cx="854.45" cy="617.4" r="4.5" fill="#e9cdc9"/>
<circle cx="867.25" cy="617.4" r="3.75" fill="#ecebf6"/>
<circle cx="880.06" cy="617.4" r="6" fill="#cb8f89"/>
<circle cx="892.86" cy="617.4" r="3.75" fill="#f4e6e4"/>
<circle cx="905.66" cy="617.4" r="3" fill="#ffffff"/>
<circle cx="918.47" cy="617.4" r="3.75" fill="#f4e6e4"/>
<circle cx="931.27" cy="617.4" r="5.25" fill="#bfbae0"/>
<circle cx="944.07" cy="617.4" r="3.75" fill="#f4e6e4"/>
<circle cx="956.87" cy="617.4" r="4.5" fill="#d9d6ee"/>
<circle cx="969.68" cy="617.4" r="3" fill="#ffffff"/>
<circle cx="214.3" cy="634.2" r="7.02" fill="#6058ae"/>
<circle cx="227.1" cy="634.2" r="5.67" fill="#bfbae0"/>
<circle cx="239.91" cy="634.2" r="3.24" fill="#ffffff"/>
<circle cx="252.71" cy="634.2" r="5.67" fill="#dcb0ab"/>
<circle cx="265.51" cy="634.2" r="6.48" fill="#a098d0"/>
<circle cx="278.31" cy="634.2" r="6.48" fill="#a098d0"/>
<circle cx="291.12" cy="634.2" r="4.86" fill="#e9cdc9"/>
<circle cx="303.92" cy="634.2" r="7.45" fill="#7d74be"/>
<circle cx="316.72" cy="634.2" r="4.05" fill="#f4e6e4"/>
<circle cx="329.53" cy="634.2" r="3.24" fill="#ffffff"/>
<circle cx="342.33" cy="634.2" r="4.05" fill="#ecebf6"/>
<circle cx="355.13" cy="634.2" r="3.24" fill="#ffffff"/>
<circle cx="367.94" cy="634.2" r="6.48" fill="#a098d0"/>
<circle cx="380.74" cy="634.2" r="4.86" fill="#d9d6ee"/>
<circle cx="393.54" cy="634.2" r="7.02" fill="#6058ae"/>
<circle cx="406.35" cy="634.2" r="4.05" fill="#f4e6e4"/>
<circle cx="419.15" cy="634.2" r="6.48" fill="#cb8f89"/>
<circle cx="431.95" cy="634.2" r="4.05" fill="#f4e6e4"/>
<circle cx="444.75" cy="634.2" r="4.86" fill="#e9cdc9"/>
<circle cx="457.56" cy="634.2" r="4.86" fill="#d9d6ee"/>
<circle cx="470.36" cy="634.2" r="4.05" fill="#ecebf6"/>
<circle cx="483.16" cy="634.2" r="7.45" fill="#7d74be"/>
<circle cx="495.97" cy="634.2" r="5.67" fill="#bfbae0"/>
<circle cx="508.77" cy="634.2" r="6.48" fill="#a098d0"/>
<circle cx="521.57" cy="634.2" r="7.45" fill="#7d74be"/>
<circle cx="534.38" cy="634.2" r="4.05" fill="#ecebf6"/>
<circle cx="547.18" cy="634.2" r="3.24" fill="#ffffff"/>
<circle cx="559.98" cy="634.2" r="5.67" fill="#bfbae0"/>
<circle cx="572.78" cy="634.2" r="7.45" fill="#7d74be"/>
<circle cx="585.59" cy="634.2" r="7.45" fill="#7d74be"/>
<circle cx="598.39" cy="634.2" r="7.45" fill="#7d74be"/>
<circle cx="611.19" cy="634.2" r="4.05" fill="#f4e6e4"/>
<circle cx="624" cy="634.2" r="6.48" fill="#a098d0"/>
<circle cx="636.8" cy="634.2" r="4.86" fill="#e9cdc9"/>
<circle cx="649.6" cy="634.2" r="4.05" fill="#ecebf6"/>
<circle cx="662.4" cy="634.2" r="5.67" fill="#dcb0ab"/>
<circle cx="675.21" cy="634.2" r="5.67" fill="#dcb0ab"/>
<circle cx="688.01" cy="634.2" r="4.86" fill="#d9d6ee"/>
<circle cx="700.81" cy="634.2" r="4.86" fill="#d9d6ee"/>
<circle cx="713.62" cy="634.2" r="4.05" fill="#f4e6e4"/>
<circle cx="726.42" cy="634.2" r="4.86" fill="#e9cdc9"/>
<circle cx="739.22" cy="634.2" r="4.86" fill="#d9d6ee"/>
<circle cx="752.03" cy="634.2" r="4.05" fill="#ecebf6"/>
<circle cx="764.83" cy="634.2" r="5.67" fill="#bfbae0"/>
<circle cx="777.63" cy="634.2" r="6.48" fill="#a098d0"/>
<circle cx="790.43" cy="634.2" r="6.48" fill="#a098d0"/>
<circle cx="803.24" cy="634.2" r="4.86" fill="#e9cdc9"/>
<circle cx="816.04" cy="634.2" r="3.24" fill="#ffffff"/>
<circle cx="828.84" cy="634.2" r="4.86" fill="#e9cdc9"/>
<circle cx="841.65" cy="634.2" r="4.05" fill="#f4e6e4"/>
<circle cx="854.45" cy="634.2" r="4.05" fill="#f4e6e4"/>
<circle cx="867.25" cy="634.2" r="5.67" fill="#dcb0ab"/>
<circle cx="880.06" cy="634.2" r="5.67" fill="#dcb0ab"/>
<circle cx="892.86" cy="634.2" r="3.24" fill="#ffffff"/>
<circle cx="905.66" cy="634.2" r="3.24" fill="#ffffff"/>
<circle cx="918.47" cy="634.2" r="4.05" fill="#ecebf6"/>
<circle cx="931.27" cy="634.2" r="5.67" fill="#bfbae0"/>
<circle cx="944.07" cy="634.2" r="6.48" fill="#cb8f89"/>
<circle cx="956.87" cy="634.2" r="4.05" fill="#f4e6e4"/>
<circle cx="969.68" cy="634.2" r="5.67" fill="#bfbae0"/>
<circle cx="214.3" cy="651" r="5.67" fill="#bfbae0"/>
<circle cx="227.1" cy="651" r="4.86" fill="#d9d6ee"/>
<circle cx="239.91" cy="651" r="3.24" fill="#ffffff"/>
<circle cx="252.71" cy="651" r="4.86" fill="#e9cdc9"/>
<circle cx="265.51" cy="651" r="5.67" fill="#bfbae0"/>
<circle cx="278.31" cy="651" r="4.05" fill="#f4e6e4"/>
<circle cx="291.12" cy="651" r="3.24" fill="#ffffff"/>
<circle cx="303.92" cy="651" r="5.67" fill="#bfbae0"/>
<circle cx="316.72" cy="651" r="4.86" fill="#e9cdc9"/>
<circle cx="329.53" cy="651" r="3.24" fill="#ffffff"/>
<circle cx="342.33" cy="651" r="5.67" fill="#bfbae0"/>
<circle cx="355.13" cy="651" r="7.56" fill="#a04a44"/>
<circle cx="367.94" cy="651" r="3.24" fill="#ffffff"/>
<circle cx="380.74" cy="651" r="3.24" fill="#ffffff"/>
<circle cx="393.54" cy="651" r="4.86" fill="#d9d6ee"/>
<circle cx="406.35" cy="651" r="5.67" fill="#bfbae0"/>
<circle cx="419.15" cy="651" r="4.86" fill="#e9cdc9"/>
<circle cx="431.95" cy="651" r="4.86" fill="#d9d6ee"/>
<circle cx="444.75" cy="651" r="7.13" fill="#bb6e66"/>
<circle cx="457.56" cy="651" r="7.45" fill="#7d74be"/>
<circle cx="470.36" cy="651" r="7.45" fill="#7d74be"/>
<circle cx="483.16" cy="651" r="4.05" fill="#ecebf6"/>
<circle cx="495.97" cy="651" r="4.05" fill="#ecebf6"/>
<circle cx="508.77" cy="651" r="4.86" fill="#d9d6ee"/>
<circle cx="521.57" cy="651" r="5.67" fill="#bfbae0"/>
<circle cx="534.38" cy="651" r="3.24" fill="#ffffff"/>
<circle cx="547.18" cy="651" r="4.86" fill="#e9cdc9"/>
<circle cx="559.98" cy="651" r="5.67" fill="#bfbae0"/>
<circle cx="572.78" cy="651" r="4.05" fill="#ecebf6"/>
<circle cx="585.59" cy="651" r="7.45" fill="#7d74be"/>
<circle cx="598.39" cy="651" r="3.24" fill="#ffffff"/>
<circle cx="611.19" cy="651" r="3.24" fill="#ffffff"/>
<circle cx="624" cy="651" r="3.24" fill="#ffffff"/>
<circle cx="636.8" cy="651" r="4.05" fill="#ecebf6"/>
<circle cx="649.6" cy="651" r="3.24" fill="#ffffff"/>
<circle cx="662.4" cy="651" r="3.24" fill="#ffffff"/>
<circle cx="675.21" cy="651" r="4.86" fill="#d9d6ee"/>
<circle cx="688.01" cy="651" r="5.67" fill="#bfbae0"/>
<circle cx="700.81" cy="651" r="6.48" fill="#a098d0"/>
<circle cx="713.62" cy="651" r="3.24" fill="#ffffff"/>
<circle cx="726.42" cy="651" r="3.24" fill="#ffffff"/>
<circle cx="739.22" cy="651" r="4.05" fill="#ecebf6"/>
<circle cx="752.03" cy="651" r="3.24" fill="#ffffff"/>
<circle cx="764.83" cy="651" r="4.86" fill="#d9d6ee"/>
<circle cx="777.63" cy="651" r="6.48" fill="#a098d0"/>
<circle cx="790.43" cy="651" r="6.48" fill="#a098d0"/>
<circle cx="803.24" cy="651" r="4.05" fill="#f4e6e4"/>
<circle cx="816.04" cy="651" r="4.05" fill="#f4e6e4"/>
<circle cx="828.84" cy="651" r="4.86" fill="#d9d6ee"/>
<circle cx="841.65" cy="651" r="6.48" fill="#a098d0"/>
<circle cx="854.45" cy="651" r="4.05" fill="#f4e6e4"/>
<circle cx="867.25" cy="651" r="4.86" fill="#d9d6ee"/>
<circle cx="880.06" cy="651" r="5.67" fill="#dcb0ab"/>
<circle cx="892.86" cy="651" r="4.05" fill="#f4e6e4"/>
<circle cx="905.66" cy="651" r="3.24" fill="#ffffff"/>
<circle cx="918.47" cy="651" r="4.05" fill="#f4e6e4"/>
<circle cx="931.27" cy="651" r="4.86" fill="#d9d6ee"/>
<circle cx="944.07" cy="651" r="5.67" fill="#dcb0ab"/>
<circle cx="956.87" cy="651" r="4.05" fill="#f4e6e4"/>
<circle cx="969.68" cy="651" r="6.48" fill="#a098d0"/>
<circle cx="214.3" cy="667.8" r="5.67" fill="#bfbae0"/>
<circle cx="227.1" cy="667.8" r="5.67" fill="#bfbae0"/>
<circle cx="239.91" cy="667.8" r="3.24" fill="#ffffff"/>
<circle cx="252.71" cy="667.8" r="6.48" fill="#cb8f89"/>
<circle cx="265.51" cy="667.8" r="5.67" fill="#bfbae0"/>
<circle cx="278.31" cy="667.8" r="3.24" fill="#ffffff"/>
<circle cx="291.12" cy="667.8" r="4.05" fill="#ecebf6"/>
<circle cx="303.92" cy="667.8" r="5.67" fill="#bfbae0"/>
<circle cx="316.72" cy="667.8" r="4.86" fill="#e9cdc9"/>
<circle cx="329.53" cy="667.8" r="3.24" fill="#ffffff"/>
<circle cx="342.33" cy="667.8" r="5.67" fill="#bfbae0"/>
<circle cx="355.13" cy="667.8" r="8.91" fill="#8c2c2c"/>
<circle cx="367.94" cy="667.8" r="5.67" fill="#bfbae0"/>
<circle cx="380.74" cy="667.8" r="5.67" fill="#bfbae0"/>
<circle cx="393.54" cy="667.8" r="4.86" fill="#d9d6ee"/>
<circle cx="406.35" cy="667.8" r="3.24" fill="#ffffff"/>
<circle cx="419.15" cy="667.8" r="5.67" fill="#dcb0ab"/>
<circle cx="431.95" cy="667.8" r="4.05" fill="#f4e6e4"/>
<circle cx="444.75" cy="667.8" r="7.13" fill="#bb6e66"/>
<circle cx="457.56" cy="667.8" r="7.45" fill="#7d74be"/>
<circle cx="470.36" cy="667.8" r="5.67" fill="#bfbae0"/>
<circle cx="483.16" cy="667.8" r="4.86" fill="#d9d6ee"/>
<circle cx="495.97" cy="667.8" r="5.67" fill="#bfbae0"/>
<circle cx="508.77" cy="667.8" r="4.86" fill="#d9d6ee"/>
<circle cx="521.57" cy="667.8" r="6.48" fill="#a098d0"/>
<circle cx="534.38" cy="667.8" r="4.05" fill="#ecebf6"/>
<circle cx="547.18" cy="667.8" r="4.86" fill="#e9cdc9"/>
<circle cx="559.98" cy="667.8" r="7.45" fill="#7d74be"/>
<circle cx="572.78" cy="667.8" r="5.67" fill="#bfbae0"/>
<circle cx="585.59" cy="667.8" r="6.48" fill="#a098d0"/>
<circle cx="598.39" cy="667.8" r="4.05" fill="#ecebf6"/>
<circle cx="611.19" cy="667.8" r="4.86" fill="#e9cdc9"/>
<circle cx="624" cy="667.8" r="4.05" fill="#ecebf6"/>
<circle cx="636.8" cy="667.8" r="4.05" fill="#f4e6e4"/>
<circle cx="649.6" cy="667.8" r="4.05" fill="#ecebf6"/>
<circle cx="662.4" cy="667.8" r="5.67" fill="#dcb0ab"/>
<circle cx="675.21" cy="667.8" r="4.86" fill="#e9cdc9"/>
<circle cx="688.01" cy="667.8" r="5.67" fill="#bfbae0"/>
<circle cx="700.81" cy="667.8" r="4.86" fill="#d9d6ee"/>
<circle cx="713.62" cy="667.8" r="3.24" fill="#ffffff"/>
<circle cx="726.42" cy="667.8" r="4.05" fill="#ecebf6"/>
<circle cx="739.22" cy="667.8" r="7.45" fill="#7d74be"/>
<circle cx="752.03" cy="667.8" r="4.86" fill="#d9d6ee"/>
<circle cx="764.83" cy="667.8" r="6.48" fill="#a098d0"/>
<circle cx="777.63" cy="667.8" r="4.86" fill="#d9d6ee"/>
<circle cx="790.43" cy="667.8" r="5.67" fill="#bfbae0"/>
<circle cx="803.24" cy="667.8" r="6.48" fill="#cb8f89"/>
<circle cx="816.04" cy="667.8" r="4.86" fill="#e9cdc9"/>
<circle cx="828.84" cy="667.8" r="4.05" fill="#f4e6e4"/>
<circle cx="841.65" cy="667.8" r="4.86" fill="#d9d6ee"/>
<circle cx="854.45" cy="667.8" r="4.86" fill="#d9d6ee"/>
<circle cx="867.25" cy="667.8" r="4.05" fill="#f4e6e4"/>
<circle cx="880.06" cy="667.8" r="4.86" fill="#e9cdc9"/>
<circle cx="892.86" cy="667.8" r="5.67" fill="#dcb0ab"/>
<circle cx="905.66" cy="667.8" r="3.24" fill="#ffffff"/>
<circle cx="918.47" cy="667.8" r="4.05" fill="#ecebf6"/>
<circle cx="931.27" cy="667.8" r="5.67" fill="#bfbae0"/>
<circle cx="944.07" cy="667.8" r="6.48" fill="#cb8f89"/>
<circle cx="956.87" cy="667.8" r="3.24" fill="#ffffff"/>
<circle cx="969.68" cy="667.8" r="6.48" fill="#a098d0"/>
<circle cx="214.3" cy="684.6" r="5.67" fill="#bfbae0"/>
<circle cx="227.1" cy="684.6" r="4.86" fill="#d9d6ee"/>
<circle cx="239.91" cy="684.6" r="3.24" fill="#ffffff"/>
<circle cx="252.71" cy="684.6" r="4.86" fill="#e9cdc9"/>
<circle cx="265.51" cy="684.6" r="7.45" fill="#7d74be"/>
<circle cx="278.31" cy="684.6" r="3.24" fill="#ffffff"/>
<circle cx="291.12" cy="684.6" r="4.05" fill="#f4e6e4"/>
<circle cx="303.92" cy="684.6" r="4.86" fill="#d9d6ee"/>
<circle cx="316.72" cy="684.6" r="6.48" fill="#cb8f89"/>
<circle cx="329.53" cy="684.6" r="3.24" fill="#ffffff"/>
<circle cx="342.33" cy="684.6" r="4.86" fill="#d9d6ee"/>
<circle cx="355.13" cy="684.6" r="4.05" fill="#f4e6e4"/>
<circle cx="367.94" cy="684.6" r="3.24" fill="#ffffff"/>
<circle cx="380.74" cy="684.6" r="5.67" fill="#bfbae0"/>
<circle cx="393.54" cy="684.6" r="7.13" fill="#bb6e66"/>
<circle cx="406.35" cy="684.6" r="6.48" fill="#cb8f89"/>
<circle cx="419.15" cy="684.6" r="4.86" fill="#e9cdc9"/>
<circle cx="431.95" cy="684.6" r="4.86" fill="#e9cdc9"/>
<circle cx="444.75" cy="684.6" r="6.48" fill="#cb8f89"/>
<circle cx="457.56" cy="684.6" r="6.48" fill="#a098d0"/>
<circle cx="470.36" cy="684.6" r="4.05" fill="#ecebf6"/>
<circle cx="483.16" cy="684.6" r="5.67" fill="#bfbae0"/>
<circle cx="495.97" cy="684.6" r="5.67" fill="#bfbae0"/>
<circle cx="508.77" cy="684.6" r="5.67" fill="#bfbae0"/>
<circle cx="521.57" cy="684.6" r="5.67" fill="#bfbae0"/>
<circle cx="534.38" cy="684.6" r="4.05" fill="#f4e6e4"/>
<circle cx="547.18" cy="684.6" r="6.48" fill="#cb8f89"/>
<circle cx="559.98" cy="684.6" r="6.48" fill="#a098d0"/>
<circle cx="572.78" cy="684.6" r="6.48" fill="#a098d0"/>
<circle cx="585.59" cy="684.6" r="5.67" fill="#bfbae0"/>
<circle cx="598.39" cy="684.6" r="4.05" fill="#ecebf6"/>
<circle cx="611.19" cy="684.6" r="5.67" fill="#dcb0ab"/>
<circle cx="624" cy="684.6" r="3.24" fill="#ffffff"/>
<circle cx="636.8" cy="684.6" r="4.05" fill="#f4e6e4"/>
<circle cx="649.6" cy="684.6" r="4.05" fill="#ecebf6"/>
<circle cx="662.4" cy="684.6" r="7.13" fill="#bb6e66"/>
<circle cx="675.21" cy="684.6" r="5.67" fill="#dcb0ab"/>
<circle cx="688.01" cy="684.6" r="3.24" fill="#ffffff"/>
<circle cx="700.81" cy="684.6" r="4.05" fill="#f4e6e4"/>
<circle cx="713.62" cy="684.6" r="4.05" fill="#f4e6e4"/>
<circle cx="726.42" cy="684.6" r="4.05" fill="#ecebf6"/>
<circle cx="739.22" cy="684.6" r="5.67" fill="#bfbae0"/>
<circle cx="752.03" cy="684.6" r="3.24" fill="#ffffff"/>
<circle cx="764.83" cy="684.6" r="4.05" fill="#ecebf6"/>
<circle cx="777.63" cy="684.6" r="3.24" fill="#ffffff"/>
<circle cx="790.43" cy="684.6" r="4.86" fill="#d9d6ee"/>
<circle cx="803.24" cy="684.6" r="5.67" fill="#dcb0ab"/>
<circle cx="816.04" cy="684.6" r="4.86" fill="#d9d6ee"/>
<circle cx="828.84" cy="684.6" r="6.48" fill="#cb8f89"/>
<circle cx="841.65" cy="684.6" r="4.05" fill="#f4e6e4"/>
<circle cx="854.45" cy="684.6" r="4.05" fill="#f4e6e4"/>
<circle cx="867.25" cy="684.6" r="4.86" fill="#e9cdc9"/>
<circle cx="880.06" cy="684.6" r="4.05" fill="#f4e6e4"/>
<circle cx="892.86" cy="684.6" r="7.13" fill="#bb6e66"/>
<circle cx="905.66" cy="684.6" r="3.24" fill="#ffffff"/>
<circle cx="918.47" cy="684.6" r="4.86" fill="#d9d6ee"/>
<circle cx="931.27" cy="684.6" r="3.24" fill="#ffffff"/>
<circle cx="944.07" cy="684.6" r="6.48" fill="#cb8f89"/>
<circle cx="956.87" cy="684.6" r="4.86" fill="#d9d6ee"/>
<circle cx="969.68" cy="684.6" r="5.67" fill="#bfbae0"/>
<circle cx="214.3" cy="701.4" r="6.48" fill="#a098d0"/>
<circle cx="227.1" cy="701.4" r="4.86" fill="#d9d6ee"/>
<circle cx="239.91" cy="701.4" r="3.24" fill="#ffffff"/>
<circle cx="252.71" cy="701.4" r="4.86" fill="#e9cdc9"/>
<circle cx="265.51" cy="701.4" r="5.67" fill="#bfbae0"/>
<circle cx="278.31" cy="701.4" r="4.05" fill="#f4e6e4"/>
<circle cx="291.12" cy="701.4" r="3.24" fill="#ffffff"/>
<circle cx="303.92" cy="701.4" r="5.67" fill="#bfbae0"/>
<circle cx="316.72" cy="701.4" r="5.67" fill="#dcb0ab"/>
<circle cx="329.53" cy="701.4" r="3.24" fill="#ffffff"/>
<circle cx="342.33" cy="701.4" r="5.67" fill="#bfbae0"/>
<circle cx="355.13" cy="701.4" r="7.56" fill="#a04a44"/>
<circle cx="367.94" cy="701.4" r="4.05" fill="#ecebf6"/>
<circle cx="380.74" cy="701.4" r="4.86" fill="#d9d6ee"/>
<circle cx="393.54" cy="701.4" r="6.48" fill="#a098d0"/>
<circle cx="406.35" cy="701.4" r="5.67" fill="#bfbae0"/>
<circle cx="419.15" cy="701.4" r="5.67" fill="#dcb0ab"/>
<circle cx="431.95" cy="701.4" r="5.67" fill="#bfbae0"/>
<circle cx="444.75" cy="701.4" r="7.13" fill="#bb6e66"/>
<circle cx="457.56" cy="701.4" r="7.45" fill="#7d74be"/>
<circle cx="470.36" cy="701.4" r="7.45" fill="#7d74be"/>
<circle cx="483.16" cy="701.4" r="4.86" fill="#d9d6ee"/>
<circle cx="495.97" cy="701.4" r="4.05" fill="#ecebf6"/>
<circle cx="508.77" cy="701.4" r="5.67" fill="#bfbae0"/>
<circle cx="521.57" cy="701.4" r="6.48" fill="#a098d0"/>
<circle cx="534.38" cy="701.4" r="3.24" fill="#ffffff"/>
<circle cx="547.18" cy="701.4" r="4.86" fill="#e9cdc9"/>
<circle cx="559.98" cy="701.4" r="6.48" fill="#a098d0"/>
<circle cx="572.78" cy="701.4" r="4.05" fill="#ecebf6"/>
<circle cx="585.59" cy="701.4" r="7.45" fill="#7d74be"/>
<circle cx="598.39" cy="701.4" r="4.05" fill="#ecebf6"/>
<circle cx="611.19" cy="701.4" r="4.05" fill="#f4e6e4"/>
<circle cx="624" cy="701.4" r="3.24" fill="#ffffff"/>
<circle cx="636.8" cy="701.4" r="4.05" fill="#ecebf6"/>
<circle cx="649.6" cy="701.4" r="4.05" fill="#ecebf6"/>
<circle cx="662.4" cy="701.4" r="3.24" fill="#ffffff"/>
<circle cx="675.21" cy="701.4" r="4.86" fill="#d9d6ee"/>
<circle cx="688.01" cy="701.4" r="5.67" fill="#bfbae0"/>
<circle cx="700.81" cy="701.4" r="6.48" fill="#a098d0"/>
<circle cx="713.62" cy="701.4" r="4.05" fill="#ecebf6"/>
<circle cx="726.42" cy="701.4" r="3.24" fill="#ffffff"/>
<circle cx="739.22" cy="701.4" r="4.05" fill="#ecebf6"/>
<circle cx="752.03" cy="701.4" r="3.24" fill="#ffffff"/>
<circle cx="764.83" cy="701.4" r="5.67" fill="#bfbae0"/>
<circle cx="777.63" cy="701.4" r="6.48" fill="#a098d0"/>
<circle cx="790.43" cy="701.4" r="7.45" fill="#7d74be"/>
<circle cx="803.24" cy="701.4" r="4.05" fill="#f4e6e4"/>
<circle cx="816.04" cy="701.4" r="4.05" fill="#f4e6e4"/>
<circle cx="828.84" cy="701.4" r="4.86" fill="#d9d6ee"/>
<circle cx="841.65" cy="701.4" r="6.48" fill="#a098d0"/>
<circle cx="854.45" cy="701.4" r="3.24" fill="#ffffff"/>
<circle cx="867.25" cy="701.4" r="4.86" fill="#d9d6ee"/>
<circle cx="880.06" cy="701.4" r="5.67" fill="#dcb0ab"/>
<circle cx="892.86" cy="701.4" r="4.05" fill="#f4e6e4"/>
<circle cx="905.66" cy="701.4" r="3.24" fill="#ffffff"/>
<circle cx="918.47" cy="701.4" r="3.24" fill="#ffffff"/>
<circle cx="931.27" cy="701.4" r="5.67" fill="#bfbae0"/>
<circle cx="944.07" cy="701.4" r="5.67" fill="#dcb0ab"/>
<circle cx="956.87" cy="701.4" r="4.05" fill="#f4e6e4"/>
<circle cx="969.68" cy="701.4" r="6.48" fill="#a098d0"/>
<circle cx="214.3" cy="718.2" r="3.75" fill="#f4e6e4"/>
<circle cx="227.1" cy="718.2" r="6.5" fill="#6058ae"/>
<circle cx="239.91" cy="718.2" r="3" fill="#ffffff"/>
<circle cx="252.71" cy="718.2" r="6.6" fill="#bb6e66"/>
<circle cx="265.51" cy="718.2" r="4.5" fill="#d9d6ee"/>
<circle cx="278.31" cy="718.2" r="3.75" fill="#ecebf6"/>
<circle cx="291.12" cy="718.2" r="4.5" fill="#e9cdc9"/>
<circle cx="303.92" cy="718.2" r="5.25" fill="#bfbae0"/>
<circle cx="316.72" cy="718.2" r="4.5" fill="#e9cdc9"/>
<circle cx="329.53" cy="718.2" r="3" fill="#ffffff"/>
<circle cx="342.33" cy="718.2" r="3.75" fill="#f4e6e4"/>
<circle cx="355.13" cy="718.2" r="7.25" fill="#892c2c"/>
<circle cx="367.94" cy="718.2" r="6.5" fill="#6058ae"/>
<circle cx="380.74" cy="718.2" r="3.75" fill="#f4e6e4"/>
<circle cx="393.54" cy="718.2" r="6.5" fill="#6058ae"/>
<circle cx="406.35" cy="718.2" r="5.25" fill="#bfbae0"/>
<circle cx="419.15" cy="718.2" r="3.75" fill="#f4e6e4"/>
<circle cx="431.95" cy="718.2" r="6" fill="#cb8f89"/>
<circle cx="444.75" cy="718.2" r="3" fill="#ffffff"/>
<circle cx="457.56" cy="718.2" r="3" fill="#ffffff"/>
<circle cx="470.36" cy="718.2" r="3" fill="#ffffff"/>
<circle cx="483.16" cy="718.2" r="3.75" fill="#ecebf6"/>
<circle cx="495.97" cy="718.2" r="3.75" fill="#ecebf6"/>
<circle cx="508.77" cy="718.2" r="5.25" fill="#bfbae0"/>
<circle cx="521.57" cy="718.2" r="4.5" fill="#d9d6ee"/>
<circle cx="534.38" cy="718.2" r="5.25" fill="#bfbae0"/>
<circle cx="547.18" cy="718.2" r="5.25" fill="#bfbae0"/>
<circle cx="559.98" cy="718.2" r="4.5" fill="#d9d6ee"/>
<circle cx="572.78" cy="718.2" r="6" fill="#a098d0"/>
<circle cx="585.59" cy="718.2" r="3" fill="#ffffff"/>
<circle cx="598.39" cy="718.2" r="4.5" fill="#d9d6ee"/>
<circle cx="611.19" cy="718.2" r="3.75" fill="#f4e6e4"/>
<circle cx="624" cy="718.2" r="3.75" fill="#f4e6e4"/>
<circle cx="636.8" cy="718.2" r="5.25" fill="#dcb0ab"/>
<circle cx="649.6" cy="718.2" r="3" fill="#ffffff"/>
<circle cx="662.4" cy="718.2" r="4.5" fill="#e9cdc9"/>
<circle cx="675.21" cy="718.2" r="6" fill="#cb8f89"/>
<circle cx="688.01" cy="718.2" r="6.6" fill="#bb6e66"/>
<circle cx="700.81" cy="718.2" r="3.75" fill="#ecebf6"/>
<circle cx="713.62" cy="718.2" r="5.25" fill="#dcb0ab"/>
<circle cx="726.42" cy="718.2" r="5.25" fill="#dcb0ab"/>
<circle cx="739.22" cy="718.2" r="5.25" fill="#bfbae0"/>
<circle cx="752.03" cy="718.2" r="3.75" fill="#ecebf6"/>
<circle cx="764.83" cy="718.2" r="5.25" fill="#bfbae0"/>
<circle cx="777.63" cy="718.2" r="3.75" fill="#f4e6e4"/>
<circle cx="790.43" cy="718.2" r="4.5" fill="#e9cdc9"/>
<circle cx="803.24" cy="718.2" r="6" fill="#cb8f89"/>
<circle cx="816.04" cy="718.2" r="3.75" fill="#f4e6e4"/>
<circle cx="828.84" cy="718.2" r="3.75" fill="#ecebf6"/>
<circle cx="841.65" cy="718.2" r="3.75" fill="#f4e6e4"/>
<circle cx="854.45" cy="718.2" r="3" fill="#ffffff"/>
<circle cx="867.25" cy="718.2" r="4.5" fill="#e9cdc9"/>
<circle cx="880.06" cy="718.2" r="5.25" fill="#dcb0ab"/>
<circle cx="892.86" cy="718.2" r="5.25" fill="#bfbae0"/>
<circle cx="905.66" cy="718.2" r="3" fill="#ffffff"/>
<circle cx="918.47" cy="718.2" r="3" fill="#ffffff"/>
<circle cx="931.27" cy="718.2" r="5.25" fill="#bfbae0"/>
<circle cx="944.07" cy="718.2" r="6" fill="#cb8f89"/>
<circle cx="956.87" cy="718.2" r="3" fill="#ffffff"/>
<circle cx="969.68" cy="718.2" r="6" fill="#a098d0"/>
<circle cx="214.3" cy="735" r="3" fill="#ffffff"/>
<circle cx="227.1" cy="735" r="5.25" fill="#dcb0ab"/>
<circle cx="239.91" cy="735" r="3" fill="#ffffff"/>
<circle cx="252.71" cy="735" r="6" fill="#a098d0"/>
<circle cx="265.51" cy="735" r="3.75" fill="#f4e6e4"/>
<circle cx="278.31" cy="735" r="4.5" fill="#d9d6ee"/>
<circle cx="291.12" cy="735" r="4.5" fill="#e9cdc9"/>
<circle cx="303.92" cy="735" r="4.5" fill="#e9cdc9"/>
<circle cx="316.72" cy="735" r="5.25" fill="#dcb0ab"/>
<circle cx="329.53" cy="735" r="3" fill="#ffffff"/>
<circle cx="342.33" cy="735" r="4.5" fill="#e9cdc9"/>
<circle cx="355.13" cy="735" r="7" fill="#3c3ca0"/>
<circle cx="367.94" cy="735" r="4.5" fill="#e9cdc9"/>
<circle cx="380.74" cy="735" r="3.75" fill="#f4e6e4"/>
<circle cx="393.54" cy="735" r="4.5" fill="#d9d6ee"/>
<circle cx="406.35" cy="735" r="3.75" fill="#ecebf6"/>
<circle cx="419.15" cy="735" r="6" fill="#a098d0"/>
<circle cx="431.95" cy="735" r="4.5" fill="#d9d6ee"/>
<circle cx="444.75" cy="735" r="6.9" fill="#7d74be"/>
<circle cx="457.56" cy="735" r="4.5" fill="#e9cdc9"/>
<circle cx="470.36" cy="735" r="3" fill="#ffffff"/>
<circle cx="483.16" cy="735" r="3.75" fill="#f4e6e4"/>
<circle cx="495.97" cy="735" r="4.5" fill="#e9cdc9"/>
<circle cx="508.77" cy="735" r="3" fill="#ffffff"/>
<circle cx="521.57" cy="735" r="4.5" fill="#e9cdc9"/>
<circle cx="534.38" cy="735" r="5.25" fill="#bfbae0"/>
<circle cx="547.18" cy="735" r="4.5" fill="#d9d6ee"/>
<circle cx="559.98" cy="735" r="5.25" fill="#dcb0ab"/>
<circle cx="572.78" cy="735" r="4.5" fill="#e9cdc9"/>
<circle cx="585.59" cy="735" r="5.25" fill="#bfbae0"/>
<circle cx="598.39" cy="735" r="6" fill="#a098d0"/>
<circle cx="611.19" cy="735" r="4.5" fill="#d9d6ee"/>
<circle cx="624" cy="735" r="3.75" fill="#ecebf6"/>
<circle cx="636.8" cy="735" r="4.5" fill="#d9d6ee"/>
<circle cx="649.6" cy="735" r="3.75" fill="#ecebf6"/>
<circle cx="662.4" cy="735" r="6" fill="#a098d0"/>
<circle cx="675.21" cy="735" r="3.75" fill="#ecebf6"/>
<circle cx="688.01" cy="735" r="3.75" fill="#f4e6e4"/>
<circle cx="700.81" cy="735" r="5.25" fill="#bfbae0"/>
<circle cx="713.62" cy="735" r="4.5" fill="#e9cdc9"/>
<circle cx="726.42" cy="735" r="7" fill="#a04a44"/>
<circle cx="739.22" cy="735" r="5.25" fill="#dcb0ab"/>
<circle cx="752.03" cy="735" r="5.25" fill="#dcb0ab"/>
<circle cx="764.83" cy="735" r="5.25" fill="#dcb0ab"/>
<circle cx="777.63" cy="735" r="5.25" fill="#bfbae0"/>
<circle cx="790.43" cy="735" r="3.75" fill="#ecebf6"/>
<circle cx="803.24" cy="735" r="6.9" fill="#7d74be"/>
<circle cx="816.04" cy="735" r="3.75" fill="#f4e6e4"/>
<circle cx="828.84" cy="735" r="4.5" fill="#d9d6ee"/>
<circle cx="841.65" cy="735" r="3.75" fill="#ecebf6"/>
<circle cx="854.45" cy="735" r="6" fill="#cb8f89"/>
<circle cx="867.25" cy="735" r="4.5" fill="#d9d6ee"/>
<circle cx="880.06" cy="735" r="3.75" fill="#f4e6e4"/>
<circle cx="892.86" cy="735" r="6" fill="#a098d0"/>
<circle cx="905.66" cy="735" r="3" fill="#ffffff"/>
<circle cx="918.47" cy="735" r="5.25" fill="#dcb0ab"/>
<circle cx="931.27" cy="735" r="6" fill="#cb8f89"/>
<circle cx="944.07" cy="735" r="3" fill="#ffffff"/>
<circle cx="956.87" cy="735" r="4.5" fill="#e9cdc9"/>
<circle cx="969.68" cy="735" r="5.25" fill="#dcb0ab"/>
<circle cx="214.3" cy="751.8" r="5.25" fill="#bfbae0"/>
<circle cx="227.1" cy="751.8" r="7" fill="#a04a44"/>
<circle cx="239.91" cy="751.8" r="3" fill="#ffffff"/>
<circle cx="252.71" cy="751.8" r="5.25" fill="#bfbae0"/>
<circle cx="265.51" cy="751.8" r="5.25" fill="#dcb0ab"/>
<circle cx="278.31" cy="751.8" r="5.25" fill="#bfbae0"/>
<circle cx="291.12" cy="751.8" r="3.75" fill="#ecebf6"/>
<circle cx="303.92" cy="751.8" r="3.75" fill="#f4e6e4"/>
<circle cx="316.72" cy="751.8" r="3" fill="#ffffff"/>
<circle cx="329.53" cy="751.8" r="3" fill="#ffffff"/>
<circle cx="342.33" cy="751.8" r="3" fill="#ffffff"/>
<circle cx="355.13" cy="751.8" r="7" fill="#3c3ca0"/>
<circle cx="367.94" cy="751.8" r="6" fill="#cb8f89"/>
<circle cx="380.74" cy="751.8" r="3" fill="#ffffff"/>
<circle cx="393.54" cy="751.8" r="6" fill="#cb8f89"/>
<circle cx="406.35" cy="751.8" r="3.75" fill="#f4e6e4"/>
<circle cx="419.15" cy="751.8" r="3" fill="#ffffff"/>
<circle cx="431.95" cy="751.8" r="6" fill="#a098d0"/>
<circle cx="444.75" cy="751.8" r="6" fill="#a098d0"/>
<circle cx="457.56" cy="751.8" r="4.5" fill="#e9cdc9"/>
<circle cx="470.36" cy="751.8" r="3.75" fill="#f4e6e4"/>
<circle cx="483.16" cy="751.8" r="4.5" fill="#d9d6ee"/>
<circle cx="495.97" cy="751.8" r="3.75" fill="#ecebf6"/>
<circle cx="508.77" cy="751.8" r="5.25" fill="#dcb0ab"/>
<circle cx="521.57" cy="751.8" r="3.75" fill="#f4e6e4"/>
<circle cx="534.38" cy="751.8" r="3.75" fill="#ecebf6"/>
<circle cx="547.18" cy="751.8" r="3" fill="#ffffff"/>
<circle cx="559.98" cy="751.8" r="5.25" fill="#dcb0ab"/>
<circle cx="572.78" cy="751.8" r="4.5" fill="#e9cdc9"/>
<circle cx="585.59" cy="751.8" r="6.5" fill="#6058ae"/>
<circle cx="598.39" cy="751.8" r="5.25" fill="#bfbae0"/>
<circle cx="611.19" cy="751.8" r="4.5" fill="#d9d6ee"/>
<circle cx="624" cy="751.8" r="5.25" fill="#bfbae0"/>
<circle cx="636.8" cy="751.8" r="3.75" fill="#ecebf6"/>
<circle cx="649.6" cy="751.8" r="3.75" fill="#ecebf6"/>
<circle cx="662.4" cy="751.8" r="5.25" fill="#bfbae0"/>
<circle cx="675.21" cy="751.8" r="3.75" fill="#ecebf6"/>
<circle cx="688.01" cy="751.8" r="6.9" fill="#7d74be"/>
<circle cx="700.81" cy="751.8" r="3" fill="#ffffff"/>
<circle cx="713.62" cy="751.8" r="4.5" fill="#d9d6ee"/>
<circle cx="726.42" cy="751.8" r="3.75" fill="#f4e6e4"/>
<circle cx="739.22" cy="751.8" r="5.25" fill="#dcb0ab"/>
<circle cx="752.03" cy="751.8" r="3.75" fill="#f4e6e4"/>
<circle cx="764.83" cy="751.8" r="4.5" fill="#e9cdc9"/>
<circle cx="777.63" cy="751.8" r="6" fill="#a098d0"/>
<circle cx="790.43" cy="751.8" r="6" fill="#a098d0"/>
<circle cx="803.24" cy="751.8" r="6.9" fill="#7d74be"/>
<circle cx="816.04" cy="751.8" r="3" fill="#ffffff"/>
<circle cx="828.84" cy="751.8" r="3.75" fill="#f4e6e4"/>
<circle cx="841.65" cy="751.8" r="3.75" fill="#ecebf6"/>
<circle cx="854.45" cy="751.8" r="3.75" fill="#f4e6e4"/>
<circle cx="867.25" cy="751.8" r="3.75" fill="#ecebf6"/>
<circle cx="880.06" cy="751.8" r="6" fill="#a098d0"/>
<circle cx="892.86" cy="751.8" r="4.5" fill="#d9d6ee"/>
<circle cx="905.66" cy="751.8" r="3" fill="#ffffff"/>
<circle cx="918.47" cy="751.8" r="3.75" fill="#f4e6e4"/>
<circle cx="931.27" cy="751.8" r="5.25" fill="#dcb0ab"/>
<circle cx="944.07" cy="751.8" r="5.25" fill="#bfbae0"/>
<circle cx="956.87" cy="751.8" r="5.25" fill="#dcb0ab"/>
<circle cx="969.68" cy="751.8" r="6" fill="#cb8f89"/>
<circle cx="214.3" cy="768.6" r="4.5" fill="#e9cdc9"/>
<circle cx="227.1" cy="768.6" r="6.6" fill="#bb6e66"/>
<circle cx="239.91" cy="768.6" r="3" fill="#ffffff"/>
<circle cx="252.71" cy="768.6" r="6" fill="#cb8f89"/>
<circle cx="265.51" cy="768.6" r="6.6" fill="#bb6e66"/>
<circle cx="278.31" cy="768.6" r="3" fill="#ffffff"/>
<circle cx="291.12" cy="768.6" r="6" fill="#a098d0"/>
<circle cx="303.92" cy="768.6" r="3" fill="#ffffff"/>
<circle cx="316.72" cy="768.6" r="5.25" fill="#bfbae0"/>
<circle cx="329.53" cy="768.6" r="3" fill="#ffffff"/>
<circle cx="342.33" cy="768.6" r="4.5" fill="#d9d6ee"/>
<circle cx="355.13" cy="768.6" r="5.25" fill="#dcb0ab"/>
<circle cx="367.94" cy="768.6" r="3.75" fill="#ecebf6"/>
<circle cx="380.74" cy="768.6" r="3.75" fill="#f4e6e4"/>
<circle cx="393.54" cy="768.6" r="5.25" fill="#dcb0ab"/>
<circle cx="406.35" cy="768.6" r="6" fill="#a098d0"/>
<circle cx="419.15" cy="768.6" r="3.75" fill="#f4e6e4"/>
<circle cx="431.95" cy="768.6" r="3" fill="#ffffff"/>
<circle cx="444.75" cy="768.6" r="3.75" fill="#ecebf6"/>
<circle cx="457.56" cy="768.6" r="5.25" fill="#dcb0ab"/>
<circle cx="470.36" cy="768.6" r="3" fill="#ffffff"/>
<circle cx="483.16" cy="768.6" r="6" fill="#cb8f89"/>
<circle cx="495.97" cy="768.6" r="4.5" fill="#d9d6ee"/>
<circle cx="508.77" cy="768.6" r="6.6" fill="#bb6e66"/>
<circle cx="521.57" cy="768.6" r="5.25" fill="#dcb0ab"/>
<circle cx="534.38" cy="768.6" r="5.25" fill="#bfbae0"/>
<circle cx="547.18" cy="768.6" r="6.9" fill="#7d74be"/>
<circle cx="559.98" cy="768.6" r="3.75" fill="#ecebf6"/>
<circle cx="572.78" cy="768.6" r="3" fill="#ffffff"/>
<circle cx="585.59" cy="768.6" r="5.25" fill="#bfbae0"/>
<circle cx="598.39" cy="768.6" r="3.75" fill="#ecebf6"/>
<circle cx="611.19" cy="768.6" r="6.9" fill="#7d74be"/>
<circle cx="624" cy="768.6" r="3.75" fill="#ecebf6"/>
<circle cx="636.8" cy="768.6" r="3" fill="#ffffff"/>
<circle cx="649.6" cy="768.6" r="4.5" fill="#e9cdc9"/>
<circle cx="662.4" cy="768.6" r="5.25" fill="#bfbae0"/>
<circle cx="675.21" cy="768.6" r="3.75" fill="#ecebf6"/>
<circle cx="688.01" cy="768.6" r="7" fill="#a04a44"/>
<circle cx="700.81" cy="768.6" r="3" fill="#ffffff"/>
<circle cx="713.62" cy="768.6" r="3.75" fill="#ecebf6"/>
<circle cx="726.42" cy="768.6" r="5.25" fill="#bfbae0"/>
<circle cx="739.22" cy="768.6" r="5.25" fill="#bfbae0"/>
<circle cx="752.03" cy="768.6" r="3.75" fill="#ecebf6"/>
<circle cx="764.83" cy="768.6" r="4.5" fill="#d9d6ee"/>
<circle cx="777.63" cy="768.6" r="6" fill="#a098d0"/>
<circle cx="790.43" cy="768.6" r="3.75" fill="#f4e6e4"/>
<circle cx="803.24" cy="768.6" r="3.75" fill="#ecebf6"/>
<circle cx="816.04" cy="768.6" r="7" fill="#a04a44"/>
<circle cx="828.84" cy="768.6" r="3" fill="#ffffff"/>
<circle cx="841.65" cy="768.6" r="3" fill="#ffffff"/>
<circle cx="854.45" cy="768.6" r="6" fill="#a098d0"/>
<circle cx="867.25" cy="768.6" r="3.75" fill="#f4e6e4"/>
<circle cx="880.06" cy="768.6" r="3" fill="#ffffff"/>
<circle cx="892.86" cy="768.6" r="3.75" fill="#ecebf6"/>
<circle cx="905.66" cy="768.6" r="3" fill="#ffffff"/>
<circle cx="918.47" cy="768.6" r="3" fill="#ffffff"/>
<circle cx="931.27" cy="768.6" r="3.75" fill="#f4e6e4"/>
<circle cx="944.07" cy="768.6" r="6.9" fill="#7d74be"/>
<circle cx="956.87" cy="768.6" r="6" fill="#cb8f89"/>
<circle cx="969.68" cy="768.6" r="3.75" fill="#f4e6e4"/>
<circle cx="214.3" cy="785.4" r="4.5" fill="#d9d6ee"/>
<circle cx="227.1" cy="785.4" r="4.5" fill="#e9cdc9"/>
<circle cx="239.91" cy="785.4" r="3" fill="#ffffff"/>
<circle cx="252.71" cy="785.4" r="3" fill="#ffffff"/>
<circle cx="265.51" cy="785.4" r="6" fill="#a098d0"/>
<circle cx="278.31" cy="785.4" r="3.75" fill="#ecebf6"/>
<circle cx="291.12" cy="785.4" r="4.5" fill="#d9d6ee"/>
<circle cx="303.92" cy="785.4" r="6.9" fill="#7d74be"/>
<circle cx="316.72" cy="785.4" r="3.75" fill="#f4e6e4"/>
<circle cx="329.53" cy="785.4" r="3" fill="#ffffff"/>
<circle cx="342.33" cy="785.4" r="8.5" fill="#5a52ac"/>
<circle cx="355.13" cy="785.4" r="3.75" fill="#ecebf6"/>
<circle cx="367.94" cy="785.4" r="3.75" fill="#f4e6e4"/>
<circle cx="380.74" cy="785.4" r="6" fill="#a098d0"/>
<circle cx="393.54" cy="785.4" r="5.25" fill="#dcb0ab"/>
<circle cx="406.35" cy="785.4" r="4.5" fill="#e9cdc9"/>
<circle cx="419.15" cy="785.4" r="7.25" fill="#892c2c"/>
<circle cx="431.95" cy="785.4" r="4.5" fill="#e9cdc9"/>
<circle cx="444.75" cy="785.4" r="6" fill="#cb8f89"/>
<circle cx="457.56" cy="785.4" r="5.25" fill="#bfbae0"/>
<circle cx="470.36" cy="785.4" r="3.75" fill="#ecebf6"/>
<circle cx="483.16" cy="785.4" r="3.75" fill="#ecebf6"/>
<circle cx="495.97" cy="785.4" r="4.5" fill="#d9d6ee"/>
<circle cx="508.77" cy="785.4" r="5.25" fill="#bfbae0"/>
<circle cx="521.57" cy="785.4" r="6.9" fill="#7d74be"/>
<circle cx="534.38" cy="785.4" r="4.5" fill="#e9cdc9"/>
<circle cx="547.18" cy="785.4" r="5.25" fill="#dcb0ab"/>
<circle cx="559.98" cy="785.4" r="5.25" fill="#bfbae0"/>
<circle cx="572.78" cy="785.4" r="8.5" fill="#5a52ac"/>
<circle cx="585.59" cy="785.4" r="3" fill="#ffffff"/>
<circle cx="598.39" cy="785.4" r="3" fill="#ffffff"/>
<circle cx="611.19" cy="785.4" r="6.9" fill="#7d74be"/>
<circle cx="624" cy="785.4" r="6" fill="#a098d0"/>
<circle cx="636.8" cy="785.4" r="6" fill="#cb8f89"/>
<circle cx="649.6" cy="785.4" r="6" fill="#a098d0"/>
<circle cx="662.4" cy="785.4" r="5.25" fill="#dcb0ab"/>
<circle cx="675.21" cy="785.4" r="6" fill="#cb8f89"/>
<circle cx="688.01" cy="785.4" r="6.6" fill="#bb6e66"/>
<circle cx="700.81" cy="785.4" r="4.5" fill="#d9d6ee"/>
<circle cx="713.62" cy="785.4" r="3.75" fill="#ecebf6"/>
<circle cx="726.42" cy="785.4" r="4.5" fill="#e9cdc9"/>
<circle cx="739.22" cy="785.4" r="5.25" fill="#bfbae0"/>
<circle cx="752.03" cy="785.4" r="6" fill="#a098d0"/>
<circle cx="764.83" cy="785.4" r="6.9" fill="#7d74be"/>
<circle cx="777.63" cy="785.4" r="6.5" fill="#6058ae"/>
<circle cx="790.43" cy="785.4" r="3" fill="#ffffff"/>
<circle cx="803.24" cy="785.4" r="4.5" fill="#e9cdc9"/>
<circle cx="816.04" cy="785.4" r="6.5" fill="#6058ae"/>
<circle cx="828.84" cy="785.4" r="7" fill="#a04a44"/>
<circle cx="841.65" cy="785.4" r="5.25" fill="#dcb0ab"/>
<circle cx="854.45" cy="785.4" r="3.75" fill="#ecebf6"/>
<circle cx="867.25" cy="785.4" r="6.6" fill="#bb6e66"/>
<circle cx="880.06" cy="785.4" r="4.5" fill="#d9d6ee"/>
<circle cx="892.86" cy="785.4" r="6" fill="#cb8f89"/>
<circle cx="905.66" cy="785.4" r="3" fill="#ffffff"/>
<circle cx="918.47" cy="785.4" r="6.9" fill="#7d74be"/>
<circle cx="931.27" cy="785.4" r="3" fill="#ffffff"/>
<circle cx="944.07" cy="785.4" r="6.6" fill="#bb6e66"/>
<circle cx="956.87" cy="785.4" r="7" fill="#a04a44"/>
<circle cx="969.68" cy="785.4" r="3" fill="#ffffff"/>
<circle cx="214.3" cy="802.2" r="3.75" fill="#ecebf6"/>
<circle cx="227.1" cy="802.2" r="5.25" fill="#bfbae0"/>
<circle cx="239.91" cy="802.2" r="3" fill="#ffffff"/>
<circle cx="252.71" cy="802.2" r="3.75" fill="#ecebf6"/>
<circle cx="265.51" cy="802.2" r="3" fill="#ffffff"/>
<circle cx="278.31" cy="802.2" r="3.75" fill="#ecebf6"/>
<circle cx="291.12" cy="802.2" r="4.5" fill="#d9d6ee"/>
<circle cx="303.92" cy="802.2" r="3.75" fill="#f4e6e4"/>
<circle cx="316.72" cy="802.2" r="3" fill="#ffffff"/>
<circle cx="329.53" cy="802.2" r="3" fill="#ffffff"/>
<circle cx="342.33" cy="802.2" r="3.75" fill="#ecebf6"/>
<circle cx="355.13" cy="802.2" r="3" fill="#ffffff"/>
<circle cx="367.94" cy="802.2" r="3.75" fill="#f4e6e4"/>
<circle cx="380.74" cy="802.2" r="3.75" fill="#ecebf6"/>
<circle cx="393.54" cy="802.2" r="3.75" fill="#ecebf6"/>
<circle cx="406.35" cy="802.2" r="6" fill="#a098d0"/>
<circle cx="419.15" cy="802.2" r="7" fill="#a04a44"/>
<circle cx="431.95" cy="802.2" r="5.25" fill="#bfbae0"/>
<circle cx="444.75" cy="802.2" r="3" fill="#ffffff"/>
<circle cx="457.56" cy="802.2" r="6" fill="#a098d0"/>
<circle cx="470.36" cy="802.2" r="3.75" fill="#f4e6e4"/>
<circle cx="483.16" cy="802.2" r="4.5" fill="#d9d6ee"/>
<circle cx="495.97" cy="802.2" r="3.75" fill="#ecebf6"/>
<circle cx="508.77" cy="802.2" r="4.5" fill="#e9cdc9"/>
<circle cx="521.57" cy="802.2" r="3.75" fill="#f4e6e4"/>
<circle cx="534.38" cy="802.2" r="4.5" fill="#e9cdc9"/>
<circle cx="547.18" cy="802.2" r="3" fill="#ffffff"/>
<circle cx="559.98" cy="802.2" r="3.75" fill="#f4e6e4"/>
<circle cx="572.78" cy="802.2" r="4.5" fill="#e9cdc9"/>
<circle cx="585.59" cy="802.2" r="3.75" fill="#ecebf6"/>
<circle cx="598.39" cy="802.2" r="5.25" fill="#bfbae0"/>
<circle cx="611.19" cy="802.2" r="6" fill="#a098d0"/>
<circle cx="624" cy="802.2" r="4.5" fill="#e9cdc9"/>
<circle cx="636.8" cy="802.2" r="3" fill="#ffffff"/>
<circle cx="649.6" cy="802.2" r="3.75" fill="#ecebf6"/>
<circle cx="662.4" cy="802.2" r="5.25" fill="#bfbae0"/>
<circle cx="675.21" cy="802.2" r="4.5" fill="#d9d6ee"/>
<circle cx="688.01" cy="802.2" r="5.25" fill="#bfbae0"/>
<circle cx="700.81" cy="802.2" r="3" fill="#ffffff"/>
<circle cx="713.62" cy="802.2" r="5.25" fill="#bfbae0"/>
<circle cx="726.42" cy="802.2" r="3.75" fill="#ecebf6"/>
<circle cx="739.22" cy="802.2" r="3.75" fill="#f4e6e4"/>
<circle cx="752.03" cy="802.2" r="3" fill="#ffffff"/>
<circle cx="764.83" cy="802.2" r="3.75" fill="#f4e6e4"/>
<circle cx="777.63" cy="802.2" r="3.75" fill="#f4e6e4"/>
<circle cx="790.43" cy="802.2" r="5.25" fill="#bfbae0"/>
<circle cx="803.24" cy="802.2" r="3" fill="#ffffff"/>
<circle cx="816.04" cy="802.2" r="3.75" fill="#ecebf6"/>
<circle cx="828.84" cy="802.2" r="5.25" fill="#bfbae0"/>
<circle cx="841.65" cy="802.2" r="3.75" fill="#ecebf6"/>
<circle cx="854.45" cy="802.2" r="3.75" fill="#f4e6e4"/>
<circle cx="867.25" cy="802.2" r="5.25" fill="#bfbae0"/>
<circle cx="880.06" cy="802.2" r="6" fill="#a098d0"/>
<circle cx="892.86" cy="802.2" r="3" fill="#ffffff"/>
<circle cx="905.66" cy="802.2" r="3" fill="#ffffff"/>
<circle cx="918.47" cy="802.2" r="5.25" fill="#dcb0ab"/>
<circle cx="931.27" cy="802.2" r="6" fill="#cb8f89"/>
<circle cx="944.07" cy="802.2" r="3" fill="#ffffff"/>
<circle cx="956.87" cy="802.2" r="6" fill="#cb8f89"/>
<circle cx="969.68" cy="802.2" r="6" fill="#cb8f89"/>
<circle cx="214.3" cy="819" r="3" fill="#ffffff"/>
<circle cx="227.1" cy="819" r="4.5" fill="#e9cdc9"/>
<circle cx="239.91" cy="819" r="3" fill="#ffffff"/>
<circle cx="252.71" cy="819" r="6" fill="#a098d0"/>
<circle cx="265.51" cy="819" r="3" fill="#ffffff"/>
<circle cx="278.31" cy="819" r="3.75" fill="#f4e6e4"/>
<circle cx="291.12" cy="819" r="3.75" fill="#ecebf6"/>
<circle cx="303.92" cy="819" r="3" fill="#ffffff"/>
<circle cx="316.72" cy="819" r="5.25" fill="#dcb0ab"/>
<circle cx="329.53" cy="819" r="3" fill="#ffffff"/>
<circle cx="342.33" cy="819" r="6" fill="#a098d0"/>
<circle cx="355.13" cy="819" r="6.6" fill="#bb6e66"/>
<circle cx="367.94" cy="819" r="6" fill="#cb8f89"/>
<circle cx="380.74" cy="819" r="5.25" fill="#bfbae0"/>
<circle cx="393.54" cy="819" r="4.5" fill="#d9d6ee"/>
<circle cx="406.35" cy="819" r="5.25" fill="#bfbae0"/>
<circle cx="419.15" cy="819" r="6.6" fill="#bb6e66"/>
<circle cx="431.95" cy="819" r="4.5" fill="#d9d6ee"/>
<circle cx="444.75" cy="819" r="6.6" fill="#bb6e66"/>
<circle cx="457.56" cy="819" r="6" fill="#a098d0"/>
<circle cx="470.36" cy="819" r="3" fill="#ffffff"/>
<circle cx="483.16" cy="819" r="4.5" fill="#e9cdc9"/>
<circle cx="495.97" cy="819" r="4.5" fill="#e9cdc9"/>
<circle cx="508.77" cy="819" r="5.25" fill="#bfbae0"/>
<circle cx="521.57" cy="819" r="3" fill="#ffffff"/>
<circle cx="534.38" cy="819" r="4.5" fill="#e9cdc9"/>
<circle cx="547.18" cy="819" r="6" fill="#cb8f89"/>
<circle cx="559.98" cy="819" r="3.75" fill="#f4e6e4"/>
<circle cx="572.78" cy="819" r="3" fill="#ffffff"/>
<circle cx="585.59" cy="819" r="3.75" fill="#ecebf6"/>
<circle cx="598.39" cy="819" r="3.75" fill="#ecebf6"/>
<circle cx="611.19" cy="819" r="3.75" fill="#ecebf6"/>
<circle cx="624" cy="819" r="6" fill="#cb8f89"/>
<circle cx="636.8" cy="819" r="3" fill="#ffffff"/>
<circle cx="649.6" cy="819" r="6.9" fill="#7d74be"/>
<circle cx="662.4" cy="819" r="4.5" fill="#d9d6ee"/>
<circle cx="675.21" cy="819" r="5.25" fill="#bfbae0"/>
<circle cx="688.01" cy="819" r="3" fill="#ffffff"/>
<circle cx="700.81" cy="819" r="5.25" fill="#bfbae0"/>
<circle cx="713.62" cy="819" r="3" fill="#ffffff"/>
<circle cx="726.42" cy="819" r="6" fill="#cb8f89"/>
<circle cx="739.22" cy="819" r="4.5" fill="#e9cdc9"/>
<circle cx="752.03" cy="819" r="5.25" fill="#dcb0ab"/>
<circle cx="764.83" cy="819" r="3.75" fill="#f4e6e4"/>
<circle cx="777.63" cy="819" r="5.25" fill="#bfbae0"/>
<circle cx="790.43" cy="819" r="5.25" fill="#bfbae0"/>
<circle cx="803.24" cy="819" r="4.5" fill="#d9d6ee"/>
<circle cx="816.04" cy="819" r="4.5" fill="#d9d6ee"/>
<circle cx="828.84" cy="819" r="4.5" fill="#d9d6ee"/>
<circle cx="841.65" cy="819" r="6" fill="#a098d0"/>
<circle cx="854.45" cy="819" r="5.25" fill="#dcb0ab"/>
<circle cx="867.25" cy="819" r="5.25" fill="#bfbae0"/>
<circle cx="880.06" cy="819" r="5.25" fill="#dcb0ab"/>
<circle cx="892.86" cy="819" r="4.5" fill="#d9d6ee"/>
<circle cx="905.66" cy="819" r="3" fill="#ffffff"/>
<circle cx="918.47" cy="819" r="3.75" fill="#f4e6e4"/>
<circle cx="931.27" cy="819" r="4.5" fill="#e9cdc9"/>
<circle cx="944.07" cy="819" r="5.25" fill="#dcb0ab"/>
<circle cx="956.87" cy="819" r="4.5" fill="#e9cdc9"/>
<circle cx="969.68" cy="819" r="4.5" fill="#e9cdc9"/>
<circle cx="214.3" cy="835.8" r="3" fill="#ffffff"/>
<circle cx="227.1" cy="835.8" r="6" fill="#cb8f89"/>
<circle cx="239.91" cy="835.8" r="3" fill="#ffffff"/>
<circle cx="252.71" cy="835.8" r="5.25" fill="#bfbae0"/>
<circle cx="265.51" cy="835.8" r="3.75" fill="#f4e6e4"/>
<circle cx="278.31" cy="835.8" r="4.5" fill="#e9cdc9"/>
<circle cx="291.12" cy="835.8" r="3" fill="#ffffff"/>
<circle cx="303.92" cy="835.8" r="3.75" fill="#ecebf6"/>
<circle cx="316.72" cy="835.8" r="4.5" fill="#e9cdc9"/>
<circle cx="329.53" cy="835.8" r="3" fill="#ffffff"/>
<circle cx="342.33" cy="835.8" r="6.9" fill="#7d74be"/>
<circle cx="355.13" cy="835.8" r="4.5" fill="#e9cdc9"/>
<circle cx="367.94" cy="835.8" r="3.75" fill="#ecebf6"/>
<circle cx="380.74" cy="835.8" r="5.25" fill="#bfbae0"/>
<circle cx="393.54" cy="835.8" r="6.5" fill="#6058ae"/>
<circle cx="406.35" cy="835.8" r="4.5" fill="#d9d6ee"/>
<circle cx="419.15" cy="835.8" r="4.5" fill="#e9cdc9"/>
<circle cx="431.95" cy="835.8" r="3.75" fill="#ecebf6"/>
<circle cx="444.75" cy="835.8" r="6.6" fill="#bb6e66"/>
<circle cx="457.56" cy="835.8" r="5.25" fill="#bfbae0"/>
<circle cx="470.36" cy="835.8" r="6" fill="#a098d0"/>
<circle cx="483.16" cy="835.8" r="6" fill="#cb8f89"/>
<circle cx="495.97" cy="835.8" r="6" fill="#cb8f89"/>
<circle cx="508.77" cy="835.8" r="5.25" fill="#bfbae0"/>
<circle cx="521.57" cy="835.8" r="3.75" fill="#ecebf6"/>
<circle cx="534.38" cy="835.8" r="3.75" fill="#f4e6e4"/>
<circle cx="547.18" cy="835.8" r="5.25" fill="#dcb0ab"/>
<circle cx="559.98" cy="835.8" r="4.5" fill="#e9cdc9"/>
<circle cx="572.78" cy="835.8" r="3.75" fill="#f4e6e4"/>
<circle cx="585.59" cy="835.8" r="3" fill="#ffffff"/>
<circle cx="598.39" cy="835.8" r="3.75" fill="#f4e6e4"/>
<circle cx="611.19" cy="835.8" r="4.5" fill="#d9d6ee"/>
<circle cx="624" cy="835.8" r="4.5" fill="#e9cdc9"/>
<circle cx="636.8" cy="835.8" r="3.75" fill="#ecebf6"/>
<circle cx="649.6" cy="835.8" r="6.9" fill="#7d74be"/>
<circle cx="662.4" cy="835.8" r="5.25" fill="#bfbae0"/>
<circle cx="675.21" cy="835.8" r="4.5" fill="#d9d6ee"/>
<circle cx="688.01" cy="835.8" r="3.75" fill="#f4e6e4"/>
<circle cx="700.81" cy="835.8" r="6.9" fill="#7d74be"/>
<circle cx="713.62" cy="835.8" r="3.75" fill="#f4e6e4"/>
<circle cx="726.42" cy="835.8" r="6.6" fill="#bb6e66"/>
<circle cx="739.22" cy="835.8" r="4.5" fill="#e9cdc9"/>
<circle cx="752.03" cy="835.8" r="4.5" fill="#e9cdc9"/>
<circle cx="764.83" cy="835.8" r="3" fill="#ffffff"/>
<circle cx="777.63" cy="835.8" r="6" fill="#a098d0"/>
<circle cx="790.43" cy="835.8" r="3" fill="#ffffff"/>
<circle cx="803.24" cy="835.8" r="5.25" fill="#bfbae0"/>
<circle cx="816.04" cy="835.8" r="5.25" fill="#bfbae0"/>
<circle cx="828.84" cy="835.8" r="5.25" fill="#bfbae0"/>
<circle cx="841.65" cy="835.8" r="6" fill="#a098d0"/>
<circle cx="854.45" cy="835.8" r="4.5" fill="#e9cdc9"/>
<circle cx="867.25" cy="835.8" r="4.5" fill="#d9d6ee"/>
<circle cx="880.06" cy="835.8" r="4.5" fill="#e9cdc9"/>
<circle cx="892.86" cy="835.8" r="4.5" fill="#d9d6ee"/>
<circle cx="905.66" cy="835.8" r="3" fill="#ffffff"/>
<circle cx="918.47" cy="835.8" r="4.5" fill="#d9d6ee"/>
<circle cx="931.27" cy="835.8" r="3" fill="#ffffff"/>
<circle cx="944.07" cy="835.8" r="5.25" fill="#dcb0ab"/>
<circle cx="956.87" cy="835.8" r="4.5" fill="#e9cdc9"/>
<circle cx="969.68" cy="835.8" r="3" fill="#ffffff"/>
<path d="M201.6 12.6H206.3M201.6 29.4H206.3M201.6 46.2H206.3M201.6 63H206.3M201.6 79.8H206.3M201.6 96.6H206.3M201.6 113.4H206.3M201.6 130.2H206.3M201.6 147H206.3M201.6 163.8H206.3M201.6 180.6H206.3M201.6 197.4H206.3M201.6 214.2H206.3M201.6 231H206.3M201.6 247.8H206.3M201.6 264.6H206.3M201.6 281.4H206.3M201.6 298.2H206.3M201.6 315H206.3M201.6 331.8H206.3M201.6 348.6H206.3M201.6 365.4H206.3M201.6 382.2H206.3M201.6 399H206.3M201.6 415.8H206.3M201.6 432.6H206.3M201.6 449.4H206.3M201.6 466.2H206.3M201.6 483H206.3M201.6 499.8H206.3M201.6 516.6H206.3M201.6 533.4H206.3M201.6 550.2H206.3M201.6 567H206.3M201.6 583.8H206.3M201.6 600.6H206.3M201.6 617.4H206.3M201.6 634.2H206.3M201.6 651H206.3M201.6 667.8H206.3M201.6 684.6H206.3M201.6 701.4H206.3M201.6 718.2H206.3M201.6 735H206.3M201.6 751.8H206.3M201.6 768.6H206.3M201.6 785.4H206.3M201.6 802.2H206.3M201.6 819H206.3M201.6 835.8H206.3M214.3 845.6V850.6M227.1 845.6V850.6M239.91 845.6V850.6M252.71 845.6V850.6M265.51 845.6V850.6M278.31 845.6V850.6M291.12 845.6V850.6M303.92 845.6V850.6M316.72 845.6V850.6M329.53 845.6V850.6M342.33 845.6V850.6M355.13 845.6V850.6M367.94 845.6V850.6M380.74 845.6V850.6M393.54 845.6V850.6M406.35 845.6V850.6M419.15 845.6V850.6M431.95 845.6V850.6M444.75 845.6V850.6M457.56 845.6V850.6M470.36 845.6V850.6M483.16 845.6V850.6M495.97 845.6V850.6M508.77 845.6V850.6M521.57 845.6V850.6M534.38 845.6V850.6M547.18 845.6V850.6M559.98 845.6V850.6M572.78 845.6V850.6M585.59 845.6V850.6M598.39 845.6V850.6M611.19 845.6V850.6M624 845.6V850.6M636.8 845.6V850.6M649.6 845.6V850.6M662.4 845.6V850.6M675.21 845.6V850.6M688.01 845.6V850.6M700.81 845.6V850.6M713.62 845.6V850.6M726.42 845.6V850.6M739.22 845.6V850.6M752.03 845.6V850.6M764.83 845.6V850.6M777.63 845.6V850.6M790.43 845.6V850.6M803.24 845.6V850.6M816.04 845.6V850.6M828.84 845.6V850.6M841.65 845.6V850.6M854.45 845.6V850.6M867.25 845.6V850.6M880.06 845.6V850.6M892.86 845.6V850.6M905.66 845.6V850.6M918.47 845.6V850.6M931.27 845.6V850.6M944.07 845.6V850.6M956.87 845.6V850.6M969.68 845.6V850.6" stroke="#000" stroke-width="1.1" fill="none"/>
<path d="M206.3 2.6V845.6H977" stroke="#000" stroke-width="1.4" fill="none"/>
<text x="197" y="13.8" font-size="16.7" text-anchor="end" dominant-baseline="central">CD1cdim.BDCA1.</text>
<text x="197" y="30.6" font-size="16.7" text-anchor="end" dominant-baseline="central">BDCA1..mDC</text>
<text x="197" y="47.4" font-size="16.7" text-anchor="end" dominant-baseline="central">BDCA3..mDC</text>
<text x="197" y="64.2" font-size="16.7" text-anchor="end" dominant-baseline="central">pDC.CD303.</text>
<text x="197" y="81" font-size="16.7" text-anchor="end" dominant-baseline="central">BDCA2..pDC</text>
<text x="197" y="97.8" font-size="16.7" text-anchor="end" dominant-baseline="central">pDC</text>
<text x="197" y="114.6" font-size="16.7" text-anchor="end" dominant-baseline="central">cDC.CD1c.</text>
<text x="197" y="131.4" font-size="16.7" text-anchor="end" dominant-baseline="central">cDC.CD141.</text>
<text x="197" y="148.2" font-size="16.7" text-anchor="end" dominant-baseline="central">cDC.fully.diff</text>
<text x="197" y="165" font-size="16.7" text-anchor="end" dominant-baseline="central">cDC</text>
<text x="197" y="181.8" font-size="16.7" text-anchor="end" dominant-baseline="central">Non.classical.monocytes</text>
<text x="197" y="198.6" font-size="16.7" text-anchor="end" dominant-baseline="central">Intermediate.monocytes</text>
<text x="197" y="215.4" font-size="16.7" text-anchor="end" dominant-baseline="central">Classical.monocytes</text>
<text x="197" y="232.2" font-size="16.7" text-anchor="end" dominant-baseline="central">Th22</text>
<text x="197" y="249" font-size="16.7" text-anchor="end" dominant-baseline="central">Conventional.Th17</text>
<text x="197" y="265.8" font-size="16.7" text-anchor="end" dominant-baseline="central">Th17</text>
<text x="197" y="282.6" font-size="16.7" text-anchor="end" dominant-baseline="central">Inflammatory.Th17</text>
<text x="197" y="299.4" font-size="16.7" text-anchor="end" dominant-baseline="central">CXCR5..Th</text>
<text x="197" y="316.2" font-size="16.7" text-anchor="end" dominant-baseline="central">Th2</text>
<text x="197" y="333" font-size="16.7" text-anchor="end" dominant-baseline="central">Th1</text>
<text x="197" y="349.8" font-size="16.7" text-anchor="end" dominant-baseline="central">CD8..CD25.</text>
<text x="197" y="366.6" font-size="16.7" text-anchor="end" dominant-baseline="central">CD8..FoxP3.</text>
<text x="197" y="383.4" font-size="16.7" text-anchor="end" dominant-baseline="central">Naive.Treg</text>
<text x="197" y="400.2" font-size="16.7" text-anchor="end" dominant-baseline="central">Activated.Treg</text>
<text x="197" y="417" font-size="16.7" text-anchor="end" dominant-baseline="central">Treg</text>
<text x="197" y="433.8" font-size="16.7" text-anchor="end" dominant-baseline="central">TCRgd</text>
<text x="197" y="450.6" font-size="16.7" text-anchor="end" dominant-baseline="central">CM.CD8</text>
<text x="197" y="467.4" font-size="16.7" text-anchor="end" dominant-baseline="central">Effmem.CD8</text>
<text x="197" y="484.2" font-size="16.7" text-anchor="end" dominant-baseline="central">Naive.CD8</text>
<text x="197" y="501" font-size="16.7" text-anchor="end" dominant-baseline="central">CD8.</text>
<text x="197" y="517.8" font-size="16.7" text-anchor="end" dominant-baseline="central">Thymic.naive.CD4</text>
<text x="197" y="534.6" font-size="16.7" text-anchor="end" dominant-baseline="central">CM.CD4</text>
<text x="197" y="551.4" font-size="16.7" text-anchor="end" dominant-baseline="central">Effmem.CD4</text>
<text x="197" y="568.2" font-size="16.7" text-anchor="end" dominant-baseline="central">Naive.CD4</text>
<text x="197" y="585" font-size="16.7" text-anchor="end" dominant-baseline="central">CD4.</text>
<text x="197" y="601.8" font-size="16.7" text-anchor="end" dominant-baseline="central">CD3.</text>
<text x="197" y="618.6" font-size="16.7" text-anchor="end" dominant-baseline="central">Plasmabasts</text>
<text x="197" y="635.4" font-size="16.7" text-anchor="end" dominant-baseline="central">Memory.B.cells</text>
<text x="197" y="652.2" font-size="16.7" text-anchor="end" dominant-baseline="central">Follicular.B.cells</text>
<text x="197" y="669" font-size="16.7" text-anchor="end" dominant-baseline="central">Transitional.B.cells</text>
<text x="197" y="685.8" font-size="16.7" text-anchor="end" dominant-baseline="central">Immature.B.cells</text>
<text x="197" y="702.6" font-size="16.7" text-anchor="end" dominant-baseline="central">B.cells</text>
<text x="197" y="719.4" font-size="16.7" text-anchor="end" dominant-baseline="central">iNKT</text>
<text x="197" y="736.2" font-size="16.7" text-anchor="end" dominant-baseline="central">NKT.cells</text>
<text x="197" y="753" font-size="16.7" text-anchor="end" dominant-baseline="central">Naive.NK.cells</text>
<text x="197" y="769.8" font-size="16.7" text-anchor="end" dominant-baseline="central">Effector.NK.cells</text>
<text x="197" y="786.6" font-size="16.7" text-anchor="end" dominant-baseline="central">NK</text>
<text x="197" y="803.4" font-size="16.7" text-anchor="end" dominant-baseline="central">Lymphocytes</text>
<text x="197" y="820.2" font-size="16.7" text-anchor="end" dominant-baseline="central">Leukocytes</text>
<text x="197" y="837" font-size="16.7" text-anchor="end" dominant-baseline="central">Neutrophils</text>
<text transform="translate(214.6 855) rotate(-90)" font-size="16.5" text-anchor="end" dominant-baseline="central">IL1RA</text>
<text transform="translate(227.4 855) rotate(-90)" font-size="16.5" text-anchor="end" dominant-baseline="central">IL2</text>
<text transform="translate(240.21 855) rotate(-90)" font-size="16.5" text-anchor="end" dominant-baseline="central">IL3</text>
<text transform="translate(253.01 855) rotate(-90)" font-size="16.5" text-anchor="end" dominant-baseline="central">IL4</text>
<text transform="translate(265.81 855) rotate(-90)" font-size="16.5" text-anchor="end" dominant-baseline="central">IL5</text>
<text transform="translate(278.62 855) rotate(-90)" font-size="16.5" text-anchor="end" dominant-baseline="central">IL6</text>
<text transform="translate(291.42 855) rotate(-90)" font-size="16.5" text-anchor="end" dominant-baseline="central">IL7</text>
<text transform="translate(304.22 855) rotate(-90)" font-size="16.5" text-anchor="end" dominant-baseline="central">IL10</text>
<text transform="translate(317.02 855) rotate(-90)" font-size="16.5" text-anchor="end" dominant-baseline="central">IL15</text>
<text transform="translate(329.83 855) rotate(-90)" font-size="16.5" text-anchor="end" dominant-baseline="central">IL17</text>
<text transform="translate(342.63 855) rotate(-90)" font-size="16.5" text-anchor="end" dominant-baseline="central">IL18</text>
<text transform="translate(355.43 855) rotate(-90)" font-size="16.5" text-anchor="end" dominant-baseline="central">IL22</text>
<text transform="translate(368.24 855) rotate(-90)" font-size="16.5" text-anchor="end" dominant-baseline="central">TNFa</text>
<text transform="translate(381.04 855) rotate(-90)" font-size="16.5" text-anchor="end" dominant-baseline="central">IFNa</text>
<text transform="translate(393.84 855) rotate(-90)" font-size="16.5" text-anchor="end" dominant-baseline="central">IFNg</text>
<text transform="translate(406.65 855) rotate(-90)" font-size="16.5" text-anchor="end" dominant-baseline="central">APRIL</text>
<text transform="translate(419.45 855) rotate(-90)" font-size="16.5" text-anchor="end" dominant-baseline="central">OSM</text>
<text transform="translate(432.25 855) rotate(-90)" font-size="16.5" text-anchor="end" dominant-baseline="central">LAG3</text>
<text transform="translate(445.05 855) rotate(-90)" font-size="16.5" text-anchor="end" dominant-baseline="central">Follistatin</text>
<text transform="translate(457.86 855) rotate(-90)" font-size="16.5" text-anchor="end" dominant-baseline="central">I309</text>
<text transform="translate(470.66 855) rotate(-90)" font-size="16.5" text-anchor="end" dominant-baseline="central">MIP1a</text>
<text transform="translate(483.46 855) rotate(-90)" font-size="16.5" text-anchor="end" dominant-baseline="central">MIP1b</text>
<text transform="translate(496.27 855) rotate(-90)" font-size="16.5" text-anchor="end" dominant-baseline="central">IL8</text>
<text transform="translate(509.07 855) rotate(-90)" font-size="16.5" text-anchor="end" dominant-baseline="central">MIG</text>
<text transform="translate(521.87 855) rotate(-90)" font-size="16.5" text-anchor="end" dominant-baseline="central">IP10</text>
<text transform="translate(534.67 855) rotate(-90)" font-size="16.5" text-anchor="end" dominant-baseline="central">BLC</text>
<text transform="translate(547.48 855) rotate(-90)" font-size="16.5" text-anchor="end" dominant-baseline="central">OPG</text>
<text transform="translate(560.28 855) rotate(-90)" font-size="16.5" text-anchor="end" dominant-baseline="central">OPN</text>
<text transform="translate(573.08 855) rotate(-90)" font-size="16.5" text-anchor="end" dominant-baseline="central">GCSF</text>
<text transform="translate(585.89 855) rotate(-90)" font-size="16.5" text-anchor="end" dominant-baseline="central">MCSF</text>
<text transform="translate(598.69 855) rotate(-90)" font-size="16.5" text-anchor="end" dominant-baseline="central">GMCSF</text>
<text transform="translate(611.49 855) rotate(-90)" font-size="16.5" text-anchor="end" dominant-baseline="central">SCF</text>
<text transform="translate(624.3 855) rotate(-90)" font-size="16.5" text-anchor="end" dominant-baseline="central">HGF</text>
<text transform="translate(637.1 855) rotate(-90)" font-size="16.5" text-anchor="end" dominant-baseline="central">EGF</text>
<text transform="translate(649.9 855) rotate(-90)" font-size="16.5" text-anchor="end" dominant-baseline="central">AR</text>
<text transform="translate(662.7 855) rotate(-90)" font-size="16.5" text-anchor="end" dominant-baseline="central">VEGF</text>
<text transform="translate(675.51 855) rotate(-90)" font-size="16.5" text-anchor="end" dominant-baseline="central">CD40L</text>
<text transform="translate(688.31 855) rotate(-90)" font-size="16.5" text-anchor="end" dominant-baseline="central">sPD1</text>
<text transform="translate(701.11 855) rotate(-90)" font-size="16.5" text-anchor="end" dominant-baseline="central">FASL</text>
<text transform="translate(713.92 855) rotate(-90)" font-size="16.5" text-anchor="end" dominant-baseline="central">IL1R1</text>
<text transform="translate(726.72 855) rotate(-90)" font-size="16.5" text-anchor="end" dominant-baseline="central">IL1R2</text>
<text transform="translate(739.52 855) rotate(-90)" font-size="16.5" text-anchor="end" dominant-baseline="central">ST2</text>
<text transform="translate(752.33 855) rotate(-90)" font-size="16.5" text-anchor="end" dominant-baseline="central">TNFR1</text>
<text transform="translate(765.13 855) rotate(-90)" font-size="16.5" text-anchor="end" dominant-baseline="central">TNFR2</text>
<text transform="translate(777.93 855) rotate(-90)" font-size="16.5" text-anchor="end" dominant-baseline="central">sIL2Ra</text>
<text transform="translate(790.73 855) rotate(-90)" font-size="16.5" text-anchor="end" dominant-baseline="central">sCD27</text>
<text transform="translate(803.54 855) rotate(-90)" font-size="16.5" text-anchor="end" dominant-baseline="central">IL7Ra</text>
<text transform="translate(816.34 855) rotate(-90)" font-size="16.5" text-anchor="end" dominant-baseline="central">sSCFR</text>
<text transform="translate(829.14 855) rotate(-90)" font-size="16.5" text-anchor="end" dominant-baseline="central">Elastase</text>
<text transform="translate(841.95 855) rotate(-90)" font-size="16.5" text-anchor="end" dominant-baseline="central">S100A8</text>
<text transform="translate(854.75 855) rotate(-90)" font-size="16.5" text-anchor="end" dominant-baseline="central">Gal9</text>
<text transform="translate(867.55 855) rotate(-90)" font-size="16.5" text-anchor="end" dominant-baseline="central">Ang1</text>
<text transform="translate(880.36 855) rotate(-90)" font-size="16.5" text-anchor="end" dominant-baseline="central">Ang2</text>
<text transform="translate(893.16 855) rotate(-90)" font-size="16.5" text-anchor="end" dominant-baseline="central">LAP</text>
<text transform="translate(905.96 855) rotate(-90)" font-size="16.5" text-anchor="end" dominant-baseline="central">TPO</text>
<text transform="translate(918.77 855) rotate(-90)" font-size="16.5" text-anchor="end" dominant-baseline="central">sICAM</text>
<text transform="translate(931.57 855) rotate(-90)" font-size="16.5" text-anchor="end" dominant-baseline="central">sVCAM</text>
<text transform="translate(944.37 855) rotate(-90)" font-size="16.5" text-anchor="end" dominant-baseline="central">MMP3</text>
<text transform="translate(957.17 855) rotate(-90)" font-size="16.5" text-anchor="end" dominant-baseline="central">Gal3</text>
<text transform="translate(969.98 855) rotate(-90)" font-size="16.5" text-anchor="end" dominant-baseline="central">C5a</text>
<text transform="translate(8.7 424) rotate(-90)" font-size="20.5" text-anchor="middle" dominant-baseline="central">Cellcount</text>
<text x="592.3" y="944.7" font-size="20" text-anchor="middle">Protein</text>
<path d="M1220.4 212V854.5M1233.67 212V854.5M1246.93 212V854.5M1260.2 212V854.5M1273.46 212V854.5M1286.73 212V854.5M1299.99 212V854.5M1313.26 212V854.5M1326.52 212V854.5M1339.79 212V854.5M1353.05 212V854.5M1366.32 212V854.5M1379.58 212V854.5M1392.85 212V854.5M1406.11 212V854.5M1419.38 212V854.5M1432.64 212V854.5M1445.91 212V854.5M1459.17 212V854.5M1472.44 212V854.5M1485.7 212V854.5M1498.97 212V854.5M1512.23 212V854.5M1525.5 212V854.5M1538.76 212V854.5M1552.03 212V854.5M1565.29 212V854.5M1578.56 212V854.5M1591.82 212V854.5M1605.09 212V854.5M1618.35 212V854.5M1631.62 212V854.5M1644.88 212V854.5M1658.14 212V854.5M1671.41 212V854.5M1684.68 212V854.5M1697.94 212V854.5M1711.21 212V854.5M1724.47 212V854.5M1737.74 212V854.5M1751 212V854.5M1764.27 212V854.5M1777.53 212V854.5M1790.8 212V854.5M1212.8 221.6H1798.9M1212.8 237.99H1798.9M1212.8 254.38H1798.9M1212.8 270.77H1798.9M1212.8 287.16H1798.9M1212.8 303.55H1798.9M1212.8 319.94H1798.9M1212.8 336.33H1798.9M1212.8 352.72H1798.9M1212.8 369.11H1798.9M1212.8 385.5H1798.9M1212.8 401.89H1798.9M1212.8 418.28H1798.9M1212.8 434.67H1798.9M1212.8 451.06H1798.9M1212.8 467.45H1798.9M1212.8 483.84H1798.9M1212.8 500.23H1798.9M1212.8 516.62H1798.9M1212.8 533.01H1798.9M1212.8 549.4H1798.9M1212.8 565.79H1798.9M1212.8 582.18H1798.9M1212.8 598.57H1798.9M1212.8 614.96H1798.9M1212.8 631.35H1798.9M1212.8 647.74H1798.9M1212.8 664.13H1798.9M1212.8 680.52H1798.9M1212.8 696.91H1798.9M1212.8 713.3H1798.9M1212.8 729.69H1798.9M1212.8 746.08H1798.9M1212.8 762.47H1798.9M1212.8 778.86H1798.9M1212.8 795.25H1798.9M1212.8 811.64H1798.9M1212.8 828.03H1798.9M1212.8 844.42H1798.9" stroke="#ebebeb" stroke-width="1.6" fill="none"/>
<circle cx="1233.67" cy="221.6" r="6.1" fill="#7a70bc"/>
<circle cx="1326.52" cy="221.6" r="4.45" fill="#c4827a"/>
<circle cx="1419.38" cy="221.6" r="6.1" fill="#b96c64"/>
<circle cx="1432.64" cy="221.6" r="6.1" fill="#b96c64"/>
<circle cx="1485.7" cy="221.6" r="5.35" fill="#b96c64"/>
<circle cx="1220.4" cy="237.99" r="6.9" fill="#9a423c"/>
<circle cx="1353.05" cy="237.99" r="3.1" fill="#c4827a"/>
<circle cx="1472.44" cy="237.99" r="6.65" fill="#862424"/>
<circle cx="1326.52" cy="254.38" r="10" fill="#943c38"/>
<circle cx="1353.05" cy="254.38" r="6.1" fill="#b96c64"/>
<circle cx="1326.52" cy="270.77" r="10" fill="#943c38"/>
<circle cx="1353.05" cy="270.77" r="6.1" fill="#b96c64"/>
<circle cx="1419.38" cy="270.77" r="3.35" fill="#c4827a"/>
<circle cx="1326.52" cy="287.16" r="10" fill="#943c38"/>
<circle cx="1353.05" cy="287.16" r="6.1" fill="#b96c64"/>
<circle cx="1220.4" cy="303.55" r="6.1" fill="#9a423c"/>
<circle cx="1353.05" cy="303.55" r="4.75" fill="#b96c64"/>
<circle cx="1472.44" cy="303.55" r="2.75" fill="#9a423c"/>
<circle cx="1326.52" cy="319.94" r="3.35" fill="#c4827a"/>
<circle cx="1353.05" cy="319.94" r="4.2" fill="#c4827a"/>
<circle cx="1472.44" cy="336.33" r="2.75" fill="#9a423c"/>
<circle cx="1273.46" cy="352.72" r="5" fill="#7a70bc"/>
<circle cx="1339.79" cy="352.72" r="7.5" fill="#862424"/>
<circle cx="1353.05" cy="352.72" r="6.1" fill="#b96c64"/>
<circle cx="1406.11" cy="352.72" r="5.35" fill="#7a70bc"/>
<circle cx="1459.17" cy="352.72" r="5" fill="#7a70bc"/>
<circle cx="1246.93" cy="369.11" r="6.1" fill="#b96c64"/>
<circle cx="1260.2" cy="369.11" r="3.45" fill="#c4827a"/>
<circle cx="1379.58" cy="369.11" r="5.35" fill="#b96c64"/>
<circle cx="1472.44" cy="369.11" r="6.65" fill="#862424"/>
<circle cx="1353.05" cy="385.5" r="5.1" fill="#b96c64"/>
<circle cx="1353.05" cy="401.89" r="5.1" fill="#b96c64"/>
<circle cx="1737.74" cy="221.6" r="3.75" fill="#c4827a"/>
<circle cx="1565.29" cy="237.99" r="7" fill="#a9544c"/>
<circle cx="1578.56" cy="237.99" r="4.65" fill="#c4827a"/>
<circle cx="1671.41" cy="254.38" r="7" fill="#a9544c"/>
<circle cx="1684.68" cy="254.38" r="5.75" fill="#b96c64"/>
<circle cx="1671.41" cy="270.77" r="7" fill="#a9544c"/>
<circle cx="1684.68" cy="270.77" r="5.75" fill="#b96c64"/>
<circle cx="1671.41" cy="287.16" r="6.35" fill="#a9544c"/>
<circle cx="1684.68" cy="287.16" r="4.2" fill="#c4827a"/>
<circle cx="1565.29" cy="303.55" r="6.35" fill="#a9544c"/>
<circle cx="1565.29" cy="336.33" r="4.1" fill="#c4827a"/>
<circle cx="1591.82" cy="352.72" r="5.2" fill="#7a70bc"/>
<circle cx="1684.68" cy="352.72" r="5.2" fill="#b96c64"/>
<circle cx="1764.27" cy="352.72" r="6.9" fill="#a9544c"/>
<circle cx="1671.41" cy="385.5" r="4.45" fill="#c4827a"/>
<circle cx="1498.97" cy="418.28" r="4.65" fill="#6a62b4"/>
<circle cx="1220.4" cy="451.06" r="2.6" fill="#9a423c"/>
<circle cx="1419.38" cy="483.84" r="3.9" fill="#b96c64"/>
<circle cx="1313.26" cy="500.23" r="2.6" fill="#5e56ac"/>
<circle cx="1353.05" cy="500.23" r="7.75" fill="#5e56ac"/>
<circle cx="1353.05" cy="516.62" r="7.75" fill="#5e56ac"/>
<circle cx="1353.05" cy="533.01" r="7.75" fill="#5e56ac"/>
<circle cx="1498.97" cy="533.01" r="3.5" fill="#9088c8"/>
<circle cx="1260.2" cy="565.79" r="5.5" fill="#a9544c"/>
<circle cx="1485.7" cy="565.79" r="4.25" fill="#b96c64"/>
<circle cx="1246.93" cy="598.57" r="5.75" fill="#a9544c"/>
<circle cx="1326.52" cy="614.96" r="5" fill="#7a70bc"/>
<circle cx="1724.47" cy="434.67" r="3.1" fill="#5e56ac"/>
<circle cx="1631.62" cy="451.06" r="2.6" fill="#9a423c"/>
<circle cx="1724.47" cy="467.45" r="4.45" fill="#5a50a8"/>
<circle cx="1538.76" cy="500.23" r="3.5" fill="#9088c8"/>
<circle cx="1565.29" cy="500.23" r="3.5" fill="#9088c8"/>
<circle cx="1684.68" cy="500.23" r="3.25" fill="#9088c8"/>
<circle cx="1525.5" cy="516.62" r="7.35" fill="#5e56ac"/>
<circle cx="1538.76" cy="516.62" r="6.65" fill="#6a62b4"/>
<circle cx="1591.82" cy="516.62" r="4.1" fill="#a9544c"/>
<circle cx="1684.68" cy="516.62" r="5.9" fill="#6a62b4"/>
<circle cx="1711.21" cy="516.62" r="6.65" fill="#6a62b4"/>
<circle cx="1525.5" cy="533.01" r="6.1" fill="#6a62b4"/>
<circle cx="1538.76" cy="533.01" r="6.1" fill="#6a62b4"/>
<circle cx="1684.68" cy="533.01" r="5.65" fill="#7068b8"/>
<circle cx="1711.21" cy="533.01" r="5.65" fill="#7068b8"/>
<circle cx="1737.74" cy="549.4" r="6.65" fill="#5e56ac"/>
<circle cx="1538.76" cy="565.79" r="5.5" fill="#7a70bc"/>
<circle cx="1790.8" cy="582.18" r="3.75" fill="#b96c64"/>
<circle cx="1525.5" cy="614.96" r="5.25" fill="#7a70bc"/>
<circle cx="1273.46" cy="631.35" r="4.25" fill="#a9544c"/>
<circle cx="1353.05" cy="631.35" r="5.3" fill="#7068b8"/>
<circle cx="1353.05" cy="647.74" r="3.95" fill="#9088c8"/>
<circle cx="1220.4" cy="680.52" r="4.75" fill="#6a62b4"/>
<circle cx="1260.2" cy="680.52" r="4.25" fill="#9088c8"/>
<circle cx="1379.58" cy="680.52" r="4.25" fill="#9088c8"/>
<circle cx="1406.11" cy="680.52" r="6.35" fill="#7a70bc"/>
<circle cx="1459.17" cy="680.52" r="5.3" fill="#8a82c4"/>
<circle cx="1366.32" cy="696.91" r="6.2" fill="#7a70bc"/>
<circle cx="1299.99" cy="713.3" r="7.25" fill="#862424"/>
<circle cx="1366.32" cy="713.3" r="4.25" fill="#9088c8"/>
<circle cx="1445.91" cy="713.3" r="6.5" fill="#7a70bc"/>
<circle cx="1233.67" cy="729.69" r="5.8" fill="#8a82c4"/>
<circle cx="1366.32" cy="746.08" r="6.6" fill="#7a70bc"/>
<circle cx="1233.67" cy="778.86" r="3.7" fill="#b96c64"/>
<circle cx="1392.85" cy="778.86" r="2.75" fill="#b96c64"/>
<circle cx="1286.73" cy="795.25" r="6.85" fill="#4a44a0"/>
<circle cx="1459.17" cy="795.25" r="5.3" fill="#4a44a0"/>
<circle cx="1286.73" cy="844.42" r="5.95" fill="#9088c8"/>
<circle cx="1525.5" cy="631.35" r="4.65" fill="#7a70bc"/>
<circle cx="1538.76" cy="631.35" r="6.6" fill="#5e56ac"/>
<circle cx="1684.68" cy="631.35" r="4.5" fill="#9088c8"/>
<circle cx="1711.21" cy="631.35" r="7" fill="#5e56ac"/>
<circle cx="1525.5" cy="647.74" r="6.35" fill="#6a62b4"/>
<circle cx="1538.76" cy="647.74" r="7.15" fill="#5a52ac"/>
<circle cx="1711.21" cy="647.74" r="7" fill="#5e56ac"/>
<circle cx="1525.5" cy="664.13" r="4.25" fill="#9088c8"/>
<circle cx="1538.76" cy="664.13" r="3.45" fill="#9088c8"/>
<circle cx="1605.09" cy="664.13" r="3.85" fill="#a9544c"/>
<circle cx="1644.88" cy="664.13" r="4.25" fill="#9088c8"/>
<circle cx="1697.94" cy="664.13" r="3.25" fill="#a9544c"/>
<circle cx="1711.21" cy="664.13" r="3.5" fill="#9088c8"/>
<circle cx="1751" cy="664.13" r="3.5" fill="#a9544c"/>
<circle cx="1525.5" cy="729.69" r="3.75" fill="#c4827a"/>
<circle cx="1737.74" cy="729.69" r="5.3" fill="#b96c64"/>
<circle cx="1578.56" cy="762.47" r="5.4" fill="#a9544c"/>
<circle cx="1658.14" cy="778.86" r="5.15" fill="#a9544c"/>
<circle cx="1618.35" cy="795.25" r="5.3" fill="#4a44a0"/>
<circle cx="1671.41" cy="795.25" r="5.95" fill="#943c38"/>
<circle cx="1777.53" cy="811.64" r="3.95" fill="#c88680"/>
<circle cx="1512.23" cy="828.03" r="4.9" fill="#9088c8"/>
<circle cx="1578.56" cy="828.03" r="2.5" fill="#c88680"/>
<circle cx="1512.23" cy="844.42" r="3.25" fill="#9088c8"/>
<circle cx="1552.03" cy="844.42" r="6.75" fill="#8a82c4"/>
<circle cx="1578.56" cy="844.42" r="7.5" fill="#b0645c"/>
<circle cx="1684.68" cy="844.42" r="3.5" fill="#9890cc"/>
<path d="M1207.3 221.6H1212.8M1207.3 237.99H1212.8M1207.3 254.38H1212.8M1207.3 270.77H1212.8M1207.3 287.16H1212.8M1207.3 303.55H1212.8M1207.3 319.94H1212.8M1207.3 336.33H1212.8M1207.3 352.72H1212.8M1207.3 369.11H1212.8M1207.3 385.5H1212.8M1207.3 401.89H1212.8M1207.3 418.28H1212.8M1207.3 434.67H1212.8M1207.3 451.06H1212.8M1207.3 467.45H1212.8M1207.3 483.84H1212.8M1207.3 500.23H1212.8M1207.3 516.62H1212.8M1207.3 533.01H1212.8M1207.3 549.4H1212.8M1207.3 565.79H1212.8M1207.3 582.18H1212.8M1207.3 598.57H1212.8M1207.3 614.96H1212.8M1207.3 631.35H1212.8M1207.3 647.74H1212.8M1207.3 664.13H1212.8M1207.3 680.52H1212.8M1207.3 696.91H1212.8M1207.3 713.3H1212.8M1207.3 729.69H1212.8M1207.3 746.08H1212.8M1207.3 762.47H1212.8M1207.3 778.86H1212.8M1207.3 795.25H1212.8M1207.3 811.64H1212.8M1207.3 828.03H1212.8M1207.3 844.42H1212.8M1220.4 854.5V859.3M1233.67 854.5V859.3M1246.93 854.5V859.3M1260.2 854.5V859.3M1273.46 854.5V859.3M1286.73 854.5V859.3M1299.99 854.5V859.3M1313.26 854.5V859.3M1326.52 854.5V859.3M1339.79 854.5V859.3M1353.05 854.5V859.3M1366.32 854.5V859.3M1379.58 854.5V859.3M1392.85 854.5V859.3M1406.11 854.5V859.3M1419.38 854.5V859.3M1432.64 854.5V859.3M1445.91 854.5V859.3M1459.17 854.5V859.3M1472.44 854.5V859.3M1485.7 854.5V859.3M1498.97 854.5V859.3M1512.23 854.5V859.3M1525.5 854.5V859.3M1538.76 854.5V859.3M1552.03 854.5V859.3M1565.29 854.5V859.3M1578.56 854.5V859.3M1591.82 854.5V859.3M1605.09 854.5V859.3M1618.35 854.5V859.3M1631.62 854.5V859.3M1644.88 854.5V859.3M1658.14 854.5V859.3M1671.41 854.5V859.3M1684.68 854.5V859.3M1697.94 854.5V859.3M1711.21 854.5V859.3M1724.47 854.5V859.3M1737.74 854.5V859.3M1751 854.5V859.3M1764.27 854.5V859.3M1777.53 854.5V859.3M1790.8 854.5V859.3" stroke="#000" stroke-width="1.3" fill="none"/>
<path d="M1212.8 212V854.5H1798.9" stroke="#000" stroke-width="1.6" fill="none"/>
<text x="1201.5" y="222.7" font-size="14.6" text-anchor="end" dominant-baseline="central">CD1cdim.BDCA1.</text>
<text x="1201.5" y="239.09" font-size="14.6" text-anchor="end" dominant-baseline="central">BDCA1..mDC</text>
<text x="1201.5" y="255.48" font-size="14.6" text-anchor="end" dominant-baseline="central">pDC.CD303.</text>
<text x="1201.5" y="271.87" font-size="14.6" text-anchor="end" dominant-baseline="central">BDCA2..pDC</text>
<text x="1201.5" y="288.26" font-size="14.6" text-anchor="end" dominant-baseline="central">pDC</text>
<text x="1201.5" y="304.65" font-size="14.6" text-anchor="end" dominant-baseline="central">cDC.CD1c.</text>
<text x="1201.5" y="321.04" font-size="14.6" text-anchor="end" dominant-baseline="central">cDC.CD141.</text>
<text x="1201.5" y="337.43" font-size="14.6" text-anchor="end" dominant-baseline="central">cDC.fully.diff</text>
<text x="1201.5" y="353.82" font-size="14.6" text-anchor="end" dominant-baseline="central">cDC</text>
<text x="1201.5" y="370.21" font-size="14.6" text-anchor="end" dominant-baseline="central">Non.classical.monocytes</text>
<text x="1201.5" y="386.6" font-size="14.6" text-anchor="end" dominant-baseline="central">Intermediate.monocytes</text>
<text x="1201.5" y="402.99" font-size="14.6" text-anchor="end" dominant-baseline="central">Classical.monocytes</text>
<text x="1201.5" y="419.38" font-size="14.6" text-anchor="end" dominant-baseline="central">Conventional.Th17</text>
<text x="1201.5" y="435.77" font-size="14.6" text-anchor="end" dominant-baseline="central">Th17</text>
<text x="1201.5" y="452.16" font-size="14.6" text-anchor="end" dominant-baseline="central">Th2</text>
<text x="1201.5" y="468.55" font-size="14.6" text-anchor="end" dominant-baseline="central">Th1</text>
<text x="1201.5" y="484.94" font-size="14.6" text-anchor="end" dominant-baseline="central">CD8..CD25.</text>
<text x="1201.5" y="501.33" font-size="14.6" text-anchor="end" dominant-baseline="central">Naive.Treg</text>
<text x="1201.5" y="517.72" font-size="14.6" text-anchor="end" dominant-baseline="central">Activated.Treg</text>
<text x="1201.5" y="534.11" font-size="14.6" text-anchor="end" dominant-baseline="central">Treg</text>
<text x="1201.5" y="550.5" font-size="14.6" text-anchor="end" dominant-baseline="central">TCRgd</text>
<text x="1201.5" y="566.89" font-size="14.6" text-anchor="end" dominant-baseline="central">CM.CD8</text>
<text x="1201.5" y="583.28" font-size="14.6" text-anchor="end" dominant-baseline="central">Effmem.CD8</text>
<text x="1201.5" y="599.67" font-size="14.6" text-anchor="end" dominant-baseline="central">Naive.CD8</text>
<text x="1201.5" y="616.06" font-size="14.6" text-anchor="end" dominant-baseline="central">CM.CD4</text>
<text x="1201.5" y="632.45" font-size="14.6" text-anchor="end" dominant-baseline="central">Effmem.CD4</text>
<text x="1201.5" y="648.84" font-size="14.6" text-anchor="end" dominant-baseline="central">CD4.</text>
<text x="1201.5" y="665.23" font-size="14.6" text-anchor="end" dominant-baseline="central">CD3.</text>
<text x="1201.5" y="681.62" font-size="14.6" text-anchor="end" dominant-baseline="central">Memory.B.cells</text>
<text x="1201.5" y="698.01" font-size="14.6" text-anchor="end" dominant-baseline="central">Follicular.B.cells</text>
<text x="1201.5" y="714.4" font-size="14.6" text-anchor="end" dominant-baseline="central">Transitional.B.cells</text>
<text x="1201.5" y="730.79" font-size="14.6" text-anchor="end" dominant-baseline="central">Immature.B.cells</text>
<text x="1201.5" y="747.18" font-size="14.6" text-anchor="end" dominant-baseline="central">B.cells</text>
<text x="1201.5" y="763.57" font-size="14.6" text-anchor="end" dominant-baseline="central">NKT.cells</text>
<text x="1201.5" y="779.96" font-size="14.6" text-anchor="end" dominant-baseline="central">Effector.NK.cells</text>
<text x="1201.5" y="796.35" font-size="14.6" text-anchor="end" dominant-baseline="central">NK</text>
<text x="1201.5" y="812.74" font-size="14.6" text-anchor="end" dominant-baseline="central">Lymphocytes</text>
<text x="1201.5" y="829.13" font-size="14.6" text-anchor="end" dominant-baseline="central">Leukocytes</text>
<text x="1201.5" y="845.52" font-size="14.6" text-anchor="end" dominant-baseline="central">Neutrophils</text>
<text transform="translate(1220.7 864) rotate(-90)" font-size="14.6" text-anchor="end" dominant-baseline="central">IL1RA</text>
<text transform="translate(1233.97 864) rotate(-90)" font-size="14.6" text-anchor="end" dominant-baseline="central">IL5</text>
<text transform="translate(1247.23 864) rotate(-90)" font-size="14.6" text-anchor="end" dominant-baseline="central">IL6</text>
<text transform="translate(1260.5 864) rotate(-90)" font-size="14.6" text-anchor="end" dominant-baseline="central">IL10</text>
<text transform="translate(1273.76 864) rotate(-90)" font-size="14.6" text-anchor="end" dominant-baseline="central">IL15</text>
<text transform="translate(1287.03 864) rotate(-90)" font-size="14.6" text-anchor="end" dominant-baseline="central">IL18</text>
<text transform="translate(1300.29 864) rotate(-90)" font-size="14.6" text-anchor="end" dominant-baseline="central">IL22</text>
<text transform="translate(1313.56 864) rotate(-90)" font-size="14.6" text-anchor="end" dominant-baseline="central">IFNa</text>
<text transform="translate(1326.82 864) rotate(-90)" font-size="14.6" text-anchor="end" dominant-baseline="central">APRIL</text>
<text transform="translate(1340.09 864) rotate(-90)" font-size="14.6" text-anchor="end" dominant-baseline="central">OSM</text>
<text transform="translate(1353.35 864) rotate(-90)" font-size="14.6" text-anchor="end" dominant-baseline="central">LAG3</text>
<text transform="translate(1366.62 864) rotate(-90)" font-size="14.6" text-anchor="end" dominant-baseline="central">I309</text>
<text transform="translate(1379.88 864) rotate(-90)" font-size="14.6" text-anchor="end" dominant-baseline="central">MIP1b</text>
<text transform="translate(1393.14 864) rotate(-90)" font-size="14.6" text-anchor="end" dominant-baseline="central">MIG</text>
<text transform="translate(1406.41 864) rotate(-90)" font-size="14.6" text-anchor="end" dominant-baseline="central">IP10</text>
<text transform="translate(1419.67 864) rotate(-90)" font-size="14.6" text-anchor="end" dominant-baseline="central">BLC</text>
<text transform="translate(1432.94 864) rotate(-90)" font-size="14.6" text-anchor="end" dominant-baseline="central">OPG</text>
<text transform="translate(1446.21 864) rotate(-90)" font-size="14.6" text-anchor="end" dominant-baseline="central">OPN</text>
<text transform="translate(1459.47 864) rotate(-90)" font-size="14.6" text-anchor="end" dominant-baseline="central">GCSF</text>
<text transform="translate(1472.74 864) rotate(-90)" font-size="14.6" text-anchor="end" dominant-baseline="central">MCSF</text>
<text transform="translate(1486 864) rotate(-90)" font-size="14.6" text-anchor="end" dominant-baseline="central">HGF</text>
<text transform="translate(1499.27 864) rotate(-90)" font-size="14.6" text-anchor="end" dominant-baseline="central">EGF</text>
<text transform="translate(1512.53 864) rotate(-90)" font-size="14.6" text-anchor="end" dominant-baseline="central">AR</text>
<text transform="translate(1525.8 864) rotate(-90)" font-size="14.6" text-anchor="end" dominant-baseline="central">VEGF</text>
<text transform="translate(1539.06 864) rotate(-90)" font-size="14.6" text-anchor="end" dominant-baseline="central">CD40L</text>
<text transform="translate(1552.33 864) rotate(-90)" font-size="14.6" text-anchor="end" dominant-baseline="central">FASL</text>
<text transform="translate(1565.59 864) rotate(-90)" font-size="14.6" text-anchor="end" dominant-baseline="central">IL1R1</text>
<text transform="translate(1578.86 864) rotate(-90)" font-size="14.6" text-anchor="end" dominant-baseline="central">IL1R2</text>
<text transform="translate(1592.12 864) rotate(-90)" font-size="14.6" text-anchor="end" dominant-baseline="central">ST2</text>
<text transform="translate(1605.38 864) rotate(-90)" font-size="14.6" text-anchor="end" dominant-baseline="central">TNFR1</text>
<text transform="translate(1618.65 864) rotate(-90)" font-size="14.6" text-anchor="end" dominant-baseline="central">sIL2Ra</text>
<text transform="translate(1631.92 864) rotate(-90)" font-size="14.6" text-anchor="end" dominant-baseline="central">sCD27</text>
<text transform="translate(1645.18 864) rotate(-90)" font-size="14.6" text-anchor="end" dominant-baseline="central">IL7Ra</text>
<text transform="translate(1658.44 864) rotate(-90)" font-size="14.6" text-anchor="end" dominant-baseline="central">sSCFR</text>
<text transform="translate(1671.71 864) rotate(-90)" font-size="14.6" text-anchor="end" dominant-baseline="central">Elastase</text>
<text transform="translate(1684.98 864) rotate(-90)" font-size="14.6" text-anchor="end" dominant-baseline="central">S100A8</text>
<text transform="translate(1698.24 864) rotate(-90)" font-size="14.6" text-anchor="end" dominant-baseline="central">Gal9</text>
<text transform="translate(1711.51 864) rotate(-90)" font-size="14.6" text-anchor="end" dominant-baseline="central">Ang1</text>
<text transform="translate(1724.77 864) rotate(-90)" font-size="14.6" text-anchor="end" dominant-baseline="central">Ang2</text>
<text transform="translate(1738.04 864) rotate(-90)" font-size="14.6" text-anchor="end" dominant-baseline="central">LAP</text>
<text transform="translate(1751.3 864) rotate(-90)" font-size="14.6" text-anchor="end" dominant-baseline="central">sVCAM</text>
<text transform="translate(1764.57 864) rotate(-90)" font-size="14.6" text-anchor="end" dominant-baseline="central">MMP3</text>
<text transform="translate(1777.83 864) rotate(-90)" font-size="14.6" text-anchor="end" dominant-baseline="central">Gal3</text>
<text transform="translate(1791.1 864) rotate(-90)" font-size="14.6" text-anchor="end" dominant-baseline="central">C5a</text>
<text transform="translate(1028.1 532) rotate(-90)" font-size="20.5" text-anchor="middle" dominant-baseline="central">Cellcount</text>
<text x="1505.9" y="938.8" font-size="20" text-anchor="middle">Protein</text>
<defs><linearGradient id="cb" x1="0" y1="0" x2="0" y2="1"><stop offset="0" stop-color="#8a2a2a"/><stop offset="0.26" stop-color="#c88983"/><stop offset="0.52" stop-color="#ffffff"/><stop offset="0.78" stop-color="#a29dd0"/><stop offset="1" stop-color="#4a44a0"/></linearGradient></defs>
<text x="1827" y="427" font-size="20">R</text>
<rect x="1828.3" y="437.9" width="12.7" height="61.4" fill="url(#cb)"/>
<path d="M1828.3 453.4h2.5M1838.5 453.4h2.5M1828.3 486.4h2.5M1838.5 486.4h2.5" stroke="#fff" stroke-width="0.8"/>
<text x="1847.5" y="454.2" font-size="14" dominant-baseline="central">0.5</text>
<text x="1847.5" y="470.9" font-size="14" dominant-baseline="central">0.0</text>
<text x="1859.8" y="486.9" font-size="14" dominant-baseline="central">−0.5</text>
<text x="1842" y="555.4" font-size="20.5">−log10(P)</text>
<circle cx="1839.9" cy="574.4" r="4.8" fill="#000"/>
<text x="1856.6" y="574.4" font-size="14" dominant-baseline="central">1.5</text>
<circle cx="1839.9" cy="589.4" r="6.4" fill="#000"/>
<text x="1856.6" y="589.4" font-size="14" dominant-baseline="central">2.0</text>
<circle cx="1839.9" cy="605.3" r="7.7" fill="#000"/>
<text x="1856.6" y="605.3" font-size="14" dominant-baseline="central">2.5</text>
<circle cx="1839.9" cy="624.3" r="8.65" fill="#000"/>
<text x="1856.6" y="624.3" font-size="14" dominant-baseline="central">3.0</text>
<circle cx="1839.9" cy="645.4" r="9.4" fill="#000"/>
<text x="1856.6" y="645.4" font-size="14" dominant-baseline="central">3.5</text>
</svg>
</body></html>
